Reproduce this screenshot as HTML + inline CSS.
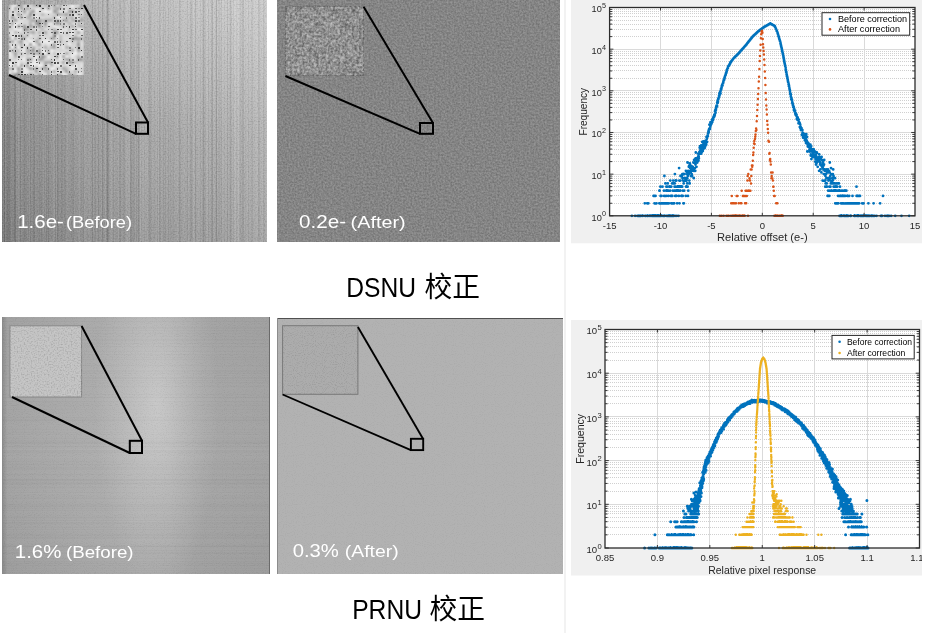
<!DOCTYPE html><html><head><meta charset="utf-8"><title>DSNU / PRNU</title><style>html,body{margin:0;padding:0;background:#fff;width:928px;height:635px;overflow:hidden}</style></head><body><svg width="928" height="635" viewBox="0 0 928 635" style="display:block">
<defs>
<filter id="fGrain" x="0" y="0" width="100%" height="100%" color-interpolation-filters="sRGB">
  <feTurbulence type="fractalNoise" baseFrequency="0.9" numOctaves="1" seed="5" result="t"/>
  <feColorMatrix in="t" type="matrix" values="0 0 0 0 0  0 0 0 0 0  0 0 0 0 0  2.2 0 0 0 -1.1" result="a"/>
  <feFlood flood-color="#000" result="blk"/>
  <feComposite in="blk" in2="a" operator="in"/>
</filter>
<filter id="fSoftD" x="0" y="0" width="100%" height="100%" color-interpolation-filters="sRGB">
  <feTurbulence type="fractalNoise" baseFrequency="0.7" numOctaves="1" seed="5" result="t"/>
  <feColorMatrix in="t" type="matrix" values="0 0 0 0 0  0 0 0 0 0  0 0 0 0 0  -1.2 0 0 0 0.6" result="a"/>
  <feFlood flood-color="#000" result="blk"/>
  <feComposite in="blk" in2="a" operator="in" result="c"/>
  <feGaussianBlur in="c" stdDeviation="0.35"/>
</filter>
<filter id="fSoftL" x="0" y="0" width="100%" height="100%" color-interpolation-filters="sRGB">
  <feTurbulence type="fractalNoise" baseFrequency="0.7" numOctaves="1" seed="5" result="t"/>
  <feColorMatrix in="t" type="matrix" values="0 0 0 0 0  0 0 0 0 0  0 0 0 0 0  1.2 0 0 0 -0.6" result="a"/>
  <feFlood flood-color="#fff" result="w"/>
  <feComposite in="w" in2="a" operator="in" result="c"/>
  <feGaussianBlur in="c" stdDeviation="0.35"/>
</filter>
<filter id="fCoarseD" x="0" y="0" width="100%" height="100%" color-interpolation-filters="sRGB">
  <feTurbulence type="fractalNoise" baseFrequency="0.42" numOctaves="2" seed="17" result="t"/>
  <feColorMatrix in="t" type="matrix" values="0 0 0 0 0  0 0 0 0 0  0 0 0 0 0  -2.4 0 0 0 1.15" result="a"/>
  <feFlood flood-color="#000" result="blk"/>
  <feComposite in="blk" in2="a" operator="in"/>
</filter>
<filter id="fCoarseL" x="0" y="0" width="100%" height="100%" color-interpolation-filters="sRGB">
  <feTurbulence type="fractalNoise" baseFrequency="0.42" numOctaves="2" seed="17" result="t"/>
  <feColorMatrix in="t" type="matrix" values="0 0 0 0 0  0 0 0 0 0  0 0 0 0 0  2.6 0 0 0 -1.25" result="a"/>
  <feFlood flood-color="#fff" result="w"/>
  <feComposite in="w" in2="a" operator="in"/>
</filter>
<filter id="fBlur2" x="-5%" y="-5%" width="110%" height="110%"><feGaussianBlur stdDeviation="0.8"/></filter>
<filter id="fMedD" x="0" y="0" width="100%" height="100%" color-interpolation-filters="sRGB">
  <feTurbulence type="fractalNoise" baseFrequency="0.55" numOctaves="2" seed="23" result="t"/>
  <feColorMatrix in="t" type="matrix" values="0 0 0 0 0  0 0 0 0 0  0 0 0 0 0  -2 0 0 0 1" result="a"/>
  <feFlood flood-color="#000" result="blk"/>
  <feComposite in="blk" in2="a" operator="in"/>
</filter>
<filter id="fMedL" x="0" y="0" width="100%" height="100%" color-interpolation-filters="sRGB">
  <feTurbulence type="fractalNoise" baseFrequency="0.55" numOctaves="2" seed="23" result="t"/>
  <feColorMatrix in="t" type="matrix" values="0 0 0 0 0  0 0 0 0 0  0 0 0 0 0  2 0 0 0 -1" result="a"/>
  <feFlood flood-color="#fff" result="w"/>
  <feComposite in="w" in2="a" operator="in"/>
</filter>
<filter id="fBlur" x="-5%" y="-5%" width="110%" height="110%"><feGaussianBlur stdDeviation="0.8"/></filter>
<clipPath id="clipInsA"><rect x="8.5" y="4.5" width="75.5" height="70.5"/></clipPath>

<linearGradient id="gA" x1="0" y1="0" x2="1" y2="0">
  <stop offset="0" stop-color="#808080"/>
  <stop offset="0.03" stop-color="#8c8c8c"/>
  <stop offset="0.15" stop-color="#969696"/>
  <stop offset="0.30" stop-color="#9e9e9e"/>
  <stop offset="0.44" stop-color="#a4a4a4"/>
  <stop offset="0.53" stop-color="#aeaeae"/>
  <stop offset="0.62" stop-color="#a9a9a9"/>
  <stop offset="0.72" stop-color="#aeaeae"/>
  <stop offset="0.86" stop-color="#b4b4b4"/>
  <stop offset="1" stop-color="#b8b8b8"/>
</linearGradient>
<linearGradient id="gAv" x1="0" y1="0" x2="0" y2="1">
  <stop offset="0" stop-color="#fff" stop-opacity="0.22"/>
  <stop offset="0.40" stop-color="#fff" stop-opacity="0.04"/>
  <stop offset="0.65" stop-color="#000" stop-opacity="0.02"/>
  <stop offset="1" stop-color="#000" stop-opacity="0.09"/>
</linearGradient>
<radialGradient id="gAr" cx="0.85" cy="0.05" r="0.6">
  <stop offset="0" stop-color="#fff" stop-opacity="0.14"/>
  <stop offset="1" stop-color="#fff" stop-opacity="0"/>
</radialGradient>
<linearGradient id="gC" x1="0" y1="0" x2="1" y2="0">
  <stop offset="0" stop-color="#8e8e8e"/>
  <stop offset="0.02" stop-color="#a5a5a5"/>
  <stop offset="0.30" stop-color="#adadad"/>
  <stop offset="0.50" stop-color="#b1b1b1"/>
  <stop offset="0.62" stop-color="#afafaf"/>
  <stop offset="0.74" stop-color="#a8a8a8"/>
  <stop offset="1" stop-color="#a4a4a4"/>
</linearGradient>
<radialGradient id="gCr" gradientUnits="userSpaceOnUse" cx="157" cy="405" r="100" gradientTransform="translate(157 405) scale(0.62 1.9) translate(-157 -405)">
  <stop offset="0" stop-color="#fff" stop-opacity="0.32"/>
  <stop offset="0.5" stop-color="#fff" stop-opacity="0.14"/>
  <stop offset="1" stop-color="#fff" stop-opacity="0"/>
</radialGradient>
<linearGradient id="gCv" x1="0" y1="0" x2="0" y2="1">
  <stop offset="0" stop-color="#000" stop-opacity="0.02"/>
  <stop offset="0.5" stop-color="#000" stop-opacity="0"/>
  <stop offset="1" stop-color="#000" stop-opacity="0.04"/>
</linearGradient>
</defs>
<rect x="0" y="0" width="928" height="635" fill="#fff"/>
<rect x="564" y="0" width="2" height="633" fill="#f2f2f2"/>
<rect x="2" y="0" width="265" height="242" fill="url(#gA)"/>
<rect x="2" y="0" width="265" height="242" fill="url(#gAv)"/>
<rect x="2" y="0" width="265" height="242" fill="url(#gAr)"/>
<g><rect x="2" y="0" width="1" height="242" fill="#fff" fill-opacity="0.020"/><rect x="3" y="0" width="1" height="242" fill="#fff" fill-opacity="0.083"/><rect x="4" y="0" width="1" height="242" fill="#000" fill-opacity="0.098"/><rect x="5" y="0" width="1" height="242" fill="#fff" fill-opacity="0.093"/><rect x="7" y="0" width="1" height="242" fill="#000" fill-opacity="0.044"/><rect x="8" y="0" width="1" height="242" fill="#000" fill-opacity="0.044"/><rect x="9" y="0" width="1" height="242" fill="#000" fill-opacity="0.060"/><rect x="11" y="0" width="1" height="242" fill="#fff" fill-opacity="0.046"/><rect x="12" y="0" width="1" height="242" fill="#fff" fill-opacity="0.032"/><rect x="13" y="0" width="1" height="242" fill="#fff" fill-opacity="0.035"/><rect x="14" y="0" width="1" height="242" fill="#000" fill-opacity="0.093"/><rect x="15" y="0" width="1" height="242" fill="#000" fill-opacity="0.086"/><rect x="16" y="0" width="1" height="242" fill="#fff" fill-opacity="0.085"/><rect x="17" y="0" width="1" height="242" fill="#fff" fill-opacity="0.053"/><rect x="18" y="0" width="1" height="242" fill="#fff" fill-opacity="0.120"/><rect x="19" y="0" width="1" height="242" fill="#fff" fill-opacity="0.067"/><rect x="20" y="0" width="1" height="242" fill="#000" fill-opacity="0.056"/><rect x="21" y="0" width="1" height="242" fill="#fff" fill-opacity="0.071"/><rect x="22" y="0" width="1" height="242" fill="#fff" fill-opacity="0.035"/><rect x="24" y="0" width="1" height="242" fill="#000" fill-opacity="0.045"/><rect x="27" y="0" width="1" height="242" fill="#fff" fill-opacity="0.049"/><rect x="29" y="0" width="1" height="242" fill="#fff" fill-opacity="0.087"/><rect x="30" y="0" width="1" height="242" fill="#000" fill-opacity="0.043"/><rect x="31" y="0" width="1" height="242" fill="#fff" fill-opacity="0.026"/><rect x="32" y="0" width="1" height="242" fill="#fff" fill-opacity="0.027"/><rect x="33" y="0" width="1" height="242" fill="#000" fill-opacity="0.048"/><rect x="34" y="0" width="1" height="242" fill="#000" fill-opacity="0.065"/><rect x="35" y="0" width="1" height="242" fill="#fff" fill-opacity="0.056"/><rect x="36" y="0" width="1" height="242" fill="#fff" fill-opacity="0.028"/><rect x="38" y="0" width="1" height="242" fill="#fff" fill-opacity="0.022"/><rect x="39" y="0" width="1" height="242" fill="#000" fill-opacity="0.037"/><rect x="41" y="0" width="1" height="242" fill="#000" fill-opacity="0.033"/><rect x="43" y="0" width="1" height="242" fill="#fff" fill-opacity="0.054"/><rect x="44" y="0" width="1" height="242" fill="#000" fill-opacity="0.019"/><rect x="45" y="0" width="1" height="242" fill="#fff" fill-opacity="0.047"/><rect x="46" y="0" width="1" height="242" fill="#000" fill-opacity="0.057"/><rect x="48" y="0" width="1" height="242" fill="#000" fill-opacity="0.075"/><rect x="53" y="0" width="1" height="242" fill="#fff" fill-opacity="0.074"/><rect x="54" y="0" width="1" height="242" fill="#fff" fill-opacity="0.078"/><rect x="55" y="0" width="1" height="242" fill="#000" fill-opacity="0.067"/><rect x="56" y="0" width="1" height="242" fill="#fff" fill-opacity="0.065"/><rect x="57" y="0" width="1" height="242" fill="#000" fill-opacity="0.095"/><rect x="58" y="0" width="1" height="242" fill="#000" fill-opacity="0.040"/><rect x="61" y="0" width="1" height="242" fill="#000" fill-opacity="0.058"/><rect x="62" y="0" width="1" height="242" fill="#000" fill-opacity="0.040"/><rect x="64" y="0" width="1" height="242" fill="#000" fill-opacity="0.038"/><rect x="65" y="0" width="1" height="242" fill="#000" fill-opacity="0.035"/><rect x="66" y="0" width="1" height="242" fill="#fff" fill-opacity="0.037"/><rect x="67" y="0" width="1" height="242" fill="#fff" fill-opacity="0.051"/><rect x="71" y="0" width="1" height="242" fill="#000" fill-opacity="0.025"/><rect x="72" y="0" width="1" height="242" fill="#000" fill-opacity="0.028"/><rect x="73" y="0" width="1" height="242" fill="#000" fill-opacity="0.057"/><rect x="74" y="0" width="1" height="242" fill="#fff" fill-opacity="0.036"/><rect x="78" y="0" width="1" height="242" fill="#fff" fill-opacity="0.029"/><rect x="79" y="0" width="1" height="242" fill="#fff" fill-opacity="0.078"/><rect x="81" y="0" width="1" height="242" fill="#000" fill-opacity="0.022"/><rect x="83" y="0" width="1" height="242" fill="#000" fill-opacity="0.047"/><rect x="84" y="0" width="1" height="242" fill="#fff" fill-opacity="0.070"/><rect x="85" y="0" width="1" height="242" fill="#fff" fill-opacity="0.051"/><rect x="86" y="0" width="1" height="242" fill="#fff" fill-opacity="0.038"/><rect x="88" y="0" width="1" height="242" fill="#fff" fill-opacity="0.041"/><rect x="89" y="0" width="1" height="242" fill="#fff" fill-opacity="0.058"/><rect x="90" y="0" width="1" height="242" fill="#fff" fill-opacity="0.027"/><rect x="92" y="0" width="1" height="242" fill="#000" fill-opacity="0.093"/><rect x="93" y="0" width="1" height="242" fill="#fff" fill-opacity="0.052"/><rect x="94" y="0" width="1" height="242" fill="#000" fill-opacity="0.019"/><rect x="95" y="0" width="1" height="242" fill="#000" fill-opacity="0.046"/><rect x="96" y="0" width="1" height="242" fill="#fff" fill-opacity="0.049"/><rect x="97" y="0" width="1" height="242" fill="#fff" fill-opacity="0.019"/><rect x="98" y="0" width="1" height="242" fill="#000" fill-opacity="0.078"/><rect x="101" y="0" width="1" height="242" fill="#fff" fill-opacity="0.055"/><rect x="102" y="0" width="1" height="242" fill="#000" fill-opacity="0.104"/><rect x="103" y="0" width="1" height="242" fill="#000" fill-opacity="0.021"/><rect x="105" y="0" width="1" height="242" fill="#fff" fill-opacity="0.078"/><rect x="106" y="0" width="1" height="242" fill="#000" fill-opacity="0.060"/><rect x="107" y="0" width="1" height="242" fill="#000" fill-opacity="0.160"/><rect x="108" y="0" width="1" height="242" fill="#000" fill-opacity="0.076"/><rect x="110" y="0" width="1" height="242" fill="#fff" fill-opacity="0.045"/><rect x="111" y="0" width="1" height="242" fill="#fff" fill-opacity="0.095"/><rect x="112" y="0" width="1" height="242" fill="#fff" fill-opacity="0.022"/><rect x="113" y="0" width="1" height="242" fill="#000" fill-opacity="0.044"/><rect x="114" y="0" width="1" height="242" fill="#fff" fill-opacity="0.049"/><rect x="118" y="0" width="1" height="242" fill="#fff" fill-opacity="0.070"/><rect x="119" y="0" width="1" height="242" fill="#000" fill-opacity="0.050"/><rect x="120" y="0" width="1" height="242" fill="#000" fill-opacity="0.056"/><rect x="123" y="0" width="1" height="242" fill="#000" fill-opacity="0.045"/><rect x="124" y="0" width="1" height="242" fill="#000" fill-opacity="0.048"/><rect x="125" y="0" width="1" height="242" fill="#fff" fill-opacity="0.021"/><rect x="126" y="0" width="1" height="242" fill="#fff" fill-opacity="0.074"/><rect x="127" y="0" width="1" height="242" fill="#fff" fill-opacity="0.039"/><rect x="128" y="0" width="1" height="242" fill="#fff" fill-opacity="0.038"/><rect x="129" y="0" width="1" height="242" fill="#fff" fill-opacity="0.069"/><rect x="130" y="0" width="1" height="242" fill="#000" fill-opacity="0.110"/><rect x="131" y="0" width="1" height="242" fill="#000" fill-opacity="0.083"/><rect x="132" y="0" width="1" height="242" fill="#000" fill-opacity="0.039"/><rect x="133" y="0" width="1" height="242" fill="#000" fill-opacity="0.066"/><rect x="134" y="0" width="1" height="242" fill="#000" fill-opacity="0.054"/><rect x="136" y="0" width="1" height="242" fill="#000" fill-opacity="0.071"/><rect x="137" y="0" width="1" height="242" fill="#000" fill-opacity="0.024"/><rect x="138" y="0" width="1" height="242" fill="#000" fill-opacity="0.112"/><rect x="139" y="0" width="1" height="242" fill="#000" fill-opacity="0.054"/><rect x="140" y="0" width="1" height="242" fill="#fff" fill-opacity="0.074"/><rect x="141" y="0" width="1" height="242" fill="#000" fill-opacity="0.030"/><rect x="142" y="0" width="1" height="242" fill="#fff" fill-opacity="0.018"/><rect x="143" y="0" width="1" height="242" fill="#fff" fill-opacity="0.039"/><rect x="144" y="0" width="1" height="242" fill="#000" fill-opacity="0.027"/><rect x="145" y="0" width="1" height="242" fill="#fff" fill-opacity="0.032"/><rect x="147" y="0" width="1" height="242" fill="#fff" fill-opacity="0.038"/><rect x="148" y="0" width="1" height="242" fill="#000" fill-opacity="0.035"/><rect x="149" y="0" width="1" height="242" fill="#000" fill-opacity="0.079"/><rect x="150" y="0" width="1" height="242" fill="#000" fill-opacity="0.056"/><rect x="151" y="0" width="1" height="242" fill="#000" fill-opacity="0.031"/><rect x="152" y="0" width="1" height="242" fill="#fff" fill-opacity="0.029"/><rect x="154" y="0" width="1" height="242" fill="#000" fill-opacity="0.022"/><rect x="156" y="0" width="1" height="242" fill="#fff" fill-opacity="0.060"/><rect x="157" y="0" width="1" height="242" fill="#000" fill-opacity="0.032"/><rect x="158" y="0" width="1" height="242" fill="#fff" fill-opacity="0.083"/><rect x="159" y="0" width="1" height="242" fill="#000" fill-opacity="0.068"/><rect x="160" y="0" width="1" height="242" fill="#000" fill-opacity="0.033"/><rect x="161" y="0" width="1" height="242" fill="#fff" fill-opacity="0.047"/><rect x="162" y="0" width="1" height="242" fill="#fff" fill-opacity="0.028"/><rect x="163" y="0" width="1" height="242" fill="#000" fill-opacity="0.047"/><rect x="165" y="0" width="1" height="242" fill="#000" fill-opacity="0.039"/><rect x="166" y="0" width="1" height="242" fill="#fff" fill-opacity="0.047"/><rect x="167" y="0" width="1" height="242" fill="#fff" fill-opacity="0.030"/><rect x="168" y="0" width="1" height="242" fill="#000" fill-opacity="0.039"/><rect x="169" y="0" width="1" height="242" fill="#fff" fill-opacity="0.022"/><rect x="170" y="0" width="1" height="242" fill="#000" fill-opacity="0.020"/><rect x="173" y="0" width="1" height="242" fill="#000" fill-opacity="0.031"/><rect x="174" y="0" width="1" height="242" fill="#fff" fill-opacity="0.023"/><rect x="175" y="0" width="1" height="242" fill="#fff" fill-opacity="0.025"/><rect x="176" y="0" width="1" height="242" fill="#fff" fill-opacity="0.023"/><rect x="177" y="0" width="1" height="242" fill="#fff" fill-opacity="0.061"/><rect x="179" y="0" width="1" height="242" fill="#000" fill-opacity="0.082"/><rect x="180" y="0" width="1" height="242" fill="#000" fill-opacity="0.027"/><rect x="183" y="0" width="1" height="242" fill="#fff" fill-opacity="0.032"/><rect x="184" y="0" width="1" height="242" fill="#fff" fill-opacity="0.044"/><rect x="187" y="0" width="1" height="242" fill="#000" fill-opacity="0.054"/><rect x="188" y="0" width="1" height="242" fill="#fff" fill-opacity="0.057"/><rect x="190" y="0" width="1" height="242" fill="#000" fill-opacity="0.060"/><rect x="191" y="0" width="1" height="242" fill="#000" fill-opacity="0.061"/><rect x="192" y="0" width="1" height="242" fill="#000" fill-opacity="0.023"/><rect x="193" y="0" width="1" height="242" fill="#fff" fill-opacity="0.086"/><rect x="194" y="0" width="1" height="242" fill="#fff" fill-opacity="0.042"/><rect x="195" y="0" width="1" height="242" fill="#000" fill-opacity="0.093"/><rect x="198" y="0" width="1" height="242" fill="#fff" fill-opacity="0.034"/><rect x="199" y="0" width="1" height="242" fill="#fff" fill-opacity="0.019"/><rect x="200" y="0" width="1" height="242" fill="#000" fill-opacity="0.035"/><rect x="201" y="0" width="1" height="242" fill="#fff" fill-opacity="0.023"/><rect x="202" y="0" width="1" height="242" fill="#000" fill-opacity="0.030"/><rect x="203" y="0" width="1" height="242" fill="#000" fill-opacity="0.123"/><rect x="204" y="0" width="1" height="242" fill="#000" fill-opacity="0.039"/><rect x="205" y="0" width="1" height="242" fill="#000" fill-opacity="0.038"/><rect x="206" y="0" width="1" height="242" fill="#fff" fill-opacity="0.052"/><rect x="207" y="0" width="1" height="242" fill="#fff" fill-opacity="0.058"/><rect x="208" y="0" width="1" height="242" fill="#000" fill-opacity="0.057"/><rect x="211" y="0" width="1" height="242" fill="#000" fill-opacity="0.079"/><rect x="212" y="0" width="1" height="242" fill="#000" fill-opacity="0.113"/><rect x="215" y="0" width="1" height="242" fill="#000" fill-opacity="0.033"/><rect x="216" y="0" width="1" height="242" fill="#000" fill-opacity="0.149"/><rect x="218" y="0" width="1" height="242" fill="#000" fill-opacity="0.032"/><rect x="219" y="0" width="1" height="242" fill="#000" fill-opacity="0.049"/><rect x="220" y="0" width="1" height="242" fill="#000" fill-opacity="0.018"/><rect x="221" y="0" width="1" height="242" fill="#000" fill-opacity="0.062"/><rect x="222" y="0" width="1" height="242" fill="#fff" fill-opacity="0.031"/><rect x="224" y="0" width="1" height="242" fill="#000" fill-opacity="0.031"/><rect x="227" y="0" width="1" height="242" fill="#000" fill-opacity="0.084"/><rect x="229" y="0" width="1" height="242" fill="#000" fill-opacity="0.025"/><rect x="230" y="0" width="1" height="242" fill="#000" fill-opacity="0.096"/><rect x="231" y="0" width="1" height="242" fill="#000" fill-opacity="0.036"/><rect x="232" y="0" width="1" height="242" fill="#fff" fill-opacity="0.023"/><rect x="233" y="0" width="1" height="242" fill="#000" fill-opacity="0.034"/><rect x="234" y="0" width="1" height="242" fill="#fff" fill-opacity="0.077"/><rect x="235" y="0" width="1" height="242" fill="#fff" fill-opacity="0.093"/><rect x="236" y="0" width="1" height="242" fill="#000" fill-opacity="0.017"/><rect x="237" y="0" width="1" height="242" fill="#fff" fill-opacity="0.030"/><rect x="238" y="0" width="1" height="242" fill="#fff" fill-opacity="0.110"/><rect x="239" y="0" width="1" height="242" fill="#000" fill-opacity="0.018"/><rect x="240" y="0" width="1" height="242" fill="#000" fill-opacity="0.049"/><rect x="241" y="0" width="1" height="242" fill="#000" fill-opacity="0.023"/><rect x="242" y="0" width="1" height="242" fill="#000" fill-opacity="0.076"/><rect x="243" y="0" width="1" height="242" fill="#000" fill-opacity="0.074"/><rect x="245" y="0" width="1" height="242" fill="#000" fill-opacity="0.023"/><rect x="247" y="0" width="1" height="242" fill="#fff" fill-opacity="0.027"/><rect x="248" y="0" width="1" height="242" fill="#000" fill-opacity="0.042"/><rect x="251" y="0" width="1" height="242" fill="#000" fill-opacity="0.037"/><rect x="252" y="0" width="1" height="242" fill="#000" fill-opacity="0.046"/><rect x="253" y="0" width="1" height="242" fill="#fff" fill-opacity="0.017"/><rect x="255" y="0" width="1" height="242" fill="#fff" fill-opacity="0.018"/><rect x="256" y="0" width="1" height="242" fill="#fff" fill-opacity="0.055"/><rect x="257" y="0" width="1" height="242" fill="#fff" fill-opacity="0.056"/><rect x="258" y="0" width="1" height="242" fill="#000" fill-opacity="0.061"/><rect x="259" y="0" width="1" height="242" fill="#000" fill-opacity="0.047"/><rect x="262" y="0" width="1" height="242" fill="#fff" fill-opacity="0.052"/><rect x="263" y="0" width="1" height="242" fill="#000" fill-opacity="0.053"/><rect x="264" y="0" width="1" height="242" fill="#000" fill-opacity="0.024"/><rect x="266" y="0" width="1" height="242" fill="#fff" fill-opacity="0.068"/></g>
<rect x="2" y="0" width="265" height="242" filter="url(#fSoftD)" opacity="0.3"/>
<rect x="2" y="0" width="265" height="242" filter="url(#fSoftL)" opacity="0.3"/>
<g clip-path="url(#clipInsA)"><g filter="url(#fBlur)"><rect x="8" y="4" width="76" height="71" fill="#d6d6d6"/><rect x="8" y="4" width="3" height="3" fill="#bdbdbd"/><rect x="11" y="4" width="3" height="3" fill="#e0e0e0"/><rect x="14" y="4" width="3" height="3" fill="#efefef"/><rect x="17" y="4" width="3" height="3" fill="#9c9c9c"/><rect x="20" y="4" width="3" height="3" fill="#aaaaaa"/><rect x="29" y="4" width="3" height="3" fill="#d8d8d8"/><rect x="32" y="4" width="3" height="3" fill="#bebebe"/><rect x="35" y="4" width="3" height="3" fill="#a7a7a7"/><rect x="38" y="4" width="3" height="3" fill="#979797"/><rect x="41" y="4" width="3" height="3" fill="#dfdfdf"/><rect x="44" y="4" width="3" height="3" fill="#bababa"/><rect x="53" y="4" width="3" height="3" fill="#9d9d9d"/><rect x="59" y="4" width="3" height="3" fill="#afafaf"/><rect x="62" y="4" width="3" height="3" fill="#e4e4e4"/><rect x="71" y="4" width="3" height="3" fill="#f0f0f0"/><rect x="77" y="4" width="3" height="3" fill="#dcdcdc"/><rect x="80" y="4" width="3" height="3" fill="#959595"/><rect x="8" y="7" width="3" height="3" fill="#ababab"/><rect x="11" y="7" width="3" height="3" fill="#f1f1f1"/><rect x="14" y="7" width="3" height="3" fill="#9d9d9d"/><rect x="17" y="7" width="3" height="3" fill="#e2e2e2"/><rect x="20" y="7" width="3" height="3" fill="#a3a3a3"/><rect x="26" y="7" width="3" height="3" fill="#a8a8a8"/><rect x="35" y="7" width="3" height="3" fill="#e3e3e3"/><rect x="38" y="7" width="3" height="3" fill="#e9e9e9"/><rect x="41" y="7" width="3" height="3" fill="#b3b3b3"/><rect x="44" y="7" width="3" height="3" fill="#e1e1e1"/><rect x="47" y="7" width="3" height="3" fill="#9e9e9e"/><rect x="53" y="7" width="3" height="3" fill="#bdbdbd"/><rect x="56" y="7" width="3" height="3" fill="#a3a3a3"/><rect x="59" y="7" width="3" height="3" fill="#bebebe"/><rect x="71" y="7" width="3" height="3" fill="#dddddd"/><rect x="77" y="7" width="3" height="3" fill="#b0b0b0"/><rect x="80" y="7" width="3" height="3" fill="#aeaeae"/><rect x="20" y="10" width="3" height="3" fill="#dedede"/><rect x="23" y="10" width="3" height="3" fill="#959595"/><rect x="26" y="10" width="3" height="3" fill="#e0e0e0"/><rect x="29" y="10" width="3" height="3" fill="#b8b8b8"/><rect x="32" y="10" width="3" height="3" fill="#969696"/><rect x="35" y="10" width="3" height="3" fill="#efefef"/><rect x="41" y="10" width="3" height="3" fill="#e9e9e9"/><rect x="44" y="10" width="3" height="3" fill="#f0f0f0"/><rect x="47" y="10" width="3" height="3" fill="#eeeeee"/><rect x="50" y="10" width="3" height="3" fill="#e8e8e8"/><rect x="53" y="10" width="3" height="3" fill="#919191"/><rect x="56" y="10" width="3" height="3" fill="#b9b9b9"/><rect x="59" y="10" width="3" height="3" fill="#ececec"/><rect x="65" y="10" width="3" height="3" fill="#e7e7e7"/><rect x="68" y="10" width="3" height="3" fill="#999999"/><rect x="71" y="10" width="3" height="3" fill="#919191"/><rect x="77" y="10" width="3" height="3" fill="#dedede"/><rect x="8" y="13" width="3" height="3" fill="#d9d9d9"/><rect x="11" y="13" width="3" height="3" fill="#dadada"/><rect x="14" y="13" width="3" height="3" fill="#e0e0e0"/><rect x="17" y="13" width="3" height="3" fill="#969696"/><rect x="29" y="13" width="3" height="3" fill="#8f8f8f"/><rect x="38" y="13" width="3" height="3" fill="#dcdcdc"/><rect x="41" y="13" width="3" height="3" fill="#b3b3b3"/><rect x="56" y="13" width="3" height="3" fill="#a3a3a3"/><rect x="59" y="13" width="3" height="3" fill="#aaaaaa"/><rect x="62" y="13" width="3" height="3" fill="#b9b9b9"/><rect x="65" y="13" width="3" height="3" fill="#939393"/><rect x="74" y="13" width="3" height="3" fill="#dcdcdc"/><rect x="77" y="13" width="3" height="3" fill="#b5b5b5"/><rect x="8" y="16" width="3" height="3" fill="#e0e0e0"/><rect x="11" y="16" width="3" height="3" fill="#8f8f8f"/><rect x="17" y="16" width="3" height="3" fill="#e2e2e2"/><rect x="20" y="16" width="3" height="3" fill="#929292"/><rect x="23" y="16" width="3" height="3" fill="#ebebeb"/><rect x="26" y="16" width="3" height="3" fill="#aeaeae"/><rect x="29" y="16" width="3" height="3" fill="#b7b7b7"/><rect x="32" y="16" width="3" height="3" fill="#dbdbdb"/><rect x="35" y="16" width="3" height="3" fill="#f4f4f4"/><rect x="41" y="16" width="3" height="3" fill="#dedede"/><rect x="53" y="16" width="3" height="3" fill="#b4b4b4"/><rect x="56" y="16" width="3" height="3" fill="#f2f2f2"/><rect x="59" y="16" width="3" height="3" fill="#f3f3f3"/><rect x="68" y="16" width="3" height="3" fill="#c0c0c0"/><rect x="71" y="16" width="3" height="3" fill="#b2b2b2"/><rect x="74" y="16" width="3" height="3" fill="#ebebeb"/><rect x="77" y="16" width="3" height="3" fill="#ececec"/><rect x="80" y="16" width="3" height="3" fill="#b3b3b3"/><rect x="14" y="19" width="3" height="3" fill="#909090"/><rect x="17" y="19" width="3" height="3" fill="#dcdcdc"/><rect x="20" y="19" width="3" height="3" fill="#e4e4e4"/><rect x="29" y="19" width="3" height="3" fill="#b9b9b9"/><rect x="32" y="19" width="3" height="3" fill="#a2a2a2"/><rect x="35" y="19" width="3" height="3" fill="#b4b4b4"/><rect x="38" y="19" width="3" height="3" fill="#9e9e9e"/><rect x="41" y="19" width="3" height="3" fill="#bababa"/><rect x="44" y="19" width="3" height="3" fill="#b3b3b3"/><rect x="47" y="19" width="3" height="3" fill="#aaaaaa"/><rect x="50" y="19" width="3" height="3" fill="#acacac"/><rect x="53" y="19" width="3" height="3" fill="#dfdfdf"/><rect x="56" y="19" width="3" height="3" fill="#a4a4a4"/><rect x="62" y="19" width="3" height="3" fill="#b1b1b1"/><rect x="65" y="19" width="3" height="3" fill="#969696"/><rect x="71" y="19" width="3" height="3" fill="#b6b6b6"/><rect x="74" y="19" width="3" height="3" fill="#aaaaaa"/><rect x="80" y="19" width="3" height="3" fill="#8f8f8f"/><rect x="8" y="22" width="3" height="3" fill="#eaeaea"/><rect x="11" y="22" width="3" height="3" fill="#a8a8a8"/><rect x="14" y="22" width="3" height="3" fill="#f3f3f3"/><rect x="17" y="22" width="3" height="3" fill="#e3e3e3"/><rect x="29" y="22" width="3" height="3" fill="#b6b6b6"/><rect x="32" y="22" width="3" height="3" fill="#dedede"/><rect x="35" y="22" width="3" height="3" fill="#939393"/><rect x="38" y="22" width="3" height="3" fill="#939393"/><rect x="44" y="22" width="3" height="3" fill="#8c8c8c"/><rect x="47" y="22" width="3" height="3" fill="#dfdfdf"/><rect x="50" y="22" width="3" height="3" fill="#e9e9e9"/><rect x="53" y="22" width="3" height="3" fill="#b8b8b8"/><rect x="56" y="22" width="3" height="3" fill="#8e8e8e"/><rect x="59" y="22" width="3" height="3" fill="#b6b6b6"/><rect x="62" y="22" width="3" height="3" fill="#e0e0e0"/><rect x="68" y="22" width="3" height="3" fill="#b1b1b1"/><rect x="74" y="22" width="3" height="3" fill="#e6e6e6"/><rect x="77" y="22" width="3" height="3" fill="#bababa"/><rect x="80" y="22" width="3" height="3" fill="#d9d9d9"/><rect x="8" y="25" width="3" height="3" fill="#bfbfbf"/><rect x="14" y="25" width="3" height="3" fill="#eeeeee"/><rect x="17" y="25" width="3" height="3" fill="#979797"/><rect x="23" y="25" width="3" height="3" fill="#8d8d8d"/><rect x="29" y="25" width="3" height="3" fill="#9d9d9d"/><rect x="32" y="25" width="3" height="3" fill="#bbbbbb"/><rect x="38" y="25" width="3" height="3" fill="#8d8d8d"/><rect x="44" y="25" width="3" height="3" fill="#bbbbbb"/><rect x="47" y="25" width="3" height="3" fill="#e0e0e0"/><rect x="50" y="25" width="3" height="3" fill="#d8d8d8"/><rect x="53" y="25" width="3" height="3" fill="#ededed"/><rect x="56" y="25" width="3" height="3" fill="#e8e8e8"/><rect x="59" y="25" width="3" height="3" fill="#dadada"/><rect x="62" y="25" width="3" height="3" fill="#b8b8b8"/><rect x="71" y="25" width="3" height="3" fill="#a4a4a4"/><rect x="74" y="25" width="3" height="3" fill="#d8d8d8"/><rect x="77" y="25" width="3" height="3" fill="#c0c0c0"/><rect x="80" y="25" width="3" height="3" fill="#9d9d9d"/><rect x="14" y="28" width="3" height="3" fill="#e8e8e8"/><rect x="17" y="28" width="3" height="3" fill="#e9e9e9"/><rect x="20" y="28" width="3" height="3" fill="#e7e7e7"/><rect x="23" y="28" width="3" height="3" fill="#9a9a9a"/><rect x="26" y="28" width="3" height="3" fill="#919191"/><rect x="35" y="28" width="3" height="3" fill="#e0e0e0"/><rect x="38" y="28" width="3" height="3" fill="#dcdcdc"/><rect x="41" y="28" width="3" height="3" fill="#b5b5b5"/><rect x="44" y="28" width="3" height="3" fill="#e1e1e1"/><rect x="53" y="28" width="3" height="3" fill="#b0b0b0"/><rect x="56" y="28" width="3" height="3" fill="#dbdbdb"/><rect x="59" y="28" width="3" height="3" fill="#e4e4e4"/><rect x="62" y="28" width="3" height="3" fill="#e0e0e0"/><rect x="65" y="28" width="3" height="3" fill="#e3e3e3"/><rect x="68" y="28" width="3" height="3" fill="#bcbcbc"/><rect x="71" y="28" width="3" height="3" fill="#ededed"/><rect x="74" y="28" width="3" height="3" fill="#bfbfbf"/><rect x="77" y="28" width="3" height="3" fill="#f4f4f4"/><rect x="80" y="28" width="3" height="3" fill="#f2f2f2"/><rect x="11" y="31" width="3" height="3" fill="#e8e8e8"/><rect x="14" y="31" width="3" height="3" fill="#b4b4b4"/><rect x="29" y="31" width="3" height="3" fill="#b5b5b5"/><rect x="32" y="31" width="3" height="3" fill="#a1a1a1"/><rect x="35" y="31" width="3" height="3" fill="#d8d8d8"/><rect x="38" y="31" width="3" height="3" fill="#b0b0b0"/><rect x="41" y="31" width="3" height="3" fill="#dedede"/><rect x="44" y="31" width="3" height="3" fill="#9d9d9d"/><rect x="47" y="31" width="3" height="3" fill="#dadada"/><rect x="53" y="31" width="3" height="3" fill="#ababab"/><rect x="56" y="31" width="3" height="3" fill="#949494"/><rect x="59" y="31" width="3" height="3" fill="#f4f4f4"/><rect x="71" y="31" width="3" height="3" fill="#e7e7e7"/><rect x="74" y="31" width="3" height="3" fill="#d7d7d7"/><rect x="77" y="31" width="3" height="3" fill="#979797"/><rect x="80" y="31" width="3" height="3" fill="#dedede"/><rect x="11" y="34" width="3" height="3" fill="#e0e0e0"/><rect x="14" y="34" width="3" height="3" fill="#e9e9e9"/><rect x="17" y="34" width="3" height="3" fill="#e0e0e0"/><rect x="20" y="34" width="3" height="3" fill="#adadad"/><rect x="26" y="34" width="3" height="3" fill="#a8a8a8"/><rect x="29" y="34" width="3" height="3" fill="#ebebeb"/><rect x="35" y="34" width="3" height="3" fill="#d8d8d8"/><rect x="41" y="34" width="3" height="3" fill="#e6e6e6"/><rect x="50" y="34" width="3" height="3" fill="#dfdfdf"/><rect x="53" y="34" width="3" height="3" fill="#919191"/><rect x="56" y="34" width="3" height="3" fill="#e6e6e6"/><rect x="59" y="34" width="3" height="3" fill="#c0c0c0"/><rect x="62" y="34" width="3" height="3" fill="#dbdbdb"/><rect x="71" y="34" width="3" height="3" fill="#efefef"/><rect x="74" y="34" width="3" height="3" fill="#c1c1c1"/><rect x="77" y="34" width="3" height="3" fill="#e3e3e3"/><rect x="80" y="34" width="3" height="3" fill="#dedede"/><rect x="8" y="37" width="3" height="3" fill="#9c9c9c"/><rect x="11" y="37" width="3" height="3" fill="#f2f2f2"/><rect x="14" y="37" width="3" height="3" fill="#a5a5a5"/><rect x="17" y="37" width="3" height="3" fill="#efefef"/><rect x="20" y="37" width="3" height="3" fill="#bebebe"/><rect x="23" y="37" width="3" height="3" fill="#9f9f9f"/><rect x="26" y="37" width="3" height="3" fill="#ebebeb"/><rect x="38" y="37" width="3" height="3" fill="#a8a8a8"/><rect x="41" y="37" width="3" height="3" fill="#dadada"/><rect x="47" y="37" width="3" height="3" fill="#dcdcdc"/><rect x="50" y="37" width="3" height="3" fill="#a3a3a3"/><rect x="53" y="37" width="3" height="3" fill="#a5a5a5"/><rect x="56" y="37" width="3" height="3" fill="#ececec"/><rect x="59" y="37" width="3" height="3" fill="#bcbcbc"/><rect x="62" y="37" width="3" height="3" fill="#dbdbdb"/><rect x="65" y="37" width="3" height="3" fill="#e0e0e0"/><rect x="68" y="37" width="3" height="3" fill="#dbdbdb"/><rect x="71" y="37" width="3" height="3" fill="#9d9d9d"/><rect x="74" y="37" width="3" height="3" fill="#939393"/><rect x="77" y="37" width="3" height="3" fill="#a3a3a3"/><rect x="80" y="37" width="3" height="3" fill="#a8a8a8"/><rect x="11" y="40" width="3" height="3" fill="#a2a2a2"/><rect x="14" y="40" width="3" height="3" fill="#eaeaea"/><rect x="17" y="40" width="3" height="3" fill="#bcbcbc"/><rect x="20" y="40" width="3" height="3" fill="#9b9b9b"/><rect x="23" y="40" width="3" height="3" fill="#ebebeb"/><rect x="29" y="40" width="3" height="3" fill="#f4f4f4"/><rect x="32" y="40" width="3" height="3" fill="#e5e5e5"/><rect x="35" y="40" width="3" height="3" fill="#9c9c9c"/><rect x="41" y="40" width="3" height="3" fill="#e8e8e8"/><rect x="44" y="40" width="3" height="3" fill="#f1f1f1"/><rect x="47" y="40" width="3" height="3" fill="#eeeeee"/><rect x="50" y="40" width="3" height="3" fill="#ededed"/><rect x="53" y="40" width="3" height="3" fill="#e6e6e6"/><rect x="59" y="40" width="3" height="3" fill="#b6b6b6"/><rect x="68" y="40" width="3" height="3" fill="#e0e0e0"/><rect x="71" y="40" width="3" height="3" fill="#bfbfbf"/><rect x="77" y="40" width="3" height="3" fill="#b5b5b5"/><rect x="80" y="40" width="3" height="3" fill="#d9d9d9"/><rect x="11" y="43" width="3" height="3" fill="#e4e4e4"/><rect x="20" y="43" width="3" height="3" fill="#b8b8b8"/><rect x="26" y="43" width="3" height="3" fill="#f0f0f0"/><rect x="29" y="43" width="3" height="3" fill="#909090"/><rect x="32" y="43" width="3" height="3" fill="#f3f3f3"/><rect x="35" y="43" width="3" height="3" fill="#dadada"/><rect x="38" y="43" width="3" height="3" fill="#929292"/><rect x="41" y="43" width="3" height="3" fill="#e3e3e3"/><rect x="47" y="43" width="3" height="3" fill="#e5e5e5"/><rect x="53" y="43" width="3" height="3" fill="#9a9a9a"/><rect x="56" y="43" width="3" height="3" fill="#f2f2f2"/><rect x="68" y="43" width="3" height="3" fill="#ececec"/><rect x="77" y="43" width="3" height="3" fill="#919191"/><rect x="80" y="43" width="3" height="3" fill="#e2e2e2"/><rect x="8" y="46" width="3" height="3" fill="#a8a8a8"/><rect x="11" y="46" width="3" height="3" fill="#f4f4f4"/><rect x="14" y="46" width="3" height="3" fill="#9d9d9d"/><rect x="17" y="46" width="3" height="3" fill="#f1f1f1"/><rect x="20" y="46" width="3" height="3" fill="#b4b4b4"/><rect x="23" y="46" width="3" height="3" fill="#e6e6e6"/><rect x="26" y="46" width="3" height="3" fill="#adadad"/><rect x="29" y="46" width="3" height="3" fill="#e6e6e6"/><rect x="32" y="46" width="3" height="3" fill="#aaaaaa"/><rect x="38" y="46" width="3" height="3" fill="#d9d9d9"/><rect x="44" y="46" width="3" height="3" fill="#a8a8a8"/><rect x="50" y="46" width="3" height="3" fill="#b3b3b3"/><rect x="53" y="46" width="3" height="3" fill="#a0a0a0"/><rect x="56" y="46" width="3" height="3" fill="#dedede"/><rect x="62" y="46" width="3" height="3" fill="#e9e9e9"/><rect x="65" y="46" width="3" height="3" fill="#aaaaaa"/><rect x="68" y="46" width="3" height="3" fill="#c0c0c0"/><rect x="77" y="46" width="3" height="3" fill="#b1b1b1"/><rect x="8" y="49" width="3" height="3" fill="#eaeaea"/><rect x="11" y="49" width="3" height="3" fill="#a4a4a4"/><rect x="17" y="49" width="3" height="3" fill="#bebebe"/><rect x="20" y="49" width="3" height="3" fill="#eeeeee"/><rect x="23" y="49" width="3" height="3" fill="#e5e5e5"/><rect x="26" y="49" width="3" height="3" fill="#afafaf"/><rect x="29" y="49" width="3" height="3" fill="#b1b1b1"/><rect x="32" y="49" width="3" height="3" fill="#8c8c8c"/><rect x="35" y="49" width="3" height="3" fill="#e2e2e2"/><rect x="38" y="49" width="3" height="3" fill="#919191"/><rect x="41" y="49" width="3" height="3" fill="#f1f1f1"/><rect x="44" y="49" width="3" height="3" fill="#e0e0e0"/><rect x="47" y="49" width="3" height="3" fill="#b7b7b7"/><rect x="50" y="49" width="3" height="3" fill="#efefef"/><rect x="53" y="49" width="3" height="3" fill="#dfdfdf"/><rect x="65" y="49" width="3" height="3" fill="#e2e2e2"/><rect x="71" y="49" width="3" height="3" fill="#a4a4a4"/><rect x="74" y="49" width="3" height="3" fill="#eaeaea"/><rect x="77" y="49" width="3" height="3" fill="#969696"/><rect x="8" y="52" width="3" height="3" fill="#efefef"/><rect x="14" y="52" width="3" height="3" fill="#969696"/><rect x="20" y="52" width="3" height="3" fill="#b9b9b9"/><rect x="23" y="52" width="3" height="3" fill="#e0e0e0"/><rect x="26" y="52" width="3" height="3" fill="#bababa"/><rect x="29" y="52" width="3" height="3" fill="#c2c2c2"/><rect x="32" y="52" width="3" height="3" fill="#c0c0c0"/><rect x="35" y="52" width="3" height="3" fill="#b7b7b7"/><rect x="38" y="52" width="3" height="3" fill="#a7a7a7"/><rect x="44" y="52" width="3" height="3" fill="#f3f3f3"/><rect x="47" y="52" width="3" height="3" fill="#a3a3a3"/><rect x="50" y="52" width="3" height="3" fill="#e3e3e3"/><rect x="53" y="52" width="3" height="3" fill="#c2c2c2"/><rect x="56" y="52" width="3" height="3" fill="#e7e7e7"/><rect x="59" y="52" width="3" height="3" fill="#dcdcdc"/><rect x="62" y="52" width="3" height="3" fill="#ececec"/><rect x="65" y="52" width="3" height="3" fill="#a5a5a5"/><rect x="71" y="52" width="3" height="3" fill="#e5e5e5"/><rect x="74" y="52" width="3" height="3" fill="#f3f3f3"/><rect x="80" y="52" width="3" height="3" fill="#e2e2e2"/><rect x="8" y="55" width="3" height="3" fill="#e3e3e3"/><rect x="11" y="55" width="3" height="3" fill="#dfdfdf"/><rect x="14" y="55" width="3" height="3" fill="#afafaf"/><rect x="17" y="55" width="3" height="3" fill="#dcdcdc"/><rect x="23" y="55" width="3" height="3" fill="#dfdfdf"/><rect x="29" y="55" width="3" height="3" fill="#e1e1e1"/><rect x="35" y="55" width="3" height="3" fill="#f0f0f0"/><rect x="41" y="55" width="3" height="3" fill="#8f8f8f"/><rect x="44" y="55" width="3" height="3" fill="#b1b1b1"/><rect x="47" y="55" width="3" height="3" fill="#f3f3f3"/><rect x="53" y="55" width="3" height="3" fill="#dedede"/><rect x="56" y="55" width="3" height="3" fill="#9d9d9d"/><rect x="59" y="55" width="3" height="3" fill="#efefef"/><rect x="62" y="55" width="3" height="3" fill="#9a9a9a"/><rect x="65" y="55" width="3" height="3" fill="#f0f0f0"/><rect x="68" y="55" width="3" height="3" fill="#d7d7d7"/><rect x="71" y="55" width="3" height="3" fill="#eaeaea"/><rect x="77" y="55" width="3" height="3" fill="#bababa"/><rect x="80" y="55" width="3" height="3" fill="#e5e5e5"/><rect x="8" y="58" width="3" height="3" fill="#dbdbdb"/><rect x="17" y="58" width="3" height="3" fill="#e2e2e2"/><rect x="20" y="58" width="3" height="3" fill="#e0e0e0"/><rect x="23" y="58" width="3" height="3" fill="#f1f1f1"/><rect x="26" y="58" width="3" height="3" fill="#aaaaaa"/><rect x="29" y="58" width="3" height="3" fill="#949494"/><rect x="32" y="58" width="3" height="3" fill="#e3e3e3"/><rect x="35" y="58" width="3" height="3" fill="#e2e2e2"/><rect x="38" y="58" width="3" height="3" fill="#969696"/><rect x="41" y="58" width="3" height="3" fill="#a5a5a5"/><rect x="53" y="58" width="3" height="3" fill="#dadada"/><rect x="59" y="58" width="3" height="3" fill="#eaeaea"/><rect x="62" y="58" width="3" height="3" fill="#dcdcdc"/><rect x="65" y="58" width="3" height="3" fill="#9e9e9e"/><rect x="68" y="58" width="3" height="3" fill="#b1b1b1"/><rect x="74" y="58" width="3" height="3" fill="#e4e4e4"/><rect x="77" y="58" width="3" height="3" fill="#999999"/><rect x="80" y="58" width="3" height="3" fill="#8e8e8e"/><rect x="8" y="61" width="3" height="3" fill="#d7d7d7"/><rect x="11" y="61" width="3" height="3" fill="#e7e7e7"/><rect x="17" y="61" width="3" height="3" fill="#eaeaea"/><rect x="23" y="61" width="3" height="3" fill="#dddddd"/><rect x="29" y="61" width="3" height="3" fill="#dfdfdf"/><rect x="32" y="61" width="3" height="3" fill="#e3e3e3"/><rect x="35" y="61" width="3" height="3" fill="#f0f0f0"/><rect x="41" y="61" width="3" height="3" fill="#d9d9d9"/><rect x="44" y="61" width="3" height="3" fill="#a6a6a6"/><rect x="47" y="61" width="3" height="3" fill="#a7a7a7"/><rect x="50" y="61" width="3" height="3" fill="#a2a2a2"/><rect x="53" y="61" width="3" height="3" fill="#eeeeee"/><rect x="56" y="61" width="3" height="3" fill="#dedede"/><rect x="62" y="61" width="3" height="3" fill="#a4a4a4"/><rect x="65" y="61" width="3" height="3" fill="#f3f3f3"/><rect x="68" y="61" width="3" height="3" fill="#9b9b9b"/><rect x="71" y="61" width="3" height="3" fill="#acacac"/><rect x="74" y="61" width="3" height="3" fill="#bcbcbc"/><rect x="80" y="61" width="3" height="3" fill="#d7d7d7"/><rect x="8" y="64" width="3" height="3" fill="#f3f3f3"/><rect x="11" y="64" width="3" height="3" fill="#e5e5e5"/><rect x="14" y="64" width="3" height="3" fill="#bababa"/><rect x="17" y="64" width="3" height="3" fill="#f0f0f0"/><rect x="20" y="64" width="3" height="3" fill="#9f9f9f"/><rect x="26" y="64" width="3" height="3" fill="#989898"/><rect x="29" y="64" width="3" height="3" fill="#f2f2f2"/><rect x="32" y="64" width="3" height="3" fill="#f4f4f4"/><rect x="35" y="64" width="3" height="3" fill="#dfdfdf"/><rect x="38" y="64" width="3" height="3" fill="#f2f2f2"/><rect x="41" y="64" width="3" height="3" fill="#e8e8e8"/><rect x="44" y="64" width="3" height="3" fill="#9c9c9c"/><rect x="47" y="64" width="3" height="3" fill="#f2f2f2"/><rect x="50" y="64" width="3" height="3" fill="#b2b2b2"/><rect x="53" y="64" width="3" height="3" fill="#e1e1e1"/><rect x="56" y="64" width="3" height="3" fill="#e8e8e8"/><rect x="59" y="64" width="3" height="3" fill="#efefef"/><rect x="68" y="64" width="3" height="3" fill="#e6e6e6"/><rect x="74" y="64" width="3" height="3" fill="#f3f3f3"/><rect x="80" y="64" width="3" height="3" fill="#e4e4e4"/><rect x="8" y="67" width="3" height="3" fill="#b8b8b8"/><rect x="11" y="67" width="3" height="3" fill="#bdbdbd"/><rect x="14" y="67" width="3" height="3" fill="#e6e6e6"/><rect x="17" y="67" width="3" height="3" fill="#929292"/><rect x="23" y="67" width="3" height="3" fill="#efefef"/><rect x="29" y="67" width="3" height="3" fill="#8e8e8e"/><rect x="32" y="67" width="3" height="3" fill="#bebebe"/><rect x="35" y="67" width="3" height="3" fill="#a2a2a2"/><rect x="38" y="67" width="3" height="3" fill="#dadada"/><rect x="41" y="67" width="3" height="3" fill="#ababab"/><rect x="44" y="67" width="3" height="3" fill="#acacac"/><rect x="47" y="67" width="3" height="3" fill="#bdbdbd"/><rect x="50" y="67" width="3" height="3" fill="#f3f3f3"/><rect x="53" y="67" width="3" height="3" fill="#ededed"/><rect x="56" y="67" width="3" height="3" fill="#bebebe"/><rect x="62" y="67" width="3" height="3" fill="#a1a1a1"/><rect x="65" y="67" width="3" height="3" fill="#bdbdbd"/><rect x="71" y="67" width="3" height="3" fill="#eeeeee"/><rect x="77" y="67" width="3" height="3" fill="#dfdfdf"/><rect x="8" y="70" width="3" height="3" fill="#e7e7e7"/><rect x="14" y="70" width="3" height="3" fill="#ededed"/><rect x="17" y="70" width="3" height="3" fill="#b6b6b6"/><rect x="20" y="70" width="3" height="3" fill="#bebebe"/><rect x="23" y="70" width="3" height="3" fill="#e8e8e8"/><rect x="26" y="70" width="3" height="3" fill="#ededed"/><rect x="29" y="70" width="3" height="3" fill="#dedede"/><rect x="35" y="70" width="3" height="3" fill="#a0a0a0"/><rect x="38" y="70" width="3" height="3" fill="#e5e5e5"/><rect x="41" y="70" width="3" height="3" fill="#e5e5e5"/><rect x="44" y="70" width="3" height="3" fill="#c1c1c1"/><rect x="47" y="70" width="3" height="3" fill="#bdbdbd"/><rect x="53" y="70" width="3" height="3" fill="#a7a7a7"/><rect x="56" y="70" width="3" height="3" fill="#efefef"/><rect x="59" y="70" width="3" height="3" fill="#f3f3f3"/><rect x="65" y="70" width="3" height="3" fill="#989898"/><rect x="68" y="70" width="3" height="3" fill="#d8d8d8"/><rect x="74" y="70" width="3" height="3" fill="#b2b2b2"/><rect x="77" y="70" width="3" height="3" fill="#d9d9d9"/><rect x="11" y="73" width="3" height="3" fill="#b8b8b8"/><rect x="14" y="73" width="3" height="3" fill="#949494"/><rect x="17" y="73" width="3" height="3" fill="#909090"/><rect x="23" y="73" width="3" height="3" fill="#e6e6e6"/><rect x="29" y="73" width="3" height="3" fill="#9f9f9f"/><rect x="35" y="73" width="3" height="3" fill="#d9d9d9"/><rect x="38" y="73" width="3" height="3" fill="#9d9d9d"/><rect x="41" y="73" width="3" height="3" fill="#e3e3e3"/><rect x="44" y="73" width="3" height="3" fill="#ededed"/><rect x="47" y="73" width="3" height="3" fill="#b4b4b4"/><rect x="50" y="73" width="3" height="3" fill="#ebebeb"/><rect x="53" y="73" width="3" height="3" fill="#dadada"/><rect x="59" y="73" width="3" height="3" fill="#ababab"/><rect x="62" y="73" width="3" height="3" fill="#f2f2f2"/><rect x="65" y="73" width="3" height="3" fill="#ececec"/><rect x="68" y="73" width="3" height="3" fill="#9b9b9b"/><rect x="77" y="73" width="3" height="3" fill="#ededed"/><rect x="80" y="73" width="3" height="3" fill="#e6e6e6"/></g><rect x="18" y="5" width="2" height="1" fill="#484848"/><rect x="27" y="5" width="2" height="2" fill="#404040"/><rect x="36" y="5" width="1" height="1" fill="#333333"/><rect x="39" y="5" width="2" height="2" fill="#323232"/><rect x="48" y="5" width="2" height="2" fill="#626262"/><rect x="51" y="5" width="1" height="1" fill="#676767"/><rect x="54" y="5" width="1" height="1" fill="#7b7b7b"/><rect x="63" y="5" width="2" height="1" fill="#565656"/><rect x="66" y="5" width="1" height="1" fill="#6e6e6e"/><rect x="9" y="8" width="1" height="1" fill="#565656"/><rect x="18" y="8" width="1" height="2" fill="#3d3d3d"/><rect x="24" y="8" width="1" height="2" fill="#676767"/><rect x="30" y="8" width="1" height="1" fill="#868686"/><rect x="42" y="8" width="2" height="1" fill="#434343"/><rect x="48" y="8" width="1" height="1" fill="#878787"/><rect x="60" y="8" width="1" height="2" fill="#585858"/><rect x="63" y="8" width="2" height="2" fill="#7a7a7a"/><rect x="69" y="8" width="2" height="1" fill="#555555"/><rect x="75" y="8" width="2" height="1" fill="#686868"/><rect x="78" y="8" width="2" height="1" fill="#888888"/><rect x="81" y="8" width="2" height="1" fill="#373737"/><rect x="12" y="11" width="2" height="2" fill="#848484"/><rect x="18" y="11" width="1" height="1" fill="#343434"/><rect x="21" y="11" width="1" height="1" fill="#656565"/><rect x="39" y="11" width="2" height="1" fill="#505050"/><rect x="63" y="11" width="1" height="2" fill="#343434"/><rect x="72" y="11" width="1" height="2" fill="#3e3e3e"/><rect x="75" y="11" width="2" height="2" fill="#535353"/><rect x="78" y="11" width="2" height="1" fill="#5b5b5b"/><rect x="12" y="14" width="2" height="2" fill="#393939"/><rect x="21" y="14" width="1" height="1" fill="#717171"/><rect x="33" y="14" width="2" height="2" fill="#494949"/><rect x="48" y="14" width="1" height="1" fill="#6b6b6b"/><rect x="57" y="14" width="1" height="2" fill="#7d7d7d"/><rect x="69" y="14" width="2" height="2" fill="#727272"/><rect x="72" y="14" width="2" height="2" fill="#3a3a3a"/><rect x="78" y="14" width="2" height="1" fill="#848484"/><rect x="81" y="14" width="1" height="1" fill="#5c5c5c"/><rect x="18" y="17" width="1" height="1" fill="#3d3d3d"/><rect x="21" y="17" width="2" height="1" fill="#7f7f7f"/><rect x="24" y="17" width="2" height="1" fill="#616161"/><rect x="33" y="17" width="2" height="2" fill="#8a8a8a"/><rect x="36" y="17" width="1" height="1" fill="#5f5f5f"/><rect x="39" y="17" width="1" height="2" fill="#4e4e4e"/><rect x="54" y="17" width="1" height="2" fill="#414141"/><rect x="60" y="17" width="1" height="1" fill="#606060"/><rect x="66" y="17" width="1" height="2" fill="#7a7a7a"/><rect x="75" y="17" width="2" height="2" fill="#636363"/><rect x="78" y="17" width="2" height="1" fill="#888888"/><rect x="9" y="20" width="1" height="2" fill="#646464"/><rect x="12" y="20" width="1" height="2" fill="#5a5a5a"/><rect x="36" y="20" width="1" height="2" fill="#5b5b5b"/><rect x="45" y="20" width="2" height="2" fill="#555555"/><rect x="54" y="20" width="2" height="2" fill="#585858"/><rect x="57" y="20" width="2" height="2" fill="#666666"/><rect x="60" y="20" width="1" height="2" fill="#4a4a4a"/><rect x="63" y="20" width="1" height="1" fill="#7f7f7f"/><rect x="75" y="20" width="2" height="2" fill="#4e4e4e"/><rect x="78" y="20" width="2" height="2" fill="#737373"/><rect x="9" y="23" width="2" height="1" fill="#6b6b6b"/><rect x="15" y="23" width="1" height="1" fill="#4d4d4d"/><rect x="21" y="23" width="1" height="1" fill="#3e3e3e"/><rect x="39" y="23" width="2" height="1" fill="#414141"/><rect x="42" y="23" width="1" height="1" fill="#424242"/><rect x="54" y="23" width="1" height="2" fill="#858585"/><rect x="60" y="23" width="1" height="2" fill="#878787"/><rect x="63" y="23" width="2" height="2" fill="#7c7c7c"/><rect x="75" y="23" width="1" height="2" fill="#737373"/><rect x="81" y="23" width="1" height="1" fill="#424242"/><rect x="9" y="26" width="2" height="2" fill="#828282"/><rect x="15" y="26" width="1" height="2" fill="#3e3e3e"/><rect x="18" y="26" width="2" height="1" fill="#868686"/><rect x="21" y="26" width="2" height="1" fill="#7b7b7b"/><rect x="27" y="26" width="2" height="2" fill="#4a4a4a"/><rect x="33" y="26" width="2" height="2" fill="#767676"/><rect x="36" y="26" width="1" height="2" fill="#737373"/><rect x="42" y="26" width="1" height="1" fill="#737373"/><rect x="48" y="26" width="2" height="1" fill="#454545"/><rect x="63" y="26" width="1" height="2" fill="#676767"/><rect x="66" y="26" width="1" height="1" fill="#606060"/><rect x="69" y="26" width="1" height="2" fill="#494949"/><rect x="75" y="26" width="1" height="1" fill="#3f3f3f"/><rect x="24" y="29" width="1" height="2" fill="#626262"/><rect x="30" y="29" width="2" height="1" fill="#484848"/><rect x="36" y="29" width="1" height="2" fill="#5c5c5c"/><rect x="48" y="29" width="1" height="1" fill="#7a7a7a"/><rect x="51" y="29" width="2" height="1" fill="#808080"/><rect x="57" y="29" width="2" height="1" fill="#363636"/><rect x="60" y="29" width="2" height="1" fill="#666666"/><rect x="72" y="29" width="2" height="1" fill="#3e3e3e"/><rect x="75" y="29" width="2" height="1" fill="#727272"/><rect x="81" y="29" width="2" height="1" fill="#3a3a3a"/><rect x="9" y="32" width="1" height="2" fill="#848484"/><rect x="18" y="32" width="1" height="1" fill="#7b7b7b"/><rect x="24" y="32" width="1" height="2" fill="#5a5a5a"/><rect x="27" y="32" width="2" height="1" fill="#868686"/><rect x="42" y="32" width="2" height="2" fill="#4d4d4d"/><rect x="51" y="32" width="2" height="1" fill="#6b6b6b"/><rect x="54" y="32" width="2" height="2" fill="#515151"/><rect x="60" y="32" width="2" height="1" fill="#484848"/><rect x="63" y="32" width="1" height="2" fill="#686868"/><rect x="66" y="32" width="2" height="2" fill="#606060"/><rect x="69" y="32" width="2" height="1" fill="#4f4f4f"/><rect x="72" y="32" width="2" height="1" fill="#444444"/><rect x="12" y="35" width="2" height="1" fill="#454545"/><rect x="15" y="35" width="2" height="2" fill="#404040"/><rect x="18" y="35" width="2" height="2" fill="#797979"/><rect x="21" y="35" width="1" height="2" fill="#494949"/><rect x="27" y="35" width="1" height="1" fill="#828282"/><rect x="39" y="35" width="2" height="1" fill="#7f7f7f"/><rect x="42" y="35" width="2" height="1" fill="#595959"/><rect x="54" y="35" width="2" height="2" fill="#8b8b8b"/><rect x="72" y="35" width="2" height="1" fill="#707070"/><rect x="81" y="35" width="2" height="1" fill="#626262"/><rect x="18" y="38" width="2" height="1" fill="#727272"/><rect x="21" y="38" width="2" height="2" fill="#7a7a7a"/><rect x="24" y="38" width="1" height="2" fill="#494949"/><rect x="33" y="38" width="1" height="1" fill="#898989"/><rect x="39" y="38" width="2" height="1" fill="#606060"/><rect x="45" y="38" width="1" height="1" fill="#333333"/><rect x="51" y="38" width="1" height="1" fill="#6d6d6d"/><rect x="57" y="38" width="1" height="1" fill="#828282"/><rect x="69" y="38" width="2" height="1" fill="#393939"/><rect x="72" y="38" width="2" height="2" fill="#7a7a7a"/><rect x="81" y="38" width="1" height="2" fill="#646464"/><rect x="9" y="41" width="2" height="2" fill="#8b8b8b"/><rect x="33" y="41" width="2" height="1" fill="#636363"/><rect x="42" y="41" width="1" height="2" fill="#535353"/><rect x="48" y="41" width="2" height="1" fill="#828282"/><rect x="54" y="41" width="2" height="2" fill="#636363"/><rect x="57" y="41" width="1" height="2" fill="#676767"/><rect x="60" y="41" width="1" height="2" fill="#808080"/><rect x="66" y="41" width="2" height="1" fill="#727272"/><rect x="72" y="41" width="1" height="1" fill="#434343"/><rect x="12" y="44" width="1" height="2" fill="#666666"/><rect x="15" y="44" width="1" height="2" fill="#565656"/><rect x="24" y="44" width="1" height="2" fill="#3d3d3d"/><rect x="51" y="44" width="1" height="2" fill="#5f5f5f"/><rect x="57" y="44" width="2" height="1" fill="#444444"/><rect x="60" y="44" width="1" height="2" fill="#838383"/><rect x="63" y="44" width="1" height="1" fill="#323232"/><rect x="15" y="47" width="1" height="1" fill="#848484"/><rect x="21" y="47" width="2" height="1" fill="#3a3a3a"/><rect x="27" y="47" width="1" height="2" fill="#474747"/><rect x="30" y="47" width="2" height="1" fill="#868686"/><rect x="42" y="47" width="1" height="1" fill="#777777"/><rect x="57" y="47" width="2" height="1" fill="#595959"/><rect x="69" y="47" width="2" height="2" fill="#888888"/><rect x="75" y="47" width="1" height="1" fill="#717171"/><rect x="78" y="47" width="2" height="2" fill="#373737"/><rect x="9" y="50" width="2" height="2" fill="#6d6d6d"/><rect x="12" y="50" width="1" height="1" fill="#737373"/><rect x="15" y="50" width="1" height="2" fill="#393939"/><rect x="21" y="50" width="1" height="1" fill="#707070"/><rect x="30" y="50" width="1" height="1" fill="#686868"/><rect x="36" y="50" width="2" height="2" fill="#6d6d6d"/><rect x="42" y="50" width="1" height="1" fill="#525252"/><rect x="45" y="50" width="1" height="2" fill="#727272"/><rect x="48" y="50" width="1" height="1" fill="#666666"/><rect x="69" y="50" width="2" height="1" fill="#555555"/><rect x="81" y="50" width="1" height="1" fill="#3a3a3a"/><rect x="21" y="53" width="1" height="2" fill="#6e6e6e"/><rect x="24" y="53" width="2" height="1" fill="#5e5e5e"/><rect x="30" y="53" width="2" height="1" fill="#5f5f5f"/><rect x="33" y="53" width="2" height="2" fill="#767676"/><rect x="39" y="53" width="1" height="1" fill="#4d4d4d"/><rect x="42" y="53" width="2" height="2" fill="#464646"/><rect x="48" y="53" width="2" height="1" fill="#3b3b3b"/><rect x="57" y="53" width="2" height="2" fill="#353535"/><rect x="60" y="53" width="1" height="1" fill="#6c6c6c"/><rect x="63" y="53" width="2" height="1" fill="#787878"/><rect x="72" y="53" width="1" height="1" fill="#3b3b3b"/><rect x="18" y="56" width="2" height="2" fill="#4b4b4b"/><rect x="33" y="56" width="2" height="1" fill="#434343"/><rect x="39" y="56" width="1" height="2" fill="#525252"/><rect x="54" y="56" width="2" height="1" fill="#434343"/><rect x="57" y="56" width="1" height="1" fill="#7b7b7b"/><rect x="81" y="56" width="2" height="2" fill="#777777"/><rect x="9" y="59" width="2" height="2" fill="#5b5b5b"/><rect x="18" y="59" width="1" height="1" fill="#7c7c7c"/><rect x="21" y="59" width="1" height="1" fill="#737373"/><rect x="27" y="59" width="2" height="2" fill="#808080"/><rect x="30" y="59" width="1" height="1" fill="#545454"/><rect x="36" y="59" width="1" height="2" fill="#535353"/><rect x="51" y="59" width="1" height="1" fill="#707070"/><rect x="54" y="59" width="1" height="2" fill="#333333"/><rect x="63" y="59" width="1" height="1" fill="#5b5b5b"/><rect x="69" y="59" width="1" height="2" fill="#717171"/><rect x="72" y="59" width="2" height="2" fill="#878787"/><rect x="78" y="59" width="1" height="2" fill="#525252"/><rect x="12" y="62" width="2" height="2" fill="#363636"/><rect x="15" y="62" width="2" height="1" fill="#575757"/><rect x="27" y="62" width="2" height="2" fill="#5a5a5a"/><rect x="30" y="62" width="2" height="1" fill="#8b8b8b"/><rect x="36" y="62" width="2" height="1" fill="#717171"/><rect x="39" y="62" width="1" height="2" fill="#737373"/><rect x="51" y="62" width="2" height="1" fill="#4c4c4c"/><rect x="54" y="62" width="2" height="2" fill="#444444"/><rect x="57" y="62" width="2" height="2" fill="#5f5f5f"/><rect x="66" y="62" width="2" height="2" fill="#444444"/><rect x="72" y="62" width="2" height="1" fill="#828282"/><rect x="9" y="65" width="1" height="1" fill="#4f4f4f"/><rect x="12" y="65" width="1" height="2" fill="#828282"/><rect x="24" y="65" width="1" height="2" fill="#393939"/><rect x="30" y="65" width="2" height="1" fill="#434343"/><rect x="33" y="65" width="1" height="2" fill="#5b5b5b"/><rect x="45" y="65" width="2" height="1" fill="#474747"/><rect x="60" y="65" width="2" height="2" fill="#737373"/><rect x="69" y="65" width="2" height="1" fill="#393939"/><rect x="75" y="65" width="1" height="2" fill="#4c4c4c"/><rect x="12" y="68" width="2" height="2" fill="#757575"/><rect x="21" y="68" width="2" height="2" fill="#868686"/><rect x="33" y="68" width="1" height="2" fill="#787878"/><rect x="36" y="68" width="2" height="1" fill="#323232"/><rect x="42" y="68" width="1" height="2" fill="#525252"/><rect x="48" y="68" width="1" height="2" fill="#606060"/><rect x="57" y="68" width="1" height="2" fill="#616161"/><rect x="75" y="68" width="2" height="2" fill="#5c5c5c"/><rect x="81" y="68" width="1" height="1" fill="#7c7c7c"/><rect x="21" y="71" width="2" height="2" fill="#404040"/><rect x="39" y="71" width="2" height="1" fill="#404040"/><rect x="51" y="71" width="1" height="2" fill="#616161"/><rect x="57" y="71" width="2" height="1" fill="#474747"/><rect x="60" y="71" width="2" height="2" fill="#4c4c4c"/><rect x="69" y="71" width="1" height="2" fill="#5e5e5e"/><rect x="78" y="71" width="1" height="2" fill="#787878"/><rect x="81" y="71" width="1" height="1" fill="#838383"/><rect x="18" y="74" width="2" height="1" fill="#5d5d5d"/><rect x="21" y="74" width="2" height="2" fill="#333333"/><rect x="24" y="74" width="2" height="1" fill="#444444"/><rect x="27" y="74" width="1" height="2" fill="#7d7d7d"/><rect x="30" y="74" width="2" height="1" fill="#424242"/><rect x="33" y="74" width="1" height="2" fill="#787878"/><rect x="42" y="74" width="1" height="1" fill="#6c6c6c"/><rect x="51" y="74" width="1" height="1" fill="#4a4a4a"/><rect x="57" y="74" width="1" height="1" fill="#555555"/><rect x="72" y="74" width="1" height="1" fill="#5d5d5d"/></g>
<g stroke="#000" stroke-width="2" fill="none"><line x1="84" y1="5" x2="148" y2="122.5"/><line x1="9" y1="75" x2="136" y2="133.8"/><rect x="136" y="122.5" width="12" height="11.3"/></g>
<text x="17.2" y="228.1" font-family="'Liberation Sans', Arial, sans-serif" font-size="18.6" fill="#fff" textLength="46.7" lengthAdjust="spacingAndGlyphs">1.6e-</text>
<text x="66" y="228.1" font-family="'Liberation Sans', Arial, sans-serif" font-size="16" fill="#fff" textLength="66" lengthAdjust="spacingAndGlyphs">(Before)</text>
<rect x="277" y="0" width="283" height="242" fill="#858585"/>
<rect x="277" y="0" width="283" height="242" filter="url(#fMedD)" opacity="0.22"/>
<rect x="277" y="0" width="283" height="242" filter="url(#fMedL)" opacity="0.22"/>
<rect x="285.4" y="6.3" width="78.2" height="69.3" fill="#8b8b8b" stroke="#6e6e6e" stroke-width="0.8"/>
<rect x="285.4" y="6.3" width="78.2" height="69.3" filter="url(#fCoarseD)" opacity="0.42"/>
<rect x="285.4" y="6.3" width="78.2" height="69.3" filter="url(#fCoarseL)" opacity="0.45"/>
<g filter="url(#fBlur2)"><rect x="312" y="41" width="1.5" height="1.5" fill="#f8f8f8"/><rect x="334" y="41" width="1.5" height="1.5" fill="#cbcbcb"/><rect x="296" y="63" width="1.5" height="1.5" fill="#ededed"/><rect x="349" y="46" width="1.5" height="1.5" fill="#e4e4e4"/><rect x="326" y="56" width="1.5" height="1.5" fill="#d8d8d8"/><rect x="324" y="39" width="1.5" height="1.5" fill="#e9e9e9"/><rect x="303" y="10" width="1.5" height="1.5" fill="#cccccc"/><rect x="300" y="64" width="1.5" height="1.5" fill="#ebebeb"/><rect x="342" y="37" width="1.5" height="1.5" fill="#cdcdcd"/><rect x="321" y="64" width="1.5" height="1.5" fill="#e1e1e1"/><rect x="334" y="32" width="1.5" height="1.5" fill="#cfcfcf"/><rect x="333" y="40" width="1.5" height="1.5" fill="#d9d9d9"/><rect x="306" y="53" width="1.5" height="1.5" fill="#d7d7d7"/><rect x="330" y="25" width="1.5" height="1.5" fill="#ededed"/><rect x="315" y="39" width="1.5" height="1.5" fill="#f6f6f6"/><rect x="340" y="56" width="1.5" height="1.5" fill="#d8d8d8"/><rect x="349" y="33" width="1.5" height="1.5" fill="#f9f9f9"/><rect x="353" y="51" width="1.5" height="1.5" fill="#f1f1f1"/><rect x="327" y="56" width="1.5" height="1.5" fill="#cecece"/><rect x="360" y="60" width="1.5" height="1.5" fill="#cfcfcf"/><rect x="305" y="45" width="1.5" height="1.5" fill="#eeeeee"/><rect x="298" y="70" width="1.5" height="1.5" fill="#d9d9d9"/><rect x="361" y="57" width="1.5" height="1.5" fill="#e0e0e0"/><rect x="314" y="14" width="1.5" height="1.5" fill="#cccccc"/><rect x="334" y="58" width="1.5" height="1.5" fill="#f5f5f5"/><rect x="314" y="69" width="1.5" height="1.5" fill="#d6d6d6"/><rect x="357" y="68" width="1.5" height="1.5" fill="#cfcfcf"/><rect x="351" y="54" width="1.5" height="1.5" fill="#ebebeb"/><rect x="349" y="43" width="1.5" height="1.5" fill="#e1e1e1"/><rect x="314" y="64" width="1.5" height="1.5" fill="#f5f5f5"/><rect x="299" y="58" width="1.5" height="1.5" fill="#d5d5d5"/><rect x="301" y="21" width="1.5" height="1.5" fill="#e4e4e4"/><rect x="308" y="24" width="1.5" height="1.5" fill="#cccccc"/><rect x="311" y="58" width="1.5" height="1.5" fill="#c9c9c9"/><rect x="323" y="47" width="1.5" height="1.5" fill="#cacaca"/><rect x="309" y="67" width="1.5" height="1.5" fill="#f9f9f9"/><rect x="350" y="19" width="1.5" height="1.5" fill="#eeeeee"/><rect x="320" y="19" width="1.5" height="1.5" fill="#e0e0e0"/><rect x="355" y="65" width="1.5" height="1.5" fill="#dbdbdb"/><rect x="292" y="67" width="1.5" height="1.5" fill="#f9f9f9"/><rect x="325" y="23" width="1.5" height="1.5" fill="#e3e3e3"/><rect x="339" y="39" width="1.5" height="1.5" fill="#d9d9d9"/><rect x="305" y="27" width="1.5" height="1.5" fill="#cacaca"/><rect x="306" y="70" width="1.5" height="1.5" fill="#c8c8c8"/><rect x="341" y="59" width="1.5" height="1.5" fill="#dcdcdc"/><rect x="331" y="22" width="1.5" height="1.5" fill="#e9e9e9"/><rect x="339" y="56" width="1.5" height="1.5" fill="#e0e0e0"/><rect x="359" y="64" width="1.5" height="1.5" fill="#e4e4e4"/><rect x="337" y="26" width="1.5" height="1.5" fill="#f7f7f7"/><rect x="335" y="66" width="1.5" height="1.5" fill="#d6d6d6"/><rect x="360" y="15" width="1.5" height="1.5" fill="#e2e2e2"/><rect x="295" y="20" width="1.5" height="1.5" fill="#eeeeee"/><rect x="292" y="33" width="1.5" height="1.5" fill="#d1d1d1"/><rect x="350" y="13" width="1.5" height="1.5" fill="#d8d8d8"/><rect x="350" y="53" width="1.5" height="1.5" fill="#ebebeb"/><rect x="360" y="10" width="1.5" height="1.5" fill="#e9e9e9"/><rect x="342" y="57" width="1.5" height="1.5" fill="#ebebeb"/><rect x="292" y="13" width="1.5" height="1.5" fill="#eeeeee"/><rect x="332" y="25" width="1.5" height="1.5" fill="#c8c8c8"/><rect x="326" y="14" width="1.5" height="1.5" fill="#ededed"/><rect x="312" y="60" width="1.5" height="1.5" fill="#cccccc"/><rect x="324" y="14" width="1.5" height="1.5" fill="#efefef"/><rect x="328" y="23" width="1.5" height="1.5" fill="#f8f8f8"/><rect x="337" y="30" width="1.5" height="1.5" fill="#f2f2f2"/><rect x="315" y="69" width="1.5" height="1.5" fill="#d6d6d6"/><rect x="360" y="12" width="1.5" height="1.5" fill="#ececec"/><rect x="309" y="36" width="1.5" height="1.5" fill="#e7e7e7"/><rect x="290" y="23" width="1.5" height="1.5" fill="#cdcdcd"/><rect x="342" y="22" width="1.5" height="1.5" fill="#e0e0e0"/><rect x="311" y="23" width="1.5" height="1.5" fill="#f6f6f6"/><rect x="325" y="50" width="1.5" height="1.5" fill="#373737"/><rect x="348" y="25" width="1.5" height="1.5" fill="#171717"/><rect x="322" y="19" width="1.5" height="1.5" fill="#151515"/><rect x="355" y="49" width="1.5" height="1.5" fill="#282828"/><rect x="297" y="57" width="1.5" height="1.5" fill="#2e2e2e"/><rect x="300" y="72" width="1.5" height="1.5" fill="#434343"/><rect x="356" y="62" width="1.5" height="1.5" fill="#2e2e2e"/><rect x="309" y="50" width="1.5" height="1.5" fill="#1b1b1b"/><rect x="333" y="12" width="1.5" height="1.5" fill="#141414"/><rect x="340" y="30" width="1.5" height="1.5" fill="#363636"/><rect x="345" y="62" width="1.5" height="1.5" fill="#323232"/><rect x="350" y="51" width="1.5" height="1.5" fill="#424242"/><rect x="353" y="11" width="1.5" height="1.5" fill="#212121"/><rect x="316" y="24" width="1.5" height="1.5" fill="#1c1c1c"/><rect x="352" y="10" width="1.5" height="1.5" fill="#1d1d1d"/><rect x="343" y="23" width="1.5" height="1.5" fill="#202020"/><rect x="359" y="58" width="1.5" height="1.5" fill="#2a2a2a"/><rect x="297" y="25" width="1.5" height="1.5" fill="#454545"/><rect x="346" y="13" width="1.5" height="1.5" fill="#373737"/><rect x="315" y="55" width="1.5" height="1.5" fill="#222222"/><rect x="297" y="9" width="1.5" height="1.5" fill="#222222"/><rect x="351" y="66" width="1.5" height="1.5" fill="#363636"/><rect x="342" y="21" width="1.5" height="1.5" fill="#252525"/><rect x="354" y="72" width="1.5" height="1.5" fill="#2a2a2a"/><rect x="344" y="69" width="1.5" height="1.5" fill="#454545"/></g>
<g stroke="#000" stroke-width="2" fill="none"><line x1="363.6" y1="6.8" x2="433" y2="123"/><line x1="285.4" y1="76" x2="420" y2="133.8"/><rect x="420" y="123" width="13" height="10.8"/></g>
<text x="299.1" y="228.1" font-family="'Liberation Sans', Arial, sans-serif" font-size="18.6" fill="#fff" textLength="47" lengthAdjust="spacingAndGlyphs">0.2e-</text>
<text x="350.6" y="228.1" font-family="'Liberation Sans', Arial, sans-serif" font-size="16" fill="#fff" textLength="55" lengthAdjust="spacingAndGlyphs">(After)</text>
<rect x="2" y="317" width="268" height="257" fill="url(#gC)"/>
<rect x="2" y="317" width="268" height="257" fill="url(#gCr)"/>
<rect x="2" y="317" width="268" height="257" fill="url(#gCv)"/>
<rect x="2" y="317" width="268" height="257" filter="url(#fGrain)" opacity="0.08"/>
<g><rect x="2" y="318" width="268" height="1" fill="#000" fill-opacity="0.006"/><rect x="2" y="319" width="268" height="1" fill="#fff" fill-opacity="0.006"/><rect x="2" y="321" width="268" height="1" fill="#000" fill-opacity="0.017"/><rect x="2" y="322" width="268" height="1" fill="#fff" fill-opacity="0.011"/><rect x="2" y="324" width="268" height="1" fill="#fff" fill-opacity="0.007"/><rect x="2" y="325" width="268" height="1" fill="#fff" fill-opacity="0.020"/><rect x="2" y="327" width="268" height="1" fill="#000" fill-opacity="0.012"/><rect x="2" y="328" width="268" height="1" fill="#000" fill-opacity="0.007"/><rect x="2" y="329" width="268" height="1" fill="#fff" fill-opacity="0.011"/><rect x="2" y="330" width="268" height="1" fill="#000" fill-opacity="0.016"/><rect x="2" y="333" width="268" height="1" fill="#000" fill-opacity="0.013"/><rect x="2" y="335" width="268" height="1" fill="#fff" fill-opacity="0.006"/><rect x="2" y="336" width="268" height="1" fill="#000" fill-opacity="0.009"/><rect x="2" y="338" width="268" height="1" fill="#fff" fill-opacity="0.006"/><rect x="2" y="339" width="268" height="1" fill="#000" fill-opacity="0.014"/><rect x="2" y="340" width="268" height="1" fill="#000" fill-opacity="0.010"/><rect x="2" y="341" width="268" height="1" fill="#fff" fill-opacity="0.010"/><rect x="2" y="343" width="268" height="1" fill="#000" fill-opacity="0.016"/><rect x="2" y="345" width="268" height="1" fill="#fff" fill-opacity="0.021"/><rect x="2" y="346" width="268" height="1" fill="#000" fill-opacity="0.017"/><rect x="2" y="347" width="268" height="1" fill="#fff" fill-opacity="0.009"/><rect x="2" y="348" width="268" height="1" fill="#fff" fill-opacity="0.008"/><rect x="2" y="350" width="268" height="1" fill="#fff" fill-opacity="0.007"/><rect x="2" y="351" width="268" height="1" fill="#000" fill-opacity="0.007"/><rect x="2" y="352" width="268" height="1" fill="#fff" fill-opacity="0.017"/><rect x="2" y="353" width="268" height="1" fill="#fff" fill-opacity="0.019"/><rect x="2" y="354" width="268" height="1" fill="#000" fill-opacity="0.010"/><rect x="2" y="357" width="268" height="1" fill="#000" fill-opacity="0.007"/><rect x="2" y="359" width="268" height="1" fill="#000" fill-opacity="0.011"/><rect x="2" y="360" width="268" height="1" fill="#fff" fill-opacity="0.006"/><rect x="2" y="364" width="268" height="1" fill="#fff" fill-opacity="0.010"/><rect x="2" y="365" width="268" height="1" fill="#000" fill-opacity="0.011"/><rect x="2" y="366" width="268" height="1" fill="#fff" fill-opacity="0.009"/><rect x="2" y="367" width="268" height="1" fill="#fff" fill-opacity="0.010"/><rect x="2" y="369" width="268" height="1" fill="#fff" fill-opacity="0.017"/><rect x="2" y="370" width="268" height="1" fill="#000" fill-opacity="0.008"/><rect x="2" y="371" width="268" height="1" fill="#000" fill-opacity="0.006"/><rect x="2" y="373" width="268" height="1" fill="#000" fill-opacity="0.007"/><rect x="2" y="374" width="268" height="1" fill="#fff" fill-opacity="0.015"/><rect x="2" y="376" width="268" height="1" fill="#fff" fill-opacity="0.019"/><rect x="2" y="377" width="268" height="1" fill="#000" fill-opacity="0.012"/><rect x="2" y="378" width="268" height="1" fill="#000" fill-opacity="0.010"/><rect x="2" y="379" width="268" height="1" fill="#fff" fill-opacity="0.015"/><rect x="2" y="380" width="268" height="1" fill="#000" fill-opacity="0.012"/><rect x="2" y="381" width="268" height="1" fill="#fff" fill-opacity="0.012"/><rect x="2" y="382" width="268" height="1" fill="#000" fill-opacity="0.009"/><rect x="2" y="384" width="268" height="1" fill="#fff" fill-opacity="0.013"/><rect x="2" y="386" width="268" height="1" fill="#000" fill-opacity="0.013"/><rect x="2" y="388" width="268" height="1" fill="#fff" fill-opacity="0.013"/><rect x="2" y="390" width="268" height="1" fill="#fff" fill-opacity="0.008"/><rect x="2" y="394" width="268" height="1" fill="#000" fill-opacity="0.011"/><rect x="2" y="395" width="268" height="1" fill="#fff" fill-opacity="0.006"/><rect x="2" y="397" width="268" height="1" fill="#000" fill-opacity="0.022"/><rect x="2" y="399" width="268" height="1" fill="#fff" fill-opacity="0.011"/><rect x="2" y="400" width="268" height="1" fill="#fff" fill-opacity="0.021"/><rect x="2" y="401" width="268" height="1" fill="#000" fill-opacity="0.015"/><rect x="2" y="403" width="268" height="1" fill="#fff" fill-opacity="0.006"/><rect x="2" y="404" width="268" height="1" fill="#fff" fill-opacity="0.008"/><rect x="2" y="405" width="268" height="1" fill="#000" fill-opacity="0.008"/><rect x="2" y="406" width="268" height="1" fill="#fff" fill-opacity="0.006"/><rect x="2" y="409" width="268" height="1" fill="#000" fill-opacity="0.006"/><rect x="2" y="414" width="268" height="1" fill="#fff" fill-opacity="0.010"/><rect x="2" y="415" width="268" height="1" fill="#fff" fill-opacity="0.019"/><rect x="2" y="417" width="268" height="1" fill="#000" fill-opacity="0.008"/><rect x="2" y="419" width="268" height="1" fill="#000" fill-opacity="0.006"/><rect x="2" y="420" width="268" height="1" fill="#000" fill-opacity="0.018"/><rect x="2" y="423" width="268" height="1" fill="#fff" fill-opacity="0.010"/><rect x="2" y="425" width="268" height="1" fill="#fff" fill-opacity="0.010"/><rect x="2" y="426" width="268" height="1" fill="#fff" fill-opacity="0.008"/><rect x="2" y="429" width="268" height="1" fill="#000" fill-opacity="0.006"/><rect x="2" y="431" width="268" height="1" fill="#fff" fill-opacity="0.009"/><rect x="2" y="432" width="268" height="1" fill="#000" fill-opacity="0.006"/><rect x="2" y="434" width="268" height="1" fill="#000" fill-opacity="0.009"/><rect x="2" y="435" width="268" height="1" fill="#fff" fill-opacity="0.015"/><rect x="2" y="438" width="268" height="1" fill="#000" fill-opacity="0.010"/><rect x="2" y="440" width="268" height="1" fill="#000" fill-opacity="0.009"/><rect x="2" y="441" width="268" height="1" fill="#000" fill-opacity="0.007"/><rect x="2" y="442" width="268" height="1" fill="#000" fill-opacity="0.023"/><rect x="2" y="443" width="268" height="1" fill="#000" fill-opacity="0.018"/><rect x="2" y="445" width="268" height="1" fill="#fff" fill-opacity="0.008"/><rect x="2" y="446" width="268" height="1" fill="#000" fill-opacity="0.019"/><rect x="2" y="449" width="268" height="1" fill="#fff" fill-opacity="0.030"/><rect x="2" y="450" width="268" height="1" fill="#000" fill-opacity="0.011"/><rect x="2" y="451" width="268" height="1" fill="#000" fill-opacity="0.008"/><rect x="2" y="452" width="268" height="1" fill="#000" fill-opacity="0.012"/><rect x="2" y="453" width="268" height="1" fill="#fff" fill-opacity="0.009"/><rect x="2" y="454" width="268" height="1" fill="#fff" fill-opacity="0.011"/><rect x="2" y="456" width="268" height="1" fill="#fff" fill-opacity="0.016"/><rect x="2" y="457" width="268" height="1" fill="#fff" fill-opacity="0.023"/><rect x="2" y="459" width="268" height="1" fill="#fff" fill-opacity="0.006"/><rect x="2" y="461" width="268" height="1" fill="#000" fill-opacity="0.007"/><rect x="2" y="464" width="268" height="1" fill="#000" fill-opacity="0.014"/><rect x="2" y="466" width="268" height="1" fill="#fff" fill-opacity="0.009"/><rect x="2" y="467" width="268" height="1" fill="#000" fill-opacity="0.011"/><rect x="2" y="468" width="268" height="1" fill="#000" fill-opacity="0.006"/><rect x="2" y="469" width="268" height="1" fill="#000" fill-opacity="0.010"/><rect x="2" y="472" width="268" height="1" fill="#fff" fill-opacity="0.010"/><rect x="2" y="474" width="268" height="1" fill="#000" fill-opacity="0.016"/><rect x="2" y="475" width="268" height="1" fill="#fff" fill-opacity="0.006"/><rect x="2" y="477" width="268" height="1" fill="#fff" fill-opacity="0.012"/><rect x="2" y="478" width="268" height="1" fill="#fff" fill-opacity="0.008"/><rect x="2" y="479" width="268" height="1" fill="#000" fill-opacity="0.029"/><rect x="2" y="480" width="268" height="1" fill="#000" fill-opacity="0.022"/><rect x="2" y="482" width="268" height="1" fill="#000" fill-opacity="0.008"/><rect x="2" y="483" width="268" height="1" fill="#000" fill-opacity="0.025"/><rect x="2" y="484" width="268" height="1" fill="#000" fill-opacity="0.006"/><rect x="2" y="485" width="268" height="1" fill="#fff" fill-opacity="0.014"/><rect x="2" y="486" width="268" height="1" fill="#fff" fill-opacity="0.007"/><rect x="2" y="487" width="268" height="1" fill="#000" fill-opacity="0.010"/><rect x="2" y="489" width="268" height="1" fill="#fff" fill-opacity="0.011"/><rect x="2" y="491" width="268" height="1" fill="#fff" fill-opacity="0.019"/><rect x="2" y="492" width="268" height="1" fill="#000" fill-opacity="0.008"/><rect x="2" y="493" width="268" height="1" fill="#fff" fill-opacity="0.023"/><rect x="2" y="494" width="268" height="1" fill="#fff" fill-opacity="0.017"/><rect x="2" y="495" width="268" height="1" fill="#fff" fill-opacity="0.006"/><rect x="2" y="498" width="268" height="1" fill="#000" fill-opacity="0.010"/><rect x="2" y="499" width="268" height="1" fill="#fff" fill-opacity="0.011"/><rect x="2" y="500" width="268" height="1" fill="#fff" fill-opacity="0.014"/><rect x="2" y="501" width="268" height="1" fill="#fff" fill-opacity="0.009"/><rect x="2" y="504" width="268" height="1" fill="#000" fill-opacity="0.010"/><rect x="2" y="505" width="268" height="1" fill="#000" fill-opacity="0.007"/><rect x="2" y="506" width="268" height="1" fill="#000" fill-opacity="0.016"/><rect x="2" y="508" width="268" height="1" fill="#000" fill-opacity="0.010"/><rect x="2" y="509" width="268" height="1" fill="#fff" fill-opacity="0.009"/><rect x="2" y="510" width="268" height="1" fill="#000" fill-opacity="0.007"/><rect x="2" y="511" width="268" height="1" fill="#fff" fill-opacity="0.016"/><rect x="2" y="512" width="268" height="1" fill="#fff" fill-opacity="0.017"/><rect x="2" y="513" width="268" height="1" fill="#fff" fill-opacity="0.017"/><rect x="2" y="514" width="268" height="1" fill="#fff" fill-opacity="0.013"/><rect x="2" y="517" width="268" height="1" fill="#000" fill-opacity="0.008"/><rect x="2" y="519" width="268" height="1" fill="#fff" fill-opacity="0.018"/><rect x="2" y="520" width="268" height="1" fill="#000" fill-opacity="0.012"/><rect x="2" y="521" width="268" height="1" fill="#fff" fill-opacity="0.027"/><rect x="2" y="522" width="268" height="1" fill="#000" fill-opacity="0.006"/><rect x="2" y="523" width="268" height="1" fill="#000" fill-opacity="0.013"/><rect x="2" y="525" width="268" height="1" fill="#fff" fill-opacity="0.012"/><rect x="2" y="527" width="268" height="1" fill="#000" fill-opacity="0.011"/><rect x="2" y="528" width="268" height="1" fill="#fff" fill-opacity="0.019"/><rect x="2" y="529" width="268" height="1" fill="#000" fill-opacity="0.012"/><rect x="2" y="530" width="268" height="1" fill="#fff" fill-opacity="0.011"/><rect x="2" y="534" width="268" height="1" fill="#000" fill-opacity="0.012"/><rect x="2" y="535" width="268" height="1" fill="#000" fill-opacity="0.012"/><rect x="2" y="537" width="268" height="1" fill="#000" fill-opacity="0.011"/><rect x="2" y="538" width="268" height="1" fill="#000" fill-opacity="0.009"/><rect x="2" y="539" width="268" height="1" fill="#fff" fill-opacity="0.016"/><rect x="2" y="540" width="268" height="1" fill="#fff" fill-opacity="0.020"/><rect x="2" y="541" width="268" height="1" fill="#fff" fill-opacity="0.012"/><rect x="2" y="542" width="268" height="1" fill="#fff" fill-opacity="0.010"/><rect x="2" y="545" width="268" height="1" fill="#000" fill-opacity="0.008"/><rect x="2" y="546" width="268" height="1" fill="#000" fill-opacity="0.030"/><rect x="2" y="549" width="268" height="1" fill="#fff" fill-opacity="0.011"/><rect x="2" y="550" width="268" height="1" fill="#000" fill-opacity="0.013"/><rect x="2" y="551" width="268" height="1" fill="#fff" fill-opacity="0.013"/><rect x="2" y="552" width="268" height="1" fill="#000" fill-opacity="0.006"/><rect x="2" y="553" width="268" height="1" fill="#000" fill-opacity="0.014"/><rect x="2" y="555" width="268" height="1" fill="#fff" fill-opacity="0.010"/><rect x="2" y="558" width="268" height="1" fill="#000" fill-opacity="0.010"/><rect x="2" y="560" width="268" height="1" fill="#fff" fill-opacity="0.011"/><rect x="2" y="561" width="268" height="1" fill="#000" fill-opacity="0.010"/><rect x="2" y="563" width="268" height="1" fill="#000" fill-opacity="0.015"/><rect x="2" y="565" width="268" height="1" fill="#000" fill-opacity="0.017"/><rect x="2" y="568" width="268" height="1" fill="#000" fill-opacity="0.012"/><rect x="2" y="570" width="268" height="1" fill="#000" fill-opacity="0.011"/><rect x="2" y="572" width="268" height="1" fill="#000" fill-opacity="0.010"/><rect x="2" y="573" width="268" height="1" fill="#fff" fill-opacity="0.006"/></g>
<rect x="269" y="317" width="1" height="257" fill="#6a6a6a"/>
<rect x="2" y="317" width="1" height="257" fill="#8a8a8a"/>
<rect x="9.9" y="325.8" width="71.7" height="71.2" fill="#c2c2c2" stroke="#8a8a8a" stroke-width="1"/>
<rect x="10.4" y="326.3" width="70.7" height="70.2" filter="url(#fSoftD)" opacity="0.35"/>
<rect x="10.4" y="326.3" width="70.7" height="70.2" filter="url(#fSoftL)" opacity="0.35"/>
<g stroke="#000" stroke-width="2" fill="none"><line x1="81.6" y1="326" x2="142" y2="440.8"/><line x1="12" y1="397" x2="129.8" y2="453"/><rect x="129.8" y="440.8" width="12.2" height="12.2"/></g>
<text x="14.8" y="558.1" font-family="'Liberation Sans', Arial, sans-serif" font-size="18.6" fill="#fff" textLength="46.6" lengthAdjust="spacingAndGlyphs">1.6%</text>
<text x="66" y="558.1" font-family="'Liberation Sans', Arial, sans-serif" font-size="16" fill="#fff" textLength="67.6" lengthAdjust="spacingAndGlyphs">(Before)</text>
<rect x="277" y="318" width="286" height="256" fill="#b2b2b2"/>
<rect x="277" y="318" width="286" height="256" filter="url(#fGrain)" opacity="0.06"/>
<rect x="277" y="318" width="286" height="1" fill="#505050"/>
<rect x="277" y="318" width="1" height="256" fill="#8c8c8c"/>
<rect x="282.6" y="325.7" width="75.3" height="68.6" fill="#acacac" stroke="#787878" stroke-width="1"/>
<rect x="283.1" y="326.2" width="74.3" height="67.6" filter="url(#fGrain)" opacity="0.15"/>
<g stroke="#000" stroke-width="1.9" fill="none"><line x1="357.9" y1="327" x2="423" y2="438.8"/><line x1="282.6" y1="394.5" x2="410.9" y2="450.2"/><rect x="410.9" y="438.8" width="12.3" height="11.3"/></g>
<text x="292.7" y="557.4" font-family="'Liberation Sans', Arial, sans-serif" font-size="18.6" fill="#fff" textLength="46.2" lengthAdjust="spacingAndGlyphs">0.3%</text>
<text x="344.8" y="557.4" font-family="'Liberation Sans', Arial, sans-serif" font-size="16" fill="#fff" textLength="53.9" lengthAdjust="spacingAndGlyphs">(After)</text>
<text x="346.2" y="296.7" font-family="'Liberation Sans', 'Noto Sans CJK SC', sans-serif" font-size="27.6" fill="#000" textLength="69.8" lengthAdjust="spacingAndGlyphs">DSNU</text>
<text x="424.6" y="297.3" font-family="'Liberation Sans', 'Noto Sans CJK SC', sans-serif" font-size="28" fill="#000" textLength="55.5" lengthAdjust="spacingAndGlyphs">校正</text>
<text x="352.2" y="619.1" font-family="'Liberation Sans', 'Noto Sans CJK SC', sans-serif" font-size="27.6" fill="#000" textLength="69.8" lengthAdjust="spacingAndGlyphs">PRNU</text>
<text x="429.4" y="619.3" font-family="'Liberation Sans', 'Noto Sans CJK SC', sans-serif" font-size="28" fill="#000" textLength="55.5" lengthAdjust="spacingAndGlyphs">校正</text>
<defs><clipPath id="clipR921"><rect x="0" y="0" width="922" height="635"/></clipPath><clipPath id="clipP1"><rect x="571" y="0" width="351" height="243.6"/></clipPath><clipPath id="clipP2"><rect x="571" y="320" width="351" height="255.7"/></clipPath></defs>
<g clip-path="url(#clipP1)">
<rect x="571" y="0" width="351" height="243.6" fill="#f0f0f0"/>
<rect x="609.6" y="7.5" width="305.4" height="208.3" fill="#fff"/>
<path d="M610 203.5H915.0M610 195.5H915.0M610 190.5H915.0M610 186.5H915.0M610 183.5H915.0M610 180.5H915.0M610 178.5H915.0M610 176.5H915.0M610 161.5H915.0M610 154.5H915.0M610 149.5H915.0M610 145.5H915.0M610 141.5H915.0M610 138.5H915.0M610 136.5H915.0M610 134.5H915.0M610 119.5H915.0M610 112.5H915.0M610 107.5H915.0M610 103.5H915.0M610 100.5H915.0M610 97.5H915.0M610 94.5H915.0M610 92.5H915.0M610 78.5H915.0M610 70.5H915.0M610 65.5H915.0M610 61.5H915.0M610 58.5H915.0M610 55.5H915.0M610 53.5H915.0M610 51.5H915.0M610 36.5H915.0M610 29.5H915.0M610 24.5H915.0M610 20.5H915.0M610 16.5H915.0M610 13.5H915.0M610 11.5H915.0M610 9.5H915.0" stroke="#d0d0d0" stroke-width="1" stroke-dasharray="1 1" fill="none"/>
<path d="M609.6 174.5H915.0M609.6 132.5H915.0M609.6 90.5H915.0M609.6 49.5H915.0M660.5 7.5V215.8M711.5 7.5V215.8M762.5 7.5V215.8M813.5 7.5V215.8M864.5 7.5V215.8" stroke="#dadada" stroke-width="1" fill="none"/>
<path d="M631.9 215.8h0M635.1 215.8h0M637.5 215.8h0M638.5 215.8h0M639.0 215.8h0M639.9 215.8h0M640.9 215.8h0M641.1 215.8h0M642.6 215.8h0M642.8 215.8h0M642.9 215.8h0M644.8 203.3h0M645.0 215.8h0M645.8 215.8h0M647.0 215.8h0M647.2 203.3h0M647.5 215.8h0M647.7 215.8h0M648.2 215.8h0M648.4 203.3h0M649.7 215.8h0M649.9 215.8h0M650.1 215.8h0M650.4 215.8h0M651.6 215.8h0M651.9 215.8h0M652.1 215.8h0M652.5 215.8h0M652.6 215.8h0M653.0 215.8h0M653.1 215.8h0M653.5 215.8h0M653.6 195.9h0M653.8 215.8h0M654.0 215.8h0M654.2 215.8h0M654.3 195.9h0M654.5 203.3h0M654.7 215.8h0M655.0 215.8h0M655.2 215.8h0M655.3 215.8h0M655.5 195.9h0M655.9 215.8h0M656.0 215.8h0M656.5 203.3h0M656.7 215.8h0M657.2 215.8h0M657.4 215.8h0M657.6 215.8h0M657.7 215.8h0M658.1 215.8h0M658.2 215.8h0M658.4 215.8h0M658.6 215.8h0M658.7 215.8h0M658.9 215.8h0M659.1 215.8h0M659.3 203.3h0M659.4 190.7h0M659.6 190.7h0M659.8 203.3h0M660.1 215.8h0M660.3 215.8h0M660.4 186.7h0M660.6 195.9h0M660.8 215.8h0M661.0 215.8h0M661.1 215.8h0M661.3 215.8h0M661.5 195.9h0M661.6 203.3h0M661.8 203.3h0M662.0 203.3h0M662.1 203.3h0M662.3 203.3h0M662.5 186.7h0M662.7 215.8h0M662.8 203.3h0M663.0 203.3h0M663.7 215.8h0M663.8 203.3h0M664.0 190.7h0M664.2 195.9h0M664.4 176.0h0M664.5 203.3h0M664.7 215.8h0M664.9 215.8h0M665.0 203.3h0M665.4 183.4h0M665.7 203.3h0M665.9 203.3h0M666.1 195.9h0M666.2 190.7h0M666.4 186.7h0M666.6 215.8h0M666.7 190.7h0M666.9 190.7h0M667.1 186.7h0M667.2 203.3h0M667.4 215.8h0M667.6 203.3h0M667.8 183.4h0M667.9 190.7h0M668.1 190.7h0M668.3 195.9h0M668.4 215.8h0M668.8 215.8h0M668.9 203.3h0M669.1 215.8h0M669.3 186.7h0M669.5 215.8h0M669.6 186.7h0M670.0 215.8h0M670.1 190.7h0M670.3 180.6h0M670.5 186.7h0M670.6 215.8h0M670.8 195.9h0M671.0 215.8h0M671.2 186.7h0M671.3 203.3h0M671.5 203.3h0M671.7 195.9h0M671.8 215.8h0M672.0 203.3h0M672.2 183.4h0M672.3 195.9h0M672.5 215.8h0M672.7 215.8h0M672.9 190.7h0M673.0 215.8h0M673.2 180.6h0M673.4 215.8h0M673.5 183.4h0M673.7 203.3h0M673.9 203.3h0M674.0 215.8h0M674.2 203.3h0M674.4 190.7h0M674.6 186.7h0M674.7 183.4h0M674.9 174.1h0M675.1 215.8h0M675.2 195.9h0M675.4 190.7h0M675.6 180.6h0M675.7 186.7h0M675.9 180.6h0M676.1 195.9h0M676.3 195.9h0M676.4 180.6h0M676.6 190.7h0M676.8 215.8h0M676.9 190.7h0M677.1 203.3h0M677.3 186.7h0M677.4 190.7h0M677.6 190.7h0M677.8 186.7h0M678.0 186.7h0M678.1 190.7h0M678.3 190.7h0M678.5 215.8h0M678.6 186.7h0M678.8 195.9h0M679.0 186.7h0M679.1 168.1h0M679.3 180.6h0M679.5 203.3h0M679.7 186.7h0M679.8 186.7h0M680.0 190.7h0M680.2 190.7h0M680.3 180.6h0M680.5 176.0h0M680.7 186.7h0M680.8 186.7h0M681.0 176.0h0M681.2 186.7h0M681.4 195.9h0M681.5 186.7h0M681.7 186.7h0M681.9 195.9h0M682.0 176.0h0M682.2 186.7h0M682.4 174.1h0M682.5 178.2h0M682.7 195.9h0M682.9 190.7h0M683.1 180.6h0M683.2 174.1h0M683.4 203.3h0M683.6 174.1h0M683.7 183.4h0M683.9 203.3h0M684.1 180.6h0M684.2 190.7h0M684.4 174.1h0M684.6 180.6h0M684.8 178.2h0M684.9 180.6h0M685.1 180.6h0M685.3 180.6h0M685.4 180.6h0M685.6 178.2h0M685.8 195.9h0M685.9 170.8h0M686.1 186.7h0M686.3 186.7h0M686.5 186.7h0M686.6 180.6h0M686.8 172.4h0M687.0 174.1h0M687.1 183.4h0M687.3 178.2h0M687.5 162.5h0M687.6 186.7h0M687.8 176.0h0M688.0 195.9h0M688.2 170.8h0M688.3 190.7h0M688.5 172.4h0M688.7 174.1h0M688.8 166.8h0M689.0 172.4h0M689.2 165.6h0M689.3 180.6h0M689.5 183.4h0M689.7 183.4h0M689.9 163.5h0M690.0 172.4h0M690.2 168.1h0M690.4 172.4h0M690.5 170.8h0M690.7 172.4h0M690.9 176.0h0M691.0 165.6h0M691.2 168.1h0M691.4 170.8h0M691.6 166.8h0M691.7 174.1h0M691.9 166.8h0M692.1 176.0h0M692.2 168.1h0M692.4 166.8h0M692.6 168.1h0M692.7 166.8h0M692.9 170.8h0M693.1 169.4h0M693.3 170.8h0M693.4 162.5h0M693.6 168.1h0M693.8 178.2h0M693.9 162.5h0M694.1 159.9h0M694.3 161.6h0M694.4 161.6h0M694.6 170.8h0M694.8 168.1h0M695.0 161.6h0M695.1 163.5h0M695.3 170.8h0M695.5 164.5h0M695.6 158.3h0M695.8 152.5h0M696.0 158.3h0M696.1 161.6h0M696.3 160.7h0M696.5 166.8h0M696.7 159.9h0M696.8 159.1h0M697.0 159.1h0M697.2 161.6h0M697.3 162.5h0M697.5 161.6h0M697.7 157.6h0M697.8 159.1h0M698.0 160.7h0M698.2 153.7h0M698.4 156.2h0M698.5 160.7h0M698.7 156.2h0M698.9 158.3h0M699.0 154.3h0M699.2 153.7h0M699.4 152.0h0M699.5 153.1h0M699.7 147.7h0M699.9 153.1h0M700.1 146.1h0M700.2 148.6h0M700.4 150.5h0M700.6 152.5h0M700.7 150.0h0M700.9 146.5h0M701.1 153.7h0M701.2 145.4h0M701.4 148.2h0M701.6 152.5h0M701.8 150.0h0M701.9 149.1h0M702.1 148.2h0M702.3 142.0h0M702.4 146.1h0M702.6 150.0h0M702.8 151.0h0M702.9 149.5h0M703.1 146.9h0M703.3 145.0h0M703.5 143.3h0M703.6 141.4h0M703.8 145.8h0M704.0 144.0h0M704.1 145.0h0M704.3 144.7h0M704.5 144.3h0M704.6 148.2h0M704.8 143.6h0M705.0 141.7h0M705.2 146.5h0M705.3 143.0h0M705.5 140.8h0M705.7 143.6h0M705.8 140.6h0M706.0 140.6h0M706.2 144.7h0M706.3 141.4h0M706.5 137.0h0M706.7 138.9h0M706.9 137.7h0M707.0 142.0h0M707.2 136.7h0M707.4 136.1h0M707.5 135.9h0M707.7 135.9h0M707.9 136.3h0M708.0 133.4h0M708.2 133.6h0M708.4 131.3h0M708.6 132.7h0M708.7 131.8h0M708.9 129.8h0M709.1 129.2h0M709.2 128.9h0M709.4 124.7h0M709.6 128.6h0M709.7 128.4h0M709.9 129.0h0M710.1 125.1h0M710.3 126.7h0M710.4 122.3h0M710.6 123.5h0M710.8 124.8h0M710.9 124.8h0M711.1 123.4h0M711.3 123.3h0M711.4 123.3h0M711.6 123.6h0M711.8 122.5h0M712.0 120.0h0M712.1 120.6h0M712.3 121.9h0M712.5 119.2h0M712.6 119.4h0M712.8 119.9h0M713.0 120.0h0M713.1 119.8h0M713.3 117.6h0M713.5 117.1h0M713.7 116.7h0M713.8 117.1h0M714.0 117.3h0M714.2 115.5h0M714.3 114.6h0M714.5 116.0h0M714.7 115.0h0M714.8 115.0h0M715.0 111.6h0M715.2 110.4h0M715.4 113.0h0M715.5 112.3h0M715.7 109.3h0M715.9 110.0h0M716.0 108.9h0M716.2 107.0h0M716.4 107.3h0M716.5 105.7h0M716.7 106.4h0M716.9 106.5h0M717.1 106.1h0M717.2 102.4h0M717.4 103.3h0M717.6 102.9h0M717.7 100.5h0M717.9 101.9h0M718.1 100.4h0M718.2 99.1h0M718.4 99.1h0M718.6 98.0h0M718.8 97.8h0M718.9 97.7h0M719.1 95.7h0M719.3 96.4h0M719.4 93.6h0M719.6 94.9h0M719.8 92.6h0M719.9 93.4h0M720.1 93.0h0M720.3 91.8h0M720.5 93.4h0M720.6 91.0h0M720.8 90.6h0M721.0 89.0h0M721.1 89.7h0M721.3 89.0h0M721.5 88.0h0M721.6 87.5h0M721.8 86.0h0M722.0 85.7h0M722.2 85.7h0M722.3 84.7h0M722.5 85.5h0M722.7 84.1h0M722.8 83.7h0M723.0 83.4h0M723.2 82.7h0M723.3 82.1h0M723.5 81.1h0M723.7 80.3h0M723.9 79.6h0M724.0 80.1h0M724.2 79.8h0M724.4 78.7h0M724.5 77.8h0M724.7 77.8h0M724.9 76.6h0M725.0 76.5h0M725.2 75.8h0M725.4 75.5h0M725.6 74.9h0M725.7 74.4h0M725.9 73.5h0M726.1 73.0h0M726.2 73.0h0M726.4 72.8h0M726.6 71.5h0M726.7 70.3h0M726.9 70.4h0M727.1 69.6h0M727.3 69.4h0M727.4 69.0h0M727.6 68.6h0M727.8 68.2h0M727.9 67.9h0M728.1 66.7h0M728.3 66.4h0M728.4 66.4h0M728.6 66.2h0M728.8 65.9h0M729.0 65.5h0M729.1 65.7h0M729.3 65.3h0M729.5 64.4h0M729.6 64.7h0M729.8 64.1h0M730.0 63.9h0M730.1 63.5h0M730.3 63.2h0M730.5 62.2h0M730.7 62.7h0M730.8 62.6h0M731.0 62.2h0M731.2 61.6h0M731.3 61.3h0M731.5 61.2h0M731.7 61.0h0M731.8 60.8h0M732.0 60.7h0M732.2 60.4h0M732.4 60.1h0M732.5 59.8h0M732.7 59.8h0M732.9 59.6h0M733.0 59.2h0M733.2 59.1h0M733.4 58.8h0M733.5 58.6h0M733.7 58.4h0M733.9 58.2h0M734.1 57.9h0M734.2 57.8h0M734.4 57.7h0M734.6 57.5h0M734.7 57.3h0M734.9 57.1h0M735.1 57.1h0M735.2 56.8h0M735.4 56.6h0M735.6 56.4h0M735.8 56.3h0M735.9 56.2h0M736.1 56.1h0M736.3 55.9h0M736.4 55.6h0M736.6 55.6h0M736.8 55.3h0M736.9 55.1h0M737.1 55.1h0M737.3 54.9h0M737.5 54.7h0M737.6 54.4h0M737.8 54.3h0M738.0 54.2h0M738.1 54.0h0M738.3 53.9h0M738.5 53.6h0M738.6 53.4h0M738.8 53.3h0M739.0 53.1h0M739.2 52.9h0M739.3 52.8h0M739.5 52.5h0M739.7 52.4h0M739.8 52.2h0M740.0 51.8h0M740.2 51.7h0M740.3 51.6h0M740.5 51.4h0M740.7 51.2h0M740.9 51.0h0M741.0 50.7h0M741.2 50.6h0M741.4 50.4h0M741.5 50.2h0M741.7 50.0h0M741.9 49.9h0M742.0 49.6h0M742.2 49.4h0M742.4 49.2h0M742.6 49.1h0M742.7 48.9h0M742.9 48.7h0M743.1 48.6h0M743.2 48.3h0M743.4 48.1h0M743.6 47.9h0M743.7 47.8h0M743.9 47.6h0M744.1 47.3h0M744.3 47.2h0M744.4 46.9h0M744.6 46.8h0M744.8 46.7h0M744.9 46.4h0M745.1 46.2h0M745.3 46.1h0M745.4 45.9h0M745.6 45.6h0M745.8 45.4h0M746.0 45.2h0M746.1 45.1h0M746.3 44.8h0M746.5 44.7h0M746.6 44.4h0M746.8 44.1h0M747.0 44.0h0M747.1 43.8h0M747.3 43.5h0M747.5 43.2h0M747.7 43.0h0M747.8 42.9h0M748.0 42.6h0M748.2 42.4h0M748.3 42.2h0M748.5 42.0h0M748.7 41.8h0M748.8 41.5h0M749.0 41.3h0M749.2 41.0h0M749.4 40.9h0M749.5 40.8h0M749.7 40.6h0M749.9 40.3h0M750.0 40.1h0M750.2 39.9h0M750.4 39.7h0M750.5 39.5h0M750.7 39.2h0M750.9 39.0h0M751.1 38.8h0M751.2 38.5h0M751.4 38.4h0M751.6 38.2h0M751.7 38.0h0M751.9 37.8h0M752.1 37.5h0M752.2 37.3h0M752.4 37.1h0M752.6 36.9h0M752.8 36.6h0M752.9 36.4h0M753.1 36.3h0M753.3 36.2h0M753.4 36.0h0M753.6 35.9h0M753.8 35.7h0M753.9 35.5h0M754.1 35.3h0M754.3 35.2h0M754.5 35.1h0M754.6 34.9h0M754.8 34.7h0M755.0 34.6h0M755.1 34.4h0M755.3 34.3h0M755.5 34.1h0M755.6 34.0h0M755.8 33.8h0M756.0 33.6h0M756.2 33.4h0M756.3 33.3h0M756.5 33.1h0M756.7 33.0h0M756.8 32.8h0M757.0 32.7h0M757.2 32.5h0M757.3 32.5h0M757.5 32.2h0M757.7 32.1h0M757.9 31.9h0M758.0 31.7h0M758.2 31.6h0M758.4 31.5h0M758.5 31.2h0M758.7 31.1h0M758.9 31.0h0M759.0 30.8h0M759.2 30.8h0M759.4 30.6h0M759.6 30.4h0M759.7 30.3h0M759.9 30.2h0M760.1 30.1h0M760.2 30.0h0M760.4 29.9h0M760.6 29.7h0M760.7 29.6h0M760.9 29.5h0M761.1 29.3h0M761.3 29.2h0M761.4 29.1h0M761.6 29.0h0M761.8 28.8h0M761.9 28.8h0M762.1 28.6h0M762.3 28.5h0M762.4 28.4h0M762.6 28.2h0M762.8 28.1h0M763.0 28.0h0M763.1 27.8h0M763.3 27.7h0M763.5 27.6h0M763.6 27.5h0M763.8 27.4h0M764.0 27.3h0M764.1 27.1h0M764.3 27.0h0M764.5 26.9h0M764.7 26.8h0M764.8 26.7h0M765.0 26.5h0M765.2 26.5h0M765.3 26.4h0M765.5 26.4h0M765.7 26.2h0M765.8 26.1h0M766.0 26.0h0M766.2 25.9h0M766.4 25.8h0M766.5 25.8h0M766.7 25.6h0M766.9 25.6h0M767.0 25.4h0M767.2 25.3h0M767.4 25.2h0M767.5 25.2h0M767.7 25.1h0M767.9 24.9h0M768.1 24.9h0M768.2 24.8h0M768.4 24.7h0M768.6 24.6h0M768.7 24.5h0M768.9 24.4h0M769.1 24.3h0M769.2 24.2h0M769.4 24.1h0M769.6 24.0h0M769.8 23.9h0M769.9 23.8h0M770.1 23.7h0M770.3 23.6h0M770.4 23.6h0M770.6 23.8h0M770.8 23.9h0M770.9 24.0h0M771.1 24.1h0M771.3 24.2h0M771.5 24.2h0M771.6 24.4h0M771.8 24.4h0M772.0 24.5h0M772.1 24.7h0M772.3 24.8h0M772.5 24.9h0M772.6 24.9h0M772.8 25.1h0M773.0 25.1h0M773.2 25.2h0M773.3 25.3h0M773.5 25.4h0M773.7 25.5h0M773.8 25.6h0M774.0 25.7h0M774.2 25.8h0M774.3 25.9h0M774.5 26.0h0M774.7 26.1h0M774.9 26.5h0M775.0 26.9h0M775.2 27.3h0M775.4 27.7h0M775.5 28.1h0M775.7 28.4h0M775.9 28.9h0M776.0 29.3h0M776.2 29.7h0M776.4 30.1h0M776.6 30.5h0M776.7 30.9h0M776.9 31.3h0M777.1 31.7h0M777.2 32.1h0M777.4 32.5h0M777.6 32.9h0M777.7 33.6h0M777.9 34.1h0M778.1 34.7h0M778.3 35.3h0M778.4 35.9h0M778.6 36.4h0M778.8 37.0h0M778.9 37.5h0M779.1 38.1h0M779.3 38.7h0M779.4 39.3h0M779.6 39.8h0M779.8 40.4h0M780.0 41.0h0M780.1 41.5h0M780.3 42.1h0M780.5 42.9h0M780.6 43.7h0M780.8 44.4h0M781.0 45.3h0M781.1 46.1h0M781.3 46.8h0M781.5 47.6h0M781.7 48.3h0M781.8 49.1h0M782.0 49.9h0M782.2 50.7h0M782.3 51.4h0M782.5 52.2h0M782.7 53.1h0M782.8 53.8h0M783.0 54.6h0M783.2 55.4h0M783.4 56.3h0M783.5 57.2h0M783.7 58.0h0M783.9 59.0h0M784.0 59.9h0M784.2 60.8h0M784.4 61.9h0M784.5 62.7h0M784.7 63.5h0M784.9 64.6h0M785.1 65.5h0M785.2 66.1h0M785.4 67.6h0M785.6 67.7h0M785.7 69.8h0M785.9 70.0h0M786.1 71.7h0M786.2 72.2h0M786.4 72.2h0M786.6 74.2h0M786.8 74.9h0M786.9 76.2h0M787.1 76.3h0M787.3 78.0h0M787.4 77.4h0M787.6 79.2h0M787.8 80.1h0M787.9 81.1h0M788.1 82.1h0M788.3 82.5h0M788.5 83.9h0M788.6 84.0h0M788.8 86.1h0M789.0 85.4h0M789.1 86.8h0M789.3 87.5h0M789.5 88.8h0M789.6 89.8h0M789.8 90.0h0M790.0 91.1h0M790.2 93.3h0M790.3 94.0h0M790.5 93.5h0M790.7 96.1h0M790.8 94.5h0M791.0 97.2h0M791.2 99.0h0M791.3 97.6h0M791.5 98.6h0M791.7 99.5h0M791.9 99.9h0M792.0 100.1h0M792.2 102.0h0M792.4 103.2h0M792.5 102.9h0M792.7 104.8h0M792.9 104.3h0M793.0 105.4h0M793.2 107.1h0M793.4 106.9h0M793.6 106.6h0M793.7 107.0h0M793.9 110.0h0M794.1 108.6h0M794.2 109.2h0M794.4 109.9h0M794.6 111.4h0M794.7 111.7h0M794.9 111.8h0M795.1 110.7h0M795.3 113.5h0M795.4 114.0h0M795.6 114.8h0M795.8 113.7h0M795.9 113.3h0M796.1 114.8h0M796.3 115.7h0M796.4 115.3h0M796.6 115.0h0M796.8 119.1h0M797.0 119.3h0M797.1 117.2h0M797.3 118.1h0M797.5 119.8h0M797.6 117.3h0M797.8 118.2h0M798.0 119.5h0M798.1 120.2h0M798.3 119.7h0M798.5 123.3h0M798.7 119.6h0M798.8 122.8h0M799.0 121.9h0M799.2 122.5h0M799.3 123.5h0M799.5 123.0h0M799.7 123.2h0M799.8 127.1h0M800.0 124.2h0M800.2 124.6h0M800.4 128.2h0M800.5 126.7h0M800.7 127.2h0M800.9 130.1h0M801.0 128.4h0M801.2 129.0h0M801.4 129.8h0M801.5 128.2h0M801.7 129.8h0M801.9 135.0h0M802.1 129.8h0M802.2 134.4h0M802.4 130.1h0M802.6 132.7h0M802.7 133.6h0M802.9 135.6h0M803.1 137.7h0M803.2 135.9h0M803.4 137.2h0M803.6 135.4h0M803.8 133.8h0M803.9 135.4h0M804.1 133.8h0M804.3 137.9h0M804.4 136.3h0M804.6 135.6h0M804.8 140.3h0M804.9 134.4h0M805.1 136.1h0M805.3 137.0h0M805.5 134.8h0M805.6 136.3h0M805.8 140.3h0M806.0 143.0h0M806.1 139.7h0M806.3 134.2h0M806.5 140.8h0M806.6 142.7h0M806.8 140.6h0M807.0 137.0h0M807.2 142.3h0M807.3 151.5h0M807.5 144.0h0M807.7 142.7h0M807.8 146.5h0M808.0 145.8h0M808.2 143.0h0M808.3 144.7h0M808.5 143.6h0M808.7 145.0h0M808.9 145.8h0M809.0 144.7h0M809.2 146.5h0M809.4 151.5h0M809.5 149.5h0M809.7 147.7h0M809.9 149.5h0M810.0 150.5h0M810.2 151.0h0M810.4 144.7h0M810.6 147.7h0M810.7 155.5h0M810.9 154.3h0M811.1 146.5h0M811.2 151.5h0M811.4 159.1h0M811.6 150.0h0M811.7 150.0h0M811.9 155.5h0M812.1 155.5h0M812.3 149.5h0M812.4 156.9h0M812.6 154.3h0M812.8 155.5h0M812.9 149.5h0M813.1 155.5h0M813.3 153.1h0M813.4 154.3h0M813.6 151.0h0M813.8 149.5h0M814.0 155.5h0M814.1 156.9h0M814.3 156.2h0M814.5 154.9h0M814.6 154.3h0M814.8 156.2h0M815.0 151.5h0M815.1 161.6h0M815.3 155.5h0M815.5 159.1h0M815.7 156.2h0M815.8 154.3h0M816.0 164.5h0M816.2 156.2h0M816.3 158.3h0M816.5 163.5h0M816.7 153.1h0M816.8 152.5h0M817.0 153.1h0M817.2 159.1h0M817.4 161.6h0M817.5 160.7h0M817.7 166.8h0M817.9 161.6h0M818.0 157.6h0M818.2 160.7h0M818.4 158.3h0M818.5 158.3h0M818.7 159.1h0M818.9 158.3h0M819.1 170.8h0M819.2 154.3h0M819.4 156.9h0M819.6 157.6h0M819.7 159.1h0M819.9 161.6h0M820.1 164.5h0M820.2 162.5h0M820.4 169.4h0M820.6 164.5h0M820.8 158.3h0M820.9 159.1h0M821.1 164.5h0M821.3 165.6h0M821.4 172.4h0M821.6 156.9h0M821.8 164.5h0M821.9 159.9h0M822.1 166.8h0M822.3 166.8h0M822.5 165.6h0M822.6 180.6h0M822.8 168.1h0M823.0 162.5h0M823.1 169.4h0M823.3 169.4h0M823.5 169.4h0M823.6 165.6h0M823.8 174.1h0M824.0 164.5h0M824.2 159.9h0M824.3 169.4h0M824.5 180.6h0M824.7 170.8h0M824.8 170.8h0M825.0 170.8h0M825.2 186.7h0M825.3 180.6h0M825.5 176.0h0M825.7 183.4h0M825.9 170.8h0M826.0 174.1h0M826.2 169.4h0M826.4 178.2h0M826.5 186.7h0M826.7 183.4h0M826.9 186.7h0M827.0 172.4h0M827.2 170.8h0M827.4 178.2h0M827.6 195.9h0M827.7 172.4h0M827.9 169.4h0M828.1 195.9h0M828.2 190.7h0M828.4 180.6h0M828.6 170.8h0M828.7 178.2h0M828.9 170.8h0M829.1 170.8h0M829.3 195.9h0M829.4 186.7h0M829.6 172.4h0M829.8 162.5h0M829.9 190.7h0M830.1 178.2h0M830.3 176.0h0M830.4 186.7h0M830.6 180.6h0M830.8 183.4h0M831.0 168.1h0M831.1 174.1h0M831.3 190.7h0M831.5 183.4h0M831.6 180.6h0M831.8 190.7h0M832.0 180.6h0M832.1 183.4h0M832.3 183.4h0M832.5 178.2h0M832.7 180.6h0M832.8 174.1h0M833.0 178.2h0M833.2 169.4h0M833.3 183.4h0M833.5 176.0h0M833.7 186.7h0M833.8 190.7h0M834.0 190.7h0M834.2 183.4h0M834.4 186.7h0M834.5 190.7h0M834.7 183.4h0M834.9 190.7h0M835.0 178.2h0M835.2 203.3h0M835.4 186.7h0M835.5 190.7h0M835.7 190.7h0M835.9 186.7h0M836.1 190.7h0M836.2 183.4h0M836.4 186.7h0M836.7 203.3h0M836.9 203.3h0M837.1 186.7h0M837.2 190.7h0M837.4 203.3h0M837.6 203.3h0M837.8 203.3h0M837.9 183.4h0M838.1 195.9h0M838.3 203.3h0M838.6 190.7h0M838.9 183.4h0M839.1 190.7h0M839.3 190.7h0M839.5 215.8h0M839.8 190.7h0M840.0 186.7h0M840.1 195.9h0M840.3 195.9h0M840.5 215.8h0M840.8 215.8h0M841.0 203.3h0M841.2 215.8h0M841.3 215.8h0M841.5 190.7h0M841.7 195.9h0M841.8 215.8h0M842.2 203.3h0M842.3 215.8h0M842.5 195.9h0M842.7 195.9h0M842.9 190.7h0M843.4 203.3h0M843.5 195.9h0M843.7 215.8h0M843.9 215.8h0M844.0 215.8h0M844.4 195.9h0M844.6 190.7h0M844.7 215.8h0M844.9 190.7h0M845.1 203.3h0M845.2 195.9h0M845.6 215.8h0M845.7 190.7h0M846.3 215.8h0M846.4 190.7h0M846.6 203.3h0M846.8 215.8h0M846.9 215.8h0M847.1 215.8h0M847.3 195.9h0M847.4 195.9h0M847.8 215.8h0M848.0 203.3h0M848.3 203.3h0M848.5 203.3h0M848.6 215.8h0M849.0 203.3h0M849.1 195.9h0M849.5 203.3h0M849.8 203.3h0M850.2 215.8h0M850.3 203.3h0M850.7 203.3h0M850.8 215.8h0M851.0 215.8h0M851.5 203.3h0M852.5 195.9h0M852.9 203.3h0M853.4 203.3h0M853.6 203.3h0M853.7 203.3h0M854.1 215.8h0M854.2 203.3h0M854.4 203.3h0M854.6 215.8h0M854.8 215.8h0M854.9 215.8h0M855.4 215.8h0M855.9 203.3h0M856.1 203.3h0M856.5 186.7h0M856.6 195.9h0M856.8 215.8h0M857.0 215.8h0M857.1 195.9h0M857.3 215.8h0M857.5 215.8h0M857.8 203.3h0M858.0 195.9h0M858.2 215.8h0M858.3 203.3h0M858.5 215.8h0M858.7 215.8h0M859.0 215.8h0M859.2 203.3h0M859.3 195.9h0M860.0 195.9h0M860.2 215.8h0M860.5 215.8h0M861.4 215.8h0M861.6 215.8h0M862.2 203.3h0M862.6 215.8h0M862.9 215.8h0M863.4 215.8h0M863.6 203.3h0M863.9 215.8h0M864.4 215.8h0M865.6 215.8h0M865.8 215.8h0M866.0 215.8h0M866.3 215.8h0M867.3 215.8h0M867.5 215.8h0M868.2 215.8h0M868.4 203.3h0M868.9 215.8h0M869.2 215.8h0M870.1 215.8h0M871.2 215.8h0M871.6 215.8h0M872.1 215.8h0M872.4 215.8h0M873.5 215.8h0M873.6 203.3h0M874.5 215.8h0M876.5 215.8h0M880.1 203.3h0M880.9 215.8h0M881.6 215.8h0M882.1 215.8h0M883.0 195.9h0M885.0 215.8h0M886.9 215.8h0M887.7 215.8h0M888.1 215.8h0M889.1 215.8h0M891.1 215.8h0M895.2 215.8h0M901.5 215.8h0M909.2 215.8h0" stroke="#0072bd" stroke-width="2.8" stroke-linecap="round" fill="none"/>
<path d="M719.8 215.8h0M721.6 215.8h0M723.7 215.8h0M726.4 215.8h0M727.9 215.8h0M728.8 215.8h0M730.9 215.8h0M731.2 203.3h0M731.8 195.9h0M732.1 215.8h0M732.4 215.8h0M732.7 203.3h0M733.3 203.3h0M733.6 215.8h0M733.9 215.8h0M734.5 215.8h0M734.8 203.3h0M735.1 215.8h0M735.4 215.8h0M735.7 215.8h0M736.0 203.3h0M736.3 215.8h0M736.6 195.9h0M736.9 215.8h0M737.2 215.8h0M737.5 195.9h0M738.4 215.8h0M738.7 203.3h0M739.0 215.8h0M739.6 215.8h0M739.9 215.8h0M740.5 215.8h0M740.8 203.3h0M741.1 203.3h0M741.4 203.3h0M741.7 190.7h0M742.0 215.8h0M742.3 215.8h0M742.6 215.8h0M742.9 195.9h0M743.2 195.9h0M743.5 215.8h0M743.8 215.8h0M744.1 195.9h0M744.4 215.8h0M744.7 215.8h0M745.0 203.3h0M745.3 195.9h0M745.6 190.7h0M745.9 203.3h0M746.2 203.3h0M746.5 190.7h0M746.8 195.9h0M747.1 190.7h0M747.4 180.6h0M747.7 176.0h0M748.0 215.8h0M748.3 174.1h0M748.6 190.7h0M748.9 190.7h0M749.2 190.7h0M749.5 178.2h0M749.8 180.6h0M750.1 180.6h0M750.4 190.7h0M750.7 169.4h0M751.0 183.4h0M751.3 176.0h0M751.6 169.4h0M751.9 165.6h0M752.2 166.8h0M752.5 165.6h0M752.8 160.7h0M753.1 154.9h0M753.4 152.5h0M753.7 147.7h0M754.0 143.6h0M754.3 141.1h0M754.6 144.0h0M754.9 138.9h0M755.2 136.7h0M755.5 134.6h0M755.8 130.9h0M756.1 128.4h0M756.4 130.0h0M756.7 121.2h0M757.0 116.1h0M757.3 109.9h0M757.6 104.8h0M757.9 98.9h0M758.2 94.0h0M758.5 88.3h0M758.8 81.5h0M759.1 76.8h0M759.4 69.1h0M759.7 61.0h0M760.0 56.1h0M760.3 50.6h0M760.6 44.8h0M760.9 38.3h0M761.2 34.3h0M761.5 31.5h0M761.8 31.0h0M762.1 31.1h0M762.4 32.7h0M762.7 39.0h0M763.0 44.3h0M763.3 47.6h0M763.6 50.9h0M763.9 54.4h0M764.2 59.6h0M764.5 64.9h0M764.8 71.5h0M765.1 78.1h0M765.4 85.0h0M765.7 93.0h0M766.0 99.4h0M766.3 105.6h0M766.6 109.6h0M766.9 114.4h0M767.2 121.0h0M767.5 124.8h0M767.8 129.0h0M768.1 132.7h0M768.4 140.8h0M768.7 141.4h0M769.0 141.7h0M769.3 153.7h0M769.6 153.1h0M769.9 159.9h0M770.2 159.1h0M770.5 161.6h0M770.8 164.5h0M771.1 172.4h0M771.4 178.2h0M771.7 176.0h0M772.0 178.2h0M772.3 178.2h0M772.6 172.4h0M772.9 180.6h0M773.2 186.7h0M773.5 186.7h0M773.8 190.7h0M774.1 195.9h0M774.4 215.8h0M774.7 195.9h0M775.3 215.8h0M775.6 215.8h0M775.9 215.8h0M776.2 203.3h0M776.5 203.3h0M776.8 215.8h0M777.1 215.8h0M777.4 203.3h0M777.7 215.8h0M778.9 215.8h0M779.8 215.8h0M780.4 215.8h0M781.3 215.8h0M781.6 215.8h0M781.9 215.8h0M782.2 215.8h0M782.8 215.8h0" stroke="#d95319" stroke-width="2.5" stroke-linecap="round" fill="none"/>
<path d="M660.50 215.8v-3M660.50 7.5v3M711.40 215.8v-3M711.40 7.5v3M762.30 215.8v-3M762.30 7.5v3M813.20 215.8v-3M813.20 7.5v3M864.10 215.8v-3M864.10 7.5v3M609.6 215.80h3.8M915.0 215.80h-3.8M609.6 174.14h3.8M915.0 174.14h-3.8M609.6 132.48h3.8M915.0 132.48h-3.8M609.6 90.82h3.8M915.0 90.82h-3.8M609.6 49.16h3.8M915.0 49.16h-3.8M609.6 7.50h3.8M915.0 7.50h-3.8M609.6 203.26h2.6M915.0 203.26h-2.6M609.6 195.92h2.6M915.0 195.92h-2.6M609.6 190.72h2.6M915.0 190.72h-2.6M609.6 186.68h2.6M915.0 186.68h-2.6M609.6 183.38h2.6M915.0 183.38h-2.6M609.6 180.59h2.6M915.0 180.59h-2.6M609.6 178.18h2.6M915.0 178.18h-2.6M609.6 176.05h2.6M915.0 176.05h-2.6M609.6 161.60h2.6M915.0 161.60h-2.6M609.6 154.26h2.6M915.0 154.26h-2.6M609.6 149.06h2.6M915.0 149.06h-2.6M609.6 145.02h2.6M915.0 145.02h-2.6M609.6 141.72h2.6M915.0 141.72h-2.6M609.6 138.93h2.6M915.0 138.93h-2.6M609.6 136.52h2.6M915.0 136.52h-2.6M609.6 134.39h2.6M915.0 134.39h-2.6M609.6 119.94h2.6M915.0 119.94h-2.6M609.6 112.60h2.6M915.0 112.60h-2.6M609.6 107.40h2.6M915.0 107.40h-2.6M609.6 103.36h2.6M915.0 103.36h-2.6M609.6 100.06h2.6M915.0 100.06h-2.6M609.6 97.27h2.6M915.0 97.27h-2.6M609.6 94.86h2.6M915.0 94.86h-2.6M609.6 92.73h2.6M915.0 92.73h-2.6M609.6 78.28h2.6M915.0 78.28h-2.6M609.6 70.94h2.6M915.0 70.94h-2.6M609.6 65.74h2.6M915.0 65.74h-2.6M609.6 61.70h2.6M915.0 61.70h-2.6M609.6 58.40h2.6M915.0 58.40h-2.6M609.6 55.61h2.6M915.0 55.61h-2.6M609.6 53.20h2.6M915.0 53.20h-2.6M609.6 51.07h2.6M915.0 51.07h-2.6M609.6 36.62h2.6M915.0 36.62h-2.6M609.6 29.28h2.6M915.0 29.28h-2.6M609.6 24.08h2.6M915.0 24.08h-2.6M609.6 20.04h2.6M915.0 20.04h-2.6M609.6 16.74h2.6M915.0 16.74h-2.6M609.6 13.95h2.6M915.0 13.95h-2.6M609.6 11.54h2.6M915.0 11.54h-2.6M609.6 9.41h2.6M915.0 9.41h-2.6" stroke="#262626" stroke-width="0.9" fill="none"/>
<rect x="609.6" y="7.5" width="305.4" height="208.3" fill="none" stroke="#2b2b2b" stroke-width="1.3"/>
<g font-family="'Liberation Sans', Arial, Helvetica, sans-serif" font-size="9" fill="#262626" clip-path="url(#clipR921)"><text x="609.6" y="228.6" text-anchor="middle" font-size="9.5">-15</text><text x="660.5" y="228.6" text-anchor="middle" font-size="9.5">-10</text><text x="711.4" y="228.6" text-anchor="middle" font-size="9.5">-5</text><text x="762.3" y="228.6" text-anchor="middle" font-size="9.5">0</text><text x="813.2" y="228.6" text-anchor="middle" font-size="9.5">5</text><text x="864.1" y="228.6" text-anchor="middle" font-size="9.5">10</text><text x="915.0" y="228.6" text-anchor="middle" font-size="9.5">15</text><text x="601.8" y="220.7" text-anchor="end" font-size="9.2">10</text><text x="602.1" y="216.3" font-size="7.2">0</text><text x="601.8" y="179.0" text-anchor="end" font-size="9.2">10</text><text x="602.1" y="174.6" font-size="7.2">1</text><text x="601.8" y="137.4" text-anchor="end" font-size="9.2">10</text><text x="602.1" y="133.0" font-size="7.2">2</text><text x="601.8" y="95.7" text-anchor="end" font-size="9.2">10</text><text x="602.1" y="91.3" font-size="7.2">3</text><text x="601.8" y="54.1" text-anchor="end" font-size="9.2">10</text><text x="602.1" y="49.7" font-size="7.2">4</text><text x="601.8" y="12.4" text-anchor="end" font-size="9.2">10</text><text x="602.1" y="8.0" font-size="7.2">5</text></g>
<text x="0" y="0" transform="translate(586.8 111.7) rotate(-90)" text-anchor="middle" font-family="'Liberation Sans', Arial, Helvetica, sans-serif" font-size="10" fill="#262626" textLength="47.6" lengthAdjust="spacingAndGlyphs">Frequency</text>
<text x="762.3" y="241.4" text-anchor="middle" font-family="'Liberation Sans', Arial, Helvetica, sans-serif" font-size="10" fill="#262626" textLength="90.7" lengthAdjust="spacingAndGlyphs">Relative offset (e-)</text>
<rect x="822" y="12.7" width="87.7" height="22.5" fill="#fff" stroke="#262626" stroke-width="1"/>
<path d="M830.0 19.0h0" stroke="#0072bd" stroke-width="2.6" stroke-linecap="round" fill="none"/>
<path d="M830.0 29.4h0" stroke="#d95319" stroke-width="2.6" stroke-linecap="round" fill="none"/>
<text x="838" y="22" font-family="'Liberation Sans', Arial, Helvetica, sans-serif" font-size="9" fill="#000" textLength="69" lengthAdjust="spacingAndGlyphs">Before correction</text>
<text x="838" y="32.4" font-family="'Liberation Sans', Arial, Helvetica, sans-serif" font-size="9" fill="#000" textLength="62" lengthAdjust="spacingAndGlyphs">After correction</text>
</g>
<g clip-path="url(#clipP2)">
<rect x="571" y="320" width="351" height="255.7" fill="#f0f0f0"/>
<rect x="605.0" y="329.5" width="314.5" height="218.5" fill="#fff"/>
<path d="M606 534.5H919.5M606 527.5H919.5M606 521.5H919.5M606 517.5H919.5M606 513.5H919.5M606 511.5H919.5M606 508.5H919.5M606 506.5H919.5M606 491.5H919.5M606 483.5H919.5M606 477.5H919.5M606 473.5H919.5M606 470.5H919.5M606 467.5H919.5M606 464.5H919.5M606 462.5H919.5M606 447.5H919.5M606 439.5H919.5M606 434.5H919.5M606 430.5H919.5M606 426.5H919.5M606 423.5H919.5M606 421.5H919.5M606 418.5H919.5M606 403.5H919.5M606 396.5H919.5M606 390.5H919.5M606 386.5H919.5M606 382.5H919.5M606 379.5H919.5M606 377.5H919.5M606 375.5H919.5M606 360.5H919.5M606 352.5H919.5M606 346.5H919.5M606 342.5H919.5M606 339.5H919.5M606 336.5H919.5M606 333.5H919.5M606 331.5H919.5" stroke="#d0d0d0" stroke-width="1" stroke-dasharray="1 1" fill="none"/>
<path d="M605.0 504.5H919.5M605.0 460.5H919.5M605.0 416.5H919.5M605.0 373.5H919.5M657.5 329.5V548.0M709.5 329.5V548.0M762.5 329.5V548.0M814.5 329.5V548.0M867.5 329.5V548.0" stroke="#dadada" stroke-width="1" fill="none"/>
<path d="M644.6 548.0h0M648.9 548.0h0M650.6 548.0h0M651.5 548.0h0M652.1 548.0h0M654.3 548.0h0M654.6 548.0h0M654.9 534.8h0M656.1 548.0h0M659.1 548.0h0M659.9 548.0h0M659.9 548.0h0M660.0 548.0h0M660.1 548.0h0M660.9 548.0h0M661.9 548.0h0M662.2 548.0h0M662.3 548.0h0M662.6 548.0h0M662.7 548.0h0M663.3 548.0h0M663.9 548.0h0M664.3 548.0h0M664.5 548.0h0M665.0 548.0h0M665.1 548.0h0M665.5 548.0h0M665.9 548.0h0M665.9 548.0h0M666.0 548.0h0M666.1 548.0h0M666.2 548.0h0M666.7 548.0h0M667.3 534.8h0M667.9 548.0h0M668.0 534.8h0M668.6 548.0h0M668.7 548.0h0M669.1 548.0h0M669.3 534.8h0M669.7 548.0h0M669.8 548.0h0M670.2 548.0h0M670.4 548.0h0M670.5 548.0h0M670.6 548.0h0M670.7 521.7h0M670.8 548.0h0M671.3 534.8h0M671.4 534.8h0M671.5 534.8h0M671.6 534.8h0M671.7 548.0h0M671.8 548.0h0M672.2 534.8h0M672.6 548.0h0M672.8 548.0h0M673.2 534.8h0M673.3 548.0h0M673.4 548.0h0M673.5 548.0h0M673.6 548.0h0M673.7 548.0h0M673.7 548.0h0M673.8 548.0h0M673.8 548.0h0M673.9 534.8h0M674.0 548.0h0M674.1 548.0h0M674.2 548.0h0M674.3 548.0h0M674.4 534.8h0M674.4 534.8h0M674.5 548.0h0M674.6 521.7h0M674.7 534.8h0M674.8 534.8h0M674.9 548.0h0M674.9 548.0h0M675.0 548.0h0M675.0 534.8h0M675.2 548.0h0M675.3 534.8h0M675.3 548.0h0M675.5 521.7h0M675.5 534.8h0M675.6 548.0h0M675.6 548.0h0M675.8 534.8h0M675.8 534.8h0M675.9 527.1h0M676.0 548.0h0M676.1 548.0h0M676.2 548.0h0M676.3 548.0h0M676.4 527.1h0M676.4 548.0h0M676.5 548.0h0M676.7 548.0h0M677.0 548.0h0M677.1 521.7h0M677.1 548.0h0M677.3 548.0h0M677.3 527.1h0M677.6 548.0h0M677.6 548.0h0M677.7 548.0h0M677.9 534.8h0M677.9 527.1h0M678.0 548.0h0M678.2 548.0h0M678.3 548.0h0M678.3 548.0h0M678.4 527.1h0M678.5 527.1h0M678.8 534.8h0M678.8 534.8h0M678.9 534.8h0M678.9 548.0h0M679.0 548.0h0M679.1 548.0h0M679.1 548.0h0M679.2 534.8h0M679.3 527.1h0M679.5 534.8h0M679.5 527.1h0M679.7 548.0h0M679.7 527.1h0M679.8 527.1h0M680.0 548.0h0M680.0 534.8h0M680.1 548.0h0M680.1 527.1h0M680.3 527.1h0M680.3 534.8h0M680.4 534.8h0M680.5 548.0h0M680.6 527.1h0M680.6 534.8h0M680.7 534.8h0M680.7 534.8h0M680.8 548.0h0M680.9 534.8h0M681.0 534.8h0M681.0 534.8h0M681.1 548.0h0M681.2 527.1h0M681.2 548.0h0M681.3 521.7h0M681.4 548.0h0M681.5 548.0h0M681.6 548.0h0M681.7 521.7h0M682.1 548.0h0M682.2 527.1h0M682.2 534.8h0M682.3 534.8h0M682.4 548.0h0M682.6 534.8h0M682.7 534.8h0M682.8 527.1h0M682.9 534.8h0M683.0 534.8h0M683.1 527.1h0M683.1 534.8h0M683.2 534.8h0M683.3 534.8h0M683.3 521.7h0M683.4 534.8h0M683.4 511.1h0M683.5 527.1h0M683.6 548.0h0M683.6 534.8h0M683.7 534.8h0M683.8 527.1h0M683.9 534.8h0M683.9 527.1h0M684.0 517.5h0M684.2 548.0h0M684.3 527.1h0M684.3 521.7h0M684.4 521.7h0M684.5 548.0h0M684.6 548.0h0M684.7 548.0h0M684.8 534.8h0M684.8 514.0h0M684.9 527.1h0M685.0 548.0h0M685.1 521.7h0M685.2 534.8h0M685.2 514.0h0M685.3 527.1h0M685.4 548.0h0M685.4 527.1h0M685.5 527.1h0M685.5 548.0h0M685.6 521.7h0M685.7 548.0h0M685.7 534.8h0M685.8 548.0h0M685.8 527.1h0M685.9 534.8h0M686.0 527.1h0M686.0 514.0h0M686.1 521.7h0M686.1 534.8h0M686.3 548.0h0M686.3 527.1h0M686.4 548.0h0M686.4 548.0h0M686.5 517.5h0M686.6 527.1h0M686.6 527.1h0M686.7 548.0h0M686.7 548.0h0M686.8 527.1h0M686.9 521.7h0M686.9 517.5h0M687.0 521.7h0M687.0 534.8h0M687.1 521.7h0M687.2 506.3h0M687.2 527.1h0M687.3 517.5h0M687.3 506.3h0M687.5 517.5h0M687.5 521.7h0M687.6 548.0h0M687.6 534.8h0M687.7 517.5h0M687.8 534.8h0M687.8 548.0h0M687.9 508.5h0M687.9 534.8h0M688.0 521.7h0M688.1 521.7h0M688.1 534.8h0M688.2 548.0h0M688.2 548.0h0M688.3 521.7h0M688.4 521.7h0M688.4 527.1h0M688.5 508.5h0M688.5 534.8h0M688.6 511.1h0M688.7 508.5h0M688.7 517.5h0M688.8 534.8h0M688.8 534.8h0M688.9 521.7h0M689.0 517.5h0M689.0 517.5h0M689.1 527.1h0M689.1 527.1h0M689.2 534.8h0M689.3 521.7h0M689.3 511.1h0M689.4 511.1h0M689.4 506.3h0M689.5 548.0h0M689.6 517.5h0M689.7 517.5h0M689.8 508.5h0M689.9 527.1h0M689.9 521.7h0M690.0 527.1h0M690.0 508.5h0M690.1 517.5h0M690.2 521.7h0M690.2 534.8h0M690.3 506.3h0M690.3 534.8h0M690.4 548.0h0M690.5 521.7h0M690.5 521.7h0M690.6 511.1h0M690.6 527.1h0M690.7 514.0h0M690.8 548.0h0M690.8 548.0h0M690.9 514.0h0M690.9 514.0h0M691.0 534.8h0M691.1 517.5h0M691.1 534.8h0M691.2 517.5h0M691.2 527.1h0M691.3 511.1h0M691.4 499.3h0M691.4 514.0h0M691.5 517.5h0M691.5 504.3h0M691.6 521.7h0M691.7 517.5h0M691.7 506.3h0M691.8 521.7h0M691.8 548.0h0M691.9 506.3h0M692.0 511.1h0M692.0 506.3h0M692.1 527.1h0M692.1 514.0h0M692.2 500.8h0M692.3 504.3h0M692.3 527.1h0M692.4 517.5h0M692.4 521.7h0M692.5 506.3h0M692.6 500.8h0M692.6 521.7h0M692.7 527.1h0M692.7 517.5h0M692.8 504.3h0M692.9 514.0h0M692.9 521.7h0M693.0 521.7h0M693.0 517.5h0M693.1 511.1h0M693.2 506.3h0M693.2 504.3h0M693.3 500.8h0M693.3 517.5h0M693.4 517.5h0M693.5 517.5h0M693.5 521.7h0M693.6 514.0h0M693.6 527.1h0M693.7 534.8h0M693.8 527.1h0M693.8 511.1h0M693.9 493.1h0M693.9 527.1h0M694.0 521.7h0M694.1 517.5h0M694.1 499.3h0M694.2 506.3h0M694.2 508.5h0M694.3 517.5h0M694.4 500.8h0M694.4 511.1h0M694.5 506.3h0M694.5 514.0h0M694.6 500.8h0M694.7 514.0h0M694.7 508.5h0M694.8 511.1h0M694.8 502.5h0M694.9 506.3h0M695.0 514.0h0M695.0 508.5h0M695.1 497.9h0M695.1 511.1h0M695.2 511.1h0M695.3 504.3h0M695.3 495.4h0M695.4 500.8h0M695.4 508.5h0M695.5 499.3h0M695.6 502.5h0M695.6 511.1h0M695.7 517.5h0M695.7 499.3h0M695.8 511.1h0M695.9 511.1h0M695.9 517.5h0M696.0 492.1h0M696.0 508.5h0M696.1 506.3h0M696.2 504.3h0M696.2 508.5h0M696.3 514.0h0M696.3 514.0h0M696.4 499.3h0M696.5 521.7h0M696.5 504.3h0M696.6 504.3h0M696.6 517.5h0M696.7 502.5h0M696.8 517.5h0M696.8 508.5h0M696.9 508.5h0M696.9 500.8h0M697.0 504.3h0M697.1 504.3h0M697.1 502.5h0M697.2 508.5h0M697.2 517.5h0M697.3 511.1h0M697.4 500.8h0M697.4 497.9h0M697.5 504.3h0M697.5 495.4h0M697.6 500.8h0M697.7 508.5h0M697.7 497.9h0M697.8 496.6h0M697.8 502.5h0M697.9 496.6h0M698.0 511.1h0M698.0 502.5h0M698.1 499.3h0M698.1 493.1h0M698.2 514.0h0M698.3 511.1h0M698.3 497.9h0M698.4 497.9h0M698.4 499.3h0M698.5 506.3h0M698.6 514.0h0M698.6 495.4h0M698.7 502.5h0M698.7 502.5h0M698.8 491.1h0M698.9 490.2h0M698.9 493.1h0M699.0 495.4h0M699.0 502.5h0M699.1 500.8h0M699.2 488.5h0M699.2 490.2h0M699.3 494.2h0M699.3 489.3h0M699.4 491.1h0M699.5 492.1h0M699.5 500.8h0M699.6 496.6h0M699.6 492.1h0M699.7 491.1h0M699.8 499.3h0M699.8 482.8h0M699.9 491.1h0M699.9 489.3h0M700.0 494.2h0M700.1 482.8h0M700.1 500.8h0M700.2 493.1h0M700.2 491.1h0M700.3 491.1h0M700.4 485.4h0M700.4 487.7h0M700.5 482.8h0M700.5 486.2h0M700.6 487.7h0M700.7 490.2h0M700.7 491.1h0M700.8 487.7h0M700.8 484.8h0M700.9 484.1h0M701.0 496.6h0M701.0 481.1h0M701.1 485.4h0M701.1 486.2h0M701.2 480.5h0M701.3 484.1h0M701.3 481.1h0M701.4 480.5h0M701.4 493.1h0M701.5 484.8h0M701.6 481.6h0M701.6 481.6h0M701.7 482.8h0M701.7 484.1h0M701.8 480.5h0M701.9 487.7h0M701.9 478.0h0M702.0 481.6h0M702.0 486.2h0M702.1 482.2h0M702.2 481.6h0M702.2 478.5h0M702.3 480.0h0M702.3 480.5h0M702.4 483.4h0M702.5 477.5h0M702.5 482.2h0M702.6 483.4h0M702.6 472.3h0M702.7 477.5h0M702.8 476.6h0M702.8 479.5h0M702.9 476.6h0M702.9 481.6h0M703.0 473.4h0M703.1 478.5h0M703.1 479.0h0M703.2 478.0h0M703.2 477.1h0M703.3 474.1h0M703.4 470.9h0M703.4 474.5h0M703.5 480.5h0M703.5 470.6h0M703.6 470.6h0M703.7 479.0h0M703.7 471.9h0M703.8 473.8h0M703.8 470.0h0M703.9 468.8h0M704.0 469.7h0M704.0 469.7h0M704.1 470.9h0M704.1 466.8h0M704.2 471.3h0M704.3 466.3h0M704.3 471.6h0M704.4 470.9h0M704.4 467.6h0M704.5 471.9h0M704.6 472.3h0M704.6 467.9h0M704.7 469.4h0M704.7 467.1h0M704.8 467.1h0M704.9 467.6h0M704.9 464.8h0M705.0 465.6h0M705.0 465.6h0M705.1 463.7h0M705.2 472.3h0M705.2 468.8h0M705.3 467.1h0M705.3 463.0h0M705.4 465.6h0M705.5 464.8h0M705.5 461.8h0M705.6 463.0h0M705.6 465.6h0M705.7 464.1h0M705.8 460.0h0M705.8 460.6h0M705.9 460.4h0M705.9 467.1h0M706.0 460.6h0M706.1 470.3h0M706.1 461.6h0M706.2 464.8h0M706.2 464.1h0M706.3 464.6h0M706.4 461.4h0M706.4 463.7h0M706.5 461.8h0M706.5 464.6h0M706.6 461.0h0M706.7 460.8h0M706.7 460.6h0M706.8 463.2h0M706.8 462.4h0M706.9 462.6h0M707.0 459.0h0M707.0 459.1h0M707.1 458.4h0M707.1 457.6h0M707.2 461.0h0M707.3 459.1h0M707.3 458.1h0M707.4 457.8h0M707.4 458.1h0M707.5 461.8h0M707.6 460.8h0M707.6 461.0h0M707.7 460.0h0M707.7 457.5h0M707.8 463.0h0M707.9 458.8h0M707.9 460.4h0M708.0 460.2h0M708.0 461.6h0M708.1 459.0h0M708.2 460.0h0M708.2 455.9h0M708.3 462.6h0M708.3 457.3h0M708.4 456.5h0M708.5 460.0h0M708.5 456.7h0M708.6 459.1h0M708.6 458.8h0M708.7 456.2h0M708.8 458.8h0M708.8 456.1h0M708.9 455.3h0M708.9 461.2h0M709.0 458.4h0M709.1 455.3h0M709.1 454.2h0M709.2 456.4h0M709.2 455.8h0M709.3 455.6h0M709.4 454.2h0M709.4 456.7h0M709.5 454.6h0M709.5 454.5h0M709.6 456.5h0M709.7 454.5h0M709.7 454.9h0M709.8 453.2h0M709.8 454.1h0M709.9 451.9h0M710.0 454.2h0M710.0 454.1h0M710.1 451.7h0M710.1 452.0h0M710.2 452.4h0M710.3 454.9h0M710.3 454.9h0M710.4 453.7h0M710.4 453.3h0M710.5 454.1h0M710.6 455.9h0M710.6 453.4h0M710.7 453.7h0M710.7 453.3h0M710.8 452.7h0M710.9 453.2h0M710.9 451.1h0M711.0 450.6h0M711.0 452.8h0M711.1 451.0h0M711.2 451.7h0M711.2 452.2h0M711.3 451.8h0M711.3 452.4h0M711.4 449.4h0M711.5 449.2h0M711.5 450.5h0M711.6 451.1h0M711.6 448.7h0M711.7 449.0h0M711.8 452.4h0M711.8 449.7h0M711.9 451.1h0M711.9 448.9h0M712.0 451.9h0M712.1 451.2h0M712.1 449.2h0M712.2 450.9h0M712.2 447.9h0M712.3 447.2h0M712.4 448.9h0M712.4 447.8h0M712.5 449.2h0M712.5 448.5h0M712.6 450.2h0M712.7 449.1h0M712.7 447.6h0M712.8 448.0h0M712.8 448.3h0M712.9 449.7h0M713.0 447.3h0M713.0 447.8h0M713.1 446.2h0M713.1 446.9h0M713.2 445.2h0M713.3 445.7h0M713.3 448.0h0M713.4 445.6h0M713.4 445.5h0M713.5 446.1h0M713.6 444.5h0M713.6 444.4h0M713.7 445.9h0M713.7 446.2h0M713.8 443.9h0M713.9 445.6h0M713.9 445.0h0M714.0 447.5h0M714.0 446.3h0M714.1 445.5h0M714.2 445.6h0M714.2 445.4h0M714.3 444.5h0M714.3 443.9h0M714.4 446.1h0M714.5 443.4h0M714.5 442.0h0M714.6 443.4h0M714.6 441.8h0M714.7 442.7h0M714.8 445.1h0M714.8 445.7h0M714.9 442.7h0M714.9 442.5h0M715.0 442.9h0M715.1 442.2h0M715.1 442.5h0M715.2 440.7h0M715.2 442.0h0M715.3 439.9h0M715.4 441.5h0M715.4 442.4h0M715.5 440.1h0M715.5 440.8h0M715.6 441.7h0M715.7 442.5h0M715.7 442.0h0M715.8 440.7h0M715.8 440.1h0M715.9 440.1h0M716.0 442.1h0M716.0 442.1h0M716.1 440.7h0M716.1 440.3h0M716.2 442.2h0M716.3 438.1h0M716.3 439.1h0M716.4 438.3h0M716.4 438.9h0M716.5 439.7h0M716.6 439.4h0M716.6 440.6h0M716.7 440.2h0M716.7 439.4h0M716.8 438.1h0M716.9 438.7h0M716.9 440.5h0M717.0 438.7h0M717.0 439.2h0M717.1 437.3h0M717.2 439.1h0M717.2 437.7h0M717.3 437.5h0M717.3 438.1h0M717.4 436.9h0M717.5 436.4h0M717.5 437.5h0M717.6 437.9h0M717.6 436.4h0M717.7 438.0h0M717.8 438.6h0M717.8 436.5h0M717.9 436.2h0M717.9 435.7h0M718.0 434.6h0M718.1 435.9h0M718.1 436.6h0M718.2 436.5h0M718.2 433.7h0M718.3 434.6h0M718.4 434.7h0M718.4 436.8h0M718.5 435.6h0M718.5 436.4h0M718.6 434.4h0M718.7 435.5h0M718.7 435.6h0M718.8 433.9h0M718.8 434.7h0M718.9 434.7h0M719.0 434.5h0M719.0 432.7h0M719.1 433.9h0M719.1 433.8h0M719.2 432.5h0M719.3 433.7h0M719.3 432.5h0M719.4 432.7h0M719.4 433.4h0M719.5 433.0h0M719.6 432.4h0M719.6 433.1h0M719.7 432.7h0M719.7 431.4h0M719.8 432.8h0M719.9 432.9h0M719.9 432.9h0M720.0 433.0h0M720.0 432.5h0M720.1 430.7h0M720.2 431.8h0M720.2 431.6h0M720.3 432.0h0M720.3 429.9h0M720.4 432.2h0M720.5 431.0h0M720.5 432.1h0M720.6 431.1h0M720.6 431.9h0M720.7 431.0h0M720.8 431.6h0M720.8 430.7h0M720.9 430.8h0M720.9 429.8h0M721.0 431.6h0M721.1 432.6h0M721.1 430.9h0M721.2 430.1h0M721.2 429.5h0M721.3 431.2h0M721.4 429.0h0M721.4 430.6h0M721.5 429.7h0M721.5 429.5h0M721.6 430.2h0M721.7 427.8h0M721.7 429.2h0M721.8 430.4h0M721.8 428.9h0M721.9 430.7h0M722.0 428.0h0M722.0 429.5h0M722.1 427.9h0M722.1 428.0h0M722.2 429.1h0M722.3 429.5h0M722.3 428.1h0M722.4 428.2h0M722.4 428.8h0M722.5 427.3h0M722.6 428.9h0M722.6 428.5h0M722.7 427.9h0M722.7 428.6h0M722.8 428.0h0M722.9 427.4h0M722.9 427.8h0M723.0 426.8h0M723.0 427.4h0M723.1 428.2h0M723.2 426.5h0M723.2 427.6h0M723.3 427.1h0M723.3 427.8h0M723.4 427.6h0M723.5 425.3h0M723.5 425.3h0M723.6 428.9h0M723.6 426.0h0M723.7 425.7h0M723.8 426.7h0M723.8 426.5h0M723.9 425.5h0M723.9 427.1h0M724.0 426.8h0M724.1 426.5h0M724.1 425.0h0M724.2 425.2h0M724.2 425.0h0M724.3 426.4h0M724.4 425.6h0M724.4 425.6h0M724.5 425.7h0M724.5 423.3h0M724.6 423.9h0M724.7 425.7h0M724.7 424.1h0M724.8 424.2h0M724.8 424.1h0M724.9 423.8h0M725.0 425.1h0M725.0 425.0h0M725.1 424.2h0M725.1 425.0h0M725.2 423.5h0M725.3 425.2h0M725.3 425.3h0M725.4 424.2h0M725.4 423.6h0M725.5 422.6h0M725.6 423.7h0M725.6 424.5h0M725.7 423.9h0M725.7 423.6h0M725.8 424.4h0M725.9 424.0h0M725.9 424.3h0M726.0 422.7h0M726.0 424.7h0M726.1 422.2h0M726.2 423.2h0M726.2 423.8h0M726.3 423.4h0M726.3 422.4h0M726.4 422.7h0M726.5 422.5h0M726.5 422.6h0M726.6 422.5h0M726.6 422.4h0M726.7 423.0h0M726.8 421.8h0M726.8 422.0h0M726.9 423.3h0M726.9 421.8h0M727.0 422.1h0M727.1 422.6h0M727.1 421.6h0M727.2 421.8h0M727.2 421.3h0M727.3 422.1h0M727.4 420.1h0M727.4 421.0h0M727.5 421.0h0M727.5 421.4h0M727.6 420.0h0M727.7 419.5h0M727.7 420.7h0M727.8 420.4h0M727.8 420.2h0M727.9 420.8h0M728.0 421.7h0M728.0 420.2h0M728.1 419.5h0M728.1 419.9h0M728.2 419.8h0M728.3 419.3h0M728.3 419.8h0M728.4 418.3h0M728.4 420.5h0M728.5 419.9h0M728.6 420.0h0M728.6 419.2h0M728.7 418.6h0M728.7 419.7h0M728.8 418.7h0M728.9 418.2h0M728.9 419.2h0M729.0 418.9h0M729.0 419.3h0M729.1 419.1h0M729.2 417.5h0M729.2 418.8h0M729.3 418.8h0M729.3 419.6h0M729.4 420.1h0M729.5 419.3h0M729.5 417.6h0M729.6 418.6h0M729.6 419.9h0M729.7 418.8h0M729.8 418.2h0M729.8 417.2h0M729.9 418.5h0M729.9 418.7h0M730.0 416.8h0M730.1 417.5h0M730.1 417.7h0M730.2 416.9h0M730.2 418.3h0M730.3 417.6h0M730.4 417.0h0M730.4 417.3h0M730.5 417.3h0M730.5 417.2h0M730.6 417.1h0M730.7 418.0h0M730.7 417.5h0M730.8 417.5h0M730.8 417.7h0M730.9 417.2h0M731.0 416.9h0M731.0 416.2h0M731.1 416.2h0M731.1 416.0h0M731.2 415.5h0M731.3 415.8h0M731.3 415.8h0M731.4 416.0h0M731.4 415.8h0M731.5 416.1h0M731.6 416.3h0M731.6 415.2h0M731.7 416.5h0M731.7 416.6h0M731.8 416.4h0M731.9 416.0h0M731.9 416.0h0M732.0 414.5h0M732.0 415.8h0M732.1 414.7h0M732.2 415.6h0M732.2 415.1h0M732.3 415.9h0M732.3 416.3h0M732.4 414.4h0M732.5 414.3h0M732.5 415.0h0M732.6 414.3h0M732.6 414.5h0M732.7 414.0h0M732.8 414.5h0M732.8 415.0h0M732.9 414.1h0M732.9 414.1h0M733.0 414.4h0M733.1 414.7h0M733.1 414.8h0M733.2 414.7h0M733.2 414.1h0M733.3 414.4h0M733.4 414.2h0M733.4 413.7h0M733.5 414.1h0M733.5 414.3h0M733.6 413.5h0M733.7 413.0h0M733.7 414.2h0M733.8 413.8h0M733.8 413.8h0M733.9 411.9h0M734.0 414.0h0M734.0 412.6h0M734.1 413.3h0M734.1 411.7h0M734.2 412.6h0M734.3 412.4h0M734.3 412.6h0M734.4 411.7h0M734.4 412.2h0M734.5 412.9h0M734.6 412.6h0M734.6 413.3h0M734.7 412.0h0M734.7 411.7h0M734.8 411.4h0M734.9 411.7h0M734.9 412.0h0M735.0 411.5h0M735.0 411.9h0M735.1 411.2h0M735.2 411.2h0M735.2 411.9h0M735.3 411.2h0M735.3 411.4h0M735.4 411.4h0M735.5 411.7h0M735.5 410.9h0M735.6 411.1h0M735.6 411.1h0M735.7 411.1h0M735.8 411.5h0M735.8 410.4h0M735.9 410.4h0M735.9 411.1h0M736.0 410.7h0M736.1 411.4h0M736.1 410.5h0M736.2 410.3h0M736.2 410.8h0M736.3 411.3h0M736.4 410.8h0M736.4 410.8h0M736.5 410.5h0M736.5 409.9h0M736.6 410.2h0M736.7 409.7h0M736.7 410.6h0M736.8 410.6h0M736.8 410.5h0M736.9 409.5h0M737.0 410.3h0M737.0 410.4h0M737.1 409.0h0M737.1 411.2h0M737.2 410.4h0M737.3 409.9h0M737.3 409.4h0M737.4 409.4h0M737.4 409.4h0M737.5 409.5h0M737.6 408.2h0M737.6 410.0h0M737.7 409.7h0M737.7 409.3h0M737.8 409.1h0M737.9 409.8h0M737.9 409.6h0M738.0 408.9h0M738.0 409.6h0M738.1 409.8h0M738.2 408.2h0M738.2 410.0h0M738.3 409.1h0M738.3 408.6h0M738.4 408.2h0M738.5 408.2h0M738.5 408.7h0M738.6 407.8h0M738.6 408.7h0M738.7 408.7h0M738.8 407.8h0M738.8 408.2h0M738.9 408.3h0M738.9 408.2h0M739.0 408.0h0M739.1 408.4h0M739.1 408.5h0M739.2 409.1h0M739.2 408.0h0M739.3 407.8h0M739.4 408.0h0M739.4 408.5h0M739.5 407.5h0M739.5 408.1h0M739.6 407.8h0M739.7 407.2h0M739.7 407.7h0M739.8 407.3h0M739.8 407.3h0M739.9 407.4h0M740.0 408.1h0M740.0 407.0h0M740.1 407.5h0M740.1 407.4h0M740.2 407.1h0M740.3 406.8h0M740.3 407.4h0M740.4 406.9h0M740.4 406.5h0M740.5 406.5h0M740.6 406.9h0M740.6 406.4h0M740.7 406.5h0M740.7 406.7h0M740.8 405.7h0M740.9 407.0h0M740.9 406.2h0M741.0 407.1h0M741.0 406.8h0M741.1 406.5h0M741.2 406.4h0M741.2 406.5h0M741.3 406.9h0M741.3 406.3h0M741.4 405.9h0M741.5 406.0h0M741.5 406.3h0M741.6 406.0h0M741.6 406.9h0M741.7 406.4h0M741.8 405.8h0M741.8 405.5h0M741.9 405.0h0M741.9 406.8h0M742.0 405.3h0M742.1 405.7h0M742.1 405.4h0M742.2 405.0h0M742.2 405.1h0M742.3 405.7h0M742.4 405.7h0M742.4 406.5h0M742.5 404.7h0M742.5 405.0h0M742.6 405.3h0M742.7 405.7h0M742.7 405.6h0M742.8 405.2h0M742.8 405.1h0M742.9 406.3h0M743.0 405.4h0M743.0 405.5h0M743.1 404.8h0M743.1 405.0h0M743.2 405.0h0M743.3 404.6h0M743.3 405.1h0M743.4 406.4h0M743.4 404.7h0M743.5 404.7h0M743.6 404.8h0M743.6 404.7h0M743.7 405.2h0M743.7 405.3h0M743.8 405.2h0M743.9 405.2h0M743.9 405.0h0M744.0 405.0h0M744.0 404.1h0M744.1 404.5h0M744.2 404.8h0M744.2 404.4h0M744.3 404.1h0M744.3 404.7h0M744.4 404.8h0M744.5 404.6h0M744.5 404.2h0M744.6 404.3h0M744.6 404.8h0M744.7 404.1h0M744.8 404.3h0M744.8 404.9h0M744.9 405.4h0M744.9 404.5h0M745.0 404.1h0M745.1 404.2h0M745.1 404.1h0M745.2 404.4h0M745.2 404.2h0M745.3 404.4h0M745.4 403.9h0M745.4 403.9h0M745.5 404.3h0M745.5 404.2h0M745.6 404.0h0M745.7 404.5h0M745.7 404.8h0M745.8 404.0h0M745.8 404.2h0M745.9 403.5h0M746.0 403.7h0M746.0 404.1h0M746.1 404.0h0M746.1 404.0h0M746.2 404.0h0M746.3 403.7h0M746.3 403.4h0M746.4 403.3h0M746.4 403.6h0M746.5 404.4h0M746.6 403.9h0M746.6 404.0h0M746.7 404.3h0M746.7 403.9h0M746.8 403.1h0M746.9 403.2h0M746.9 402.8h0M747.0 403.2h0M747.0 403.4h0M747.1 403.7h0M747.2 404.0h0M747.2 403.2h0M747.3 403.4h0M747.3 403.3h0M747.4 403.2h0M747.5 403.6h0M747.5 403.3h0M747.6 403.5h0M747.6 403.0h0M747.7 403.0h0M747.8 403.6h0M747.8 403.1h0M747.9 403.1h0M747.9 403.2h0M748.0 402.0h0M748.1 403.4h0M748.1 402.8h0M748.2 402.7h0M748.2 402.7h0M748.3 402.6h0M748.4 403.3h0M748.4 402.6h0M748.5 403.1h0M748.5 403.0h0M748.6 403.0h0M748.7 402.9h0M748.7 402.6h0M748.8 402.3h0M748.8 403.5h0M748.9 402.5h0M749.0 402.9h0M749.0 401.9h0M749.1 402.1h0M749.1 401.8h0M749.2 402.3h0M749.3 402.7h0M749.3 402.4h0M749.4 403.4h0M749.4 402.1h0M749.5 402.5h0M749.6 402.9h0M749.6 402.3h0M749.7 403.0h0M749.7 402.6h0M749.8 401.7h0M749.9 402.1h0M749.9 401.8h0M750.0 403.4h0M750.0 402.0h0M750.1 402.5h0M750.2 402.0h0M750.2 401.5h0M750.3 401.8h0M750.3 402.0h0M750.4 402.5h0M750.5 401.6h0M750.5 401.1h0M750.6 402.3h0M750.6 402.0h0M750.7 401.8h0M750.8 401.9h0M750.8 401.8h0M750.9 401.6h0M750.9 401.7h0M751.0 401.1h0M751.1 402.2h0M751.1 401.9h0M751.2 402.1h0M751.2 402.2h0M751.3 401.5h0M751.4 401.3h0M751.4 401.2h0M751.5 400.9h0M751.5 401.3h0M751.6 401.9h0M751.7 401.3h0M751.7 400.9h0M751.8 400.1h0M751.8 401.2h0M751.9 401.3h0M752.0 400.3h0M752.0 401.7h0M752.1 401.7h0M752.1 400.9h0M752.2 400.7h0M752.3 400.8h0M752.3 401.3h0M752.4 401.4h0M752.4 401.0h0M752.5 400.7h0M752.6 400.8h0M752.6 402.2h0M752.7 402.1h0M752.7 401.1h0M752.8 401.8h0M752.9 401.1h0M752.9 401.7h0M753.0 401.5h0M753.0 401.1h0M753.1 401.6h0M753.2 401.7h0M753.2 401.3h0M753.3 401.2h0M753.3 401.6h0M753.4 401.0h0M753.5 401.8h0M753.5 400.6h0M753.6 401.1h0M753.6 401.4h0M753.7 401.2h0M753.8 400.4h0M753.8 400.9h0M753.9 400.8h0M753.9 401.4h0M754.0 400.6h0M754.1 400.8h0M754.1 401.4h0M754.2 400.7h0M754.2 401.8h0M754.3 400.5h0M754.4 401.3h0M754.4 401.7h0M754.5 400.5h0M754.5 401.3h0M754.6 400.2h0M754.7 400.8h0M754.7 401.1h0M754.8 400.4h0M754.8 400.9h0M754.9 401.0h0M755.0 400.9h0M755.0 401.7h0M755.1 401.2h0M755.1 401.0h0M755.2 401.1h0M755.3 400.6h0M755.3 401.1h0M755.4 401.3h0M755.4 400.8h0M755.5 401.2h0M755.6 400.6h0M755.6 401.1h0M755.7 401.3h0M755.7 400.5h0M755.8 401.1h0M755.9 401.9h0M755.9 401.8h0M756.0 401.7h0M756.0 400.9h0M756.1 400.9h0M756.2 400.6h0M756.2 401.6h0M756.3 400.7h0M756.3 400.6h0M756.4 400.7h0M756.5 401.5h0M756.5 401.2h0M756.6 400.7h0M756.6 401.2h0M756.7 401.4h0M756.8 400.7h0M756.8 400.7h0M756.9 400.8h0M756.9 400.5h0M757.0 400.2h0M757.1 401.2h0M757.1 401.2h0M757.2 400.6h0M757.2 401.0h0M757.3 400.2h0M757.4 401.1h0M757.4 400.5h0M757.5 401.6h0M757.5 400.9h0M757.6 400.8h0M757.7 401.3h0M757.7 400.5h0M757.8 401.4h0M757.8 400.8h0M757.9 400.9h0M758.0 401.9h0M758.0 400.7h0M758.1 401.4h0M758.1 401.5h0M758.2 401.2h0M758.3 401.3h0M758.3 401.1h0M758.4 400.7h0M758.4 401.0h0M758.5 401.2h0M758.6 400.5h0M758.6 400.1h0M758.7 400.9h0M758.7 401.2h0M758.8 401.2h0M758.9 400.3h0M758.9 400.4h0M759.0 400.5h0M759.0 400.9h0M759.1 400.9h0M759.2 400.5h0M759.2 401.1h0M759.3 400.7h0M759.3 400.7h0M759.4 401.2h0M759.5 400.7h0M759.5 400.5h0M759.6 400.5h0M759.6 400.8h0M759.7 400.8h0M759.8 401.1h0M759.8 400.8h0M759.9 401.1h0M759.9 400.9h0M760.0 399.8h0M760.1 400.9h0M760.1 401.1h0M760.2 400.6h0M760.2 400.7h0M760.3 400.3h0M760.4 400.3h0M760.4 400.4h0M760.5 401.1h0M760.5 400.3h0M760.6 400.3h0M760.7 400.8h0M760.7 400.9h0M760.8 401.0h0M760.8 400.4h0M760.9 400.6h0M761.0 400.8h0M761.0 400.7h0M761.1 400.4h0M761.1 400.8h0M761.2 400.6h0M761.3 401.3h0M761.3 400.9h0M761.4 401.1h0M761.4 400.4h0M761.5 400.7h0M761.6 400.7h0M761.6 400.7h0M761.7 401.0h0M761.7 401.2h0M761.8 401.2h0M761.9 401.0h0M761.9 400.0h0M762.0 400.4h0M762.0 400.6h0M762.1 401.3h0M762.2 400.9h0M762.2 400.9h0M762.3 401.6h0M762.3 400.7h0M762.4 401.2h0M762.5 400.4h0M762.5 400.5h0M762.6 400.7h0M762.6 401.4h0M762.7 401.5h0M762.8 401.5h0M762.8 401.3h0M762.9 401.4h0M762.9 400.2h0M763.0 400.4h0M763.1 400.9h0M763.1 401.3h0M763.2 401.2h0M763.2 400.7h0M763.3 401.1h0M763.4 401.1h0M763.4 400.7h0M763.5 400.6h0M763.5 401.2h0M763.6 401.0h0M763.7 400.8h0M763.7 401.1h0M763.8 401.4h0M763.8 400.9h0M763.9 401.1h0M764.0 401.6h0M764.0 400.9h0M764.1 401.6h0M764.1 401.2h0M764.2 401.7h0M764.3 401.3h0M764.3 401.1h0M764.4 401.5h0M764.4 400.7h0M764.5 400.7h0M764.6 401.4h0M764.6 402.0h0M764.7 400.8h0M764.7 401.5h0M764.8 401.2h0M764.9 401.9h0M764.9 401.6h0M765.0 401.8h0M765.0 402.1h0M765.1 401.7h0M765.2 401.7h0M765.2 401.4h0M765.3 401.9h0M765.3 402.0h0M765.4 401.8h0M765.5 401.4h0M765.5 401.0h0M765.6 401.6h0M765.6 401.6h0M765.7 401.9h0M765.8 401.1h0M765.8 401.1h0M765.9 401.5h0M765.9 401.6h0M766.0 401.6h0M766.1 402.1h0M766.1 401.7h0M766.2 401.9h0M766.2 402.1h0M766.3 401.7h0M766.4 401.8h0M766.4 402.1h0M766.5 401.9h0M766.5 402.2h0M766.6 402.2h0M766.7 401.3h0M766.7 402.7h0M766.8 403.0h0M766.8 402.8h0M766.9 401.4h0M767.0 402.7h0M767.0 401.9h0M767.1 402.1h0M767.1 402.0h0M767.2 402.3h0M767.3 402.2h0M767.3 402.0h0M767.4 402.4h0M767.4 401.9h0M767.5 402.7h0M767.6 401.9h0M767.6 402.0h0M767.7 401.6h0M767.7 401.8h0M767.8 401.9h0M767.9 402.6h0M767.9 402.0h0M768.0 402.2h0M768.0 402.9h0M768.1 403.0h0M768.2 402.5h0M768.2 402.2h0M768.3 401.7h0M768.3 402.3h0M768.4 402.8h0M768.5 402.3h0M768.5 403.1h0M768.6 402.6h0M768.6 402.3h0M768.7 402.6h0M768.8 402.5h0M768.8 402.1h0M768.9 401.8h0M768.9 403.0h0M769.0 402.6h0M769.1 403.1h0M769.1 402.6h0M769.2 402.6h0M769.2 402.1h0M769.3 402.7h0M769.4 402.5h0M769.4 402.3h0M769.5 402.7h0M769.5 402.5h0M769.6 402.2h0M769.7 402.9h0M769.7 402.6h0M769.8 402.8h0M769.8 401.9h0M769.9 402.6h0M770.0 402.7h0M770.0 402.4h0M770.1 401.6h0M770.1 402.9h0M770.2 402.8h0M770.3 403.1h0M770.3 402.1h0M770.4 402.4h0M770.4 402.2h0M770.5 402.4h0M770.6 402.8h0M770.6 403.2h0M770.7 402.5h0M770.7 402.8h0M770.8 402.4h0M770.9 402.5h0M770.9 403.0h0M771.0 402.8h0M771.0 403.0h0M771.1 402.8h0M771.2 402.5h0M771.2 403.0h0M771.3 403.0h0M771.3 402.8h0M771.4 403.6h0M771.5 403.1h0M771.5 403.1h0M771.6 402.2h0M771.6 403.1h0M771.7 403.3h0M771.8 402.9h0M771.8 403.0h0M771.9 403.4h0M771.9 403.1h0M772.0 403.1h0M772.1 403.2h0M772.1 403.2h0M772.2 403.6h0M772.2 403.5h0M772.3 402.6h0M772.4 402.8h0M772.4 403.4h0M772.5 403.4h0M772.5 403.7h0M772.6 402.4h0M772.7 403.3h0M772.7 402.5h0M772.8 402.8h0M772.8 403.0h0M772.9 403.2h0M773.0 402.4h0M773.0 403.3h0M773.1 403.6h0M773.1 402.5h0M773.2 404.0h0M773.3 403.4h0M773.3 403.8h0M773.4 404.0h0M773.4 403.4h0M773.5 403.5h0M773.6 403.5h0M773.6 403.9h0M773.7 403.7h0M773.7 403.4h0M773.8 403.0h0M773.9 403.5h0M773.9 403.2h0M774.0 403.2h0M774.0 403.5h0M774.1 403.1h0M774.2 404.3h0M774.2 404.1h0M774.3 403.4h0M774.3 403.0h0M774.4 403.9h0M774.5 403.8h0M774.5 403.7h0M774.6 404.9h0M774.6 403.5h0M774.7 403.6h0M774.8 404.4h0M774.8 404.3h0M774.9 403.5h0M774.9 404.1h0M775.0 403.8h0M775.1 404.4h0M775.1 404.0h0M775.2 403.8h0M775.2 404.3h0M775.3 404.5h0M775.4 404.3h0M775.4 404.5h0M775.5 403.6h0M775.5 404.2h0M775.6 404.7h0M775.7 404.5h0M775.7 405.5h0M775.8 404.8h0M775.8 405.2h0M775.9 404.1h0M776.0 404.7h0M776.0 404.3h0M776.1 405.3h0M776.1 404.8h0M776.2 404.8h0M776.3 404.3h0M776.3 405.1h0M776.4 404.9h0M776.4 405.5h0M776.5 405.4h0M776.6 404.9h0M776.6 405.0h0M776.7 405.6h0M776.7 404.5h0M776.8 404.9h0M776.9 405.9h0M776.9 406.3h0M777.0 405.4h0M777.0 406.5h0M777.1 404.9h0M777.2 405.8h0M777.2 405.4h0M777.3 405.6h0M777.3 404.9h0M777.4 406.3h0M777.5 405.4h0M777.5 405.1h0M777.6 406.3h0M777.6 405.6h0M777.7 405.7h0M777.8 406.3h0M777.8 406.2h0M777.9 406.4h0M777.9 405.7h0M778.0 405.7h0M778.1 406.2h0M778.1 406.0h0M778.2 405.9h0M778.2 406.3h0M778.3 406.4h0M778.4 406.4h0M778.4 405.3h0M778.5 406.0h0M778.5 405.7h0M778.6 406.1h0M778.7 407.3h0M778.7 405.8h0M778.8 407.0h0M778.8 406.6h0M778.9 406.3h0M779.0 406.5h0M779.0 407.3h0M779.1 406.1h0M779.1 406.3h0M779.2 406.7h0M779.3 406.7h0M779.3 406.6h0M779.4 406.9h0M779.4 406.8h0M779.5 406.9h0M779.6 406.8h0M779.6 406.4h0M779.7 406.5h0M779.7 407.5h0M779.8 406.8h0M779.9 406.7h0M779.9 406.5h0M780.0 407.2h0M780.0 406.5h0M780.1 407.9h0M780.2 408.1h0M780.2 407.3h0M780.3 407.0h0M780.3 406.5h0M780.4 408.1h0M780.5 408.3h0M780.5 407.3h0M780.6 407.5h0M780.6 407.7h0M780.7 407.0h0M780.8 407.4h0M780.8 408.0h0M780.9 408.2h0M780.9 407.7h0M781.0 408.4h0M781.1 407.3h0M781.1 407.7h0M781.2 408.5h0M781.2 407.5h0M781.3 407.5h0M781.4 407.9h0M781.4 408.5h0M781.5 408.0h0M781.5 408.1h0M781.6 408.6h0M781.7 407.3h0M781.7 407.7h0M781.8 409.4h0M781.8 407.7h0M781.9 408.0h0M782.0 408.3h0M782.0 408.0h0M782.1 408.5h0M782.1 408.1h0M782.2 408.2h0M782.3 408.9h0M782.3 408.5h0M782.4 408.7h0M782.4 408.7h0M782.5 408.7h0M782.6 408.7h0M782.6 409.9h0M782.7 408.9h0M782.7 409.4h0M782.8 409.4h0M782.9 409.0h0M782.9 409.7h0M783.0 409.3h0M783.0 409.1h0M783.1 409.7h0M783.2 409.1h0M783.2 408.5h0M783.3 408.8h0M783.3 409.2h0M783.4 409.3h0M783.5 409.3h0M783.5 409.2h0M783.6 409.3h0M783.6 409.1h0M783.7 409.5h0M783.8 409.2h0M783.8 410.0h0M783.9 409.0h0M783.9 409.5h0M784.0 410.3h0M784.1 409.6h0M784.1 409.8h0M784.2 410.0h0M784.2 409.6h0M784.3 409.4h0M784.4 409.8h0M784.4 408.8h0M784.5 410.0h0M784.5 409.8h0M784.6 410.4h0M784.7 408.9h0M784.7 408.9h0M784.8 410.0h0M784.8 409.8h0M784.9 409.9h0M785.0 410.0h0M785.0 409.7h0M785.1 410.1h0M785.1 410.3h0M785.2 411.7h0M785.3 409.7h0M785.3 410.6h0M785.4 411.1h0M785.4 410.3h0M785.5 410.3h0M785.6 410.4h0M785.6 410.7h0M785.7 410.4h0M785.7 410.8h0M785.8 410.7h0M785.9 410.6h0M785.9 410.3h0M786.0 411.0h0M786.0 409.7h0M786.1 410.8h0M786.2 411.2h0M786.2 410.6h0M786.3 410.8h0M786.3 410.5h0M786.4 411.1h0M786.5 410.4h0M786.5 410.6h0M786.6 411.6h0M786.6 411.0h0M786.7 410.9h0M786.8 410.7h0M786.8 410.3h0M786.9 411.0h0M786.9 411.8h0M787.0 411.2h0M787.1 411.6h0M787.1 410.8h0M787.2 411.0h0M787.2 412.6h0M787.3 411.5h0M787.4 412.0h0M787.4 411.2h0M787.5 411.6h0M787.5 411.4h0M787.6 411.7h0M787.7 410.7h0M787.7 412.2h0M787.8 411.7h0M787.8 412.7h0M787.9 413.7h0M788.0 413.0h0M788.0 413.2h0M788.1 412.5h0M788.1 412.5h0M788.2 412.8h0M788.3 411.9h0M788.3 412.6h0M788.4 413.3h0M788.4 412.4h0M788.5 413.4h0M788.6 411.7h0M788.6 412.5h0M788.7 413.0h0M788.7 412.6h0M788.8 412.9h0M788.9 412.8h0M788.9 413.2h0M789.0 412.5h0M789.0 411.8h0M789.1 412.3h0M789.2 413.4h0M789.2 412.5h0M789.3 413.0h0M789.3 412.9h0M789.4 413.1h0M789.5 414.0h0M789.5 414.2h0M789.6 413.6h0M789.6 413.0h0M789.7 413.8h0M789.8 414.2h0M789.8 413.6h0M789.9 413.5h0M789.9 414.8h0M790.0 413.6h0M790.1 414.8h0M790.1 414.5h0M790.2 414.0h0M790.2 414.1h0M790.3 413.9h0M790.4 414.1h0M790.4 414.0h0M790.5 413.6h0M790.5 414.6h0M790.6 414.0h0M790.7 414.1h0M790.7 415.2h0M790.8 414.5h0M790.8 414.4h0M790.9 414.2h0M791.0 414.4h0M791.0 415.3h0M791.1 414.5h0M791.1 415.9h0M791.2 414.6h0M791.3 414.5h0M791.3 415.4h0M791.4 415.1h0M791.4 415.8h0M791.5 414.6h0M791.6 416.6h0M791.6 416.0h0M791.7 414.9h0M791.7 414.8h0M791.8 416.2h0M791.9 414.5h0M791.9 415.4h0M792.0 415.9h0M792.0 416.1h0M792.1 415.8h0M792.2 416.5h0M792.2 416.2h0M792.3 415.7h0M792.3 415.5h0M792.4 416.3h0M792.5 416.0h0M792.5 416.0h0M792.6 416.2h0M792.6 416.8h0M792.7 416.1h0M792.8 416.8h0M792.8 416.5h0M792.9 415.8h0M792.9 416.5h0M793.0 417.3h0M793.1 417.7h0M793.1 416.0h0M793.2 417.2h0M793.2 415.4h0M793.3 417.1h0M793.4 416.1h0M793.4 416.3h0M793.5 417.9h0M793.5 417.3h0M793.6 417.5h0M793.7 416.8h0M793.7 416.9h0M793.8 416.3h0M793.8 417.6h0M793.9 417.3h0M794.0 416.8h0M794.0 418.1h0M794.1 417.9h0M794.1 416.9h0M794.2 417.8h0M794.3 417.8h0M794.3 418.2h0M794.4 417.8h0M794.4 417.2h0M794.5 417.8h0M794.6 419.7h0M794.6 417.4h0M794.7 417.9h0M794.7 418.4h0M794.8 418.4h0M794.9 418.1h0M794.9 418.7h0M795.0 419.5h0M795.0 417.4h0M795.1 420.0h0M795.2 418.0h0M795.2 419.1h0M795.3 419.1h0M795.3 418.2h0M795.4 418.8h0M795.5 419.3h0M795.5 419.2h0M795.6 419.0h0M795.6 417.0h0M795.7 418.6h0M795.8 418.7h0M795.8 418.6h0M795.9 419.8h0M795.9 419.6h0M796.0 419.0h0M796.1 418.7h0M796.1 418.8h0M796.2 420.9h0M796.2 419.0h0M796.3 419.4h0M796.4 419.2h0M796.4 418.8h0M796.5 419.3h0M796.5 419.1h0M796.6 421.3h0M796.7 421.6h0M796.7 420.1h0M796.8 420.1h0M796.8 419.4h0M796.9 420.1h0M797.0 420.8h0M797.0 420.1h0M797.1 421.3h0M797.1 420.1h0M797.2 421.5h0M797.3 419.5h0M797.3 420.6h0M797.4 420.8h0M797.4 420.9h0M797.5 421.6h0M797.6 420.2h0M797.6 421.4h0M797.7 420.8h0M797.7 419.4h0M797.8 419.9h0M797.9 419.9h0M797.9 420.9h0M798.0 420.5h0M798.0 421.6h0M798.1 421.0h0M798.2 421.4h0M798.2 421.3h0M798.3 421.6h0M798.3 420.8h0M798.4 422.3h0M798.5 423.0h0M798.5 420.1h0M798.6 421.2h0M798.6 422.0h0M798.7 421.7h0M798.8 422.2h0M798.8 422.8h0M798.9 421.7h0M798.9 421.6h0M799.0 422.1h0M799.1 422.2h0M799.1 422.0h0M799.2 423.0h0M799.2 423.0h0M799.3 421.9h0M799.4 421.5h0M799.4 422.7h0M799.5 422.4h0M799.5 422.6h0M799.6 422.3h0M799.7 421.9h0M799.7 422.9h0M799.8 423.5h0M799.8 422.3h0M799.9 423.6h0M800.0 423.3h0M800.0 423.4h0M800.1 423.6h0M800.1 423.6h0M800.2 422.8h0M800.3 423.9h0M800.3 422.5h0M800.4 424.1h0M800.4 423.3h0M800.5 422.6h0M800.6 423.8h0M800.6 422.9h0M800.7 422.4h0M800.7 422.8h0M800.8 423.3h0M800.9 424.7h0M800.9 423.1h0M801.0 424.5h0M801.0 423.5h0M801.1 423.6h0M801.2 422.9h0M801.2 424.2h0M801.3 425.2h0M801.3 423.7h0M801.4 423.0h0M801.5 424.3h0M801.5 423.4h0M801.6 424.5h0M801.6 424.4h0M801.7 425.4h0M801.8 425.9h0M801.8 424.1h0M801.9 424.8h0M801.9 424.7h0M802.0 425.8h0M802.1 425.9h0M802.1 425.8h0M802.2 425.0h0M802.2 425.0h0M802.3 425.3h0M802.4 424.9h0M802.4 425.8h0M802.5 424.9h0M802.5 426.4h0M802.6 428.2h0M802.7 425.5h0M802.7 425.8h0M802.8 425.5h0M802.8 427.3h0M802.9 426.1h0M803.0 426.1h0M803.0 427.5h0M803.1 428.5h0M803.1 426.1h0M803.2 426.4h0M803.3 426.5h0M803.3 425.7h0M803.4 427.5h0M803.4 426.5h0M803.5 426.9h0M803.6 426.4h0M803.6 426.2h0M803.7 427.2h0M803.7 425.5h0M803.8 427.0h0M803.9 427.2h0M803.9 428.8h0M804.0 427.8h0M804.0 427.5h0M804.1 427.7h0M804.2 427.8h0M804.2 427.8h0M804.3 427.7h0M804.3 428.9h0M804.4 427.1h0M804.5 427.8h0M804.5 429.9h0M804.6 427.1h0M804.6 429.7h0M804.7 428.6h0M804.8 427.9h0M804.8 428.1h0M804.9 429.0h0M804.9 430.1h0M805.0 428.0h0M805.1 428.8h0M805.1 429.0h0M805.2 430.1h0M805.2 429.7h0M805.3 429.8h0M805.4 427.9h0M805.4 428.5h0M805.5 430.3h0M805.5 429.8h0M805.6 429.3h0M805.7 430.1h0M805.7 429.8h0M805.8 429.6h0M805.8 429.0h0M805.9 430.0h0M806.0 431.1h0M806.0 430.2h0M806.1 431.0h0M806.1 431.8h0M806.2 431.2h0M806.3 430.3h0M806.3 429.9h0M806.4 430.5h0M806.4 431.1h0M806.5 430.7h0M806.6 430.8h0M806.6 429.4h0M806.7 430.6h0M806.7 432.7h0M806.8 431.2h0M806.9 432.7h0M806.9 430.2h0M807.0 432.1h0M807.0 429.9h0M807.1 431.1h0M807.2 430.1h0M807.2 431.1h0M807.3 430.5h0M807.3 431.8h0M807.4 431.0h0M807.5 432.7h0M807.5 432.9h0M807.6 434.1h0M807.6 434.7h0M807.7 433.1h0M807.8 432.7h0M807.8 433.6h0M807.9 432.0h0M807.9 431.9h0M808.0 433.9h0M808.1 435.5h0M808.1 434.4h0M808.2 433.8h0M808.2 432.4h0M808.3 433.2h0M808.4 432.0h0M808.4 433.1h0M808.5 432.7h0M808.5 434.9h0M808.6 432.1h0M808.7 434.4h0M808.7 433.0h0M808.8 435.4h0M808.8 434.3h0M808.9 433.1h0M809.0 434.4h0M809.0 436.3h0M809.1 435.3h0M809.1 435.0h0M809.2 434.9h0M809.3 436.1h0M809.3 436.2h0M809.4 433.3h0M809.4 435.4h0M809.5 435.1h0M809.6 433.8h0M809.6 434.4h0M809.7 434.2h0M809.7 436.4h0M809.8 435.4h0M809.9 433.9h0M809.9 436.2h0M810.0 435.5h0M810.0 433.2h0M810.1 436.6h0M810.2 435.6h0M810.2 435.8h0M810.3 436.0h0M810.3 436.0h0M810.4 435.4h0M810.5 435.6h0M810.5 436.3h0M810.6 434.7h0M810.6 436.2h0M810.7 437.3h0M810.8 437.9h0M810.8 438.1h0M810.9 437.4h0M810.9 436.5h0M811.0 438.3h0M811.1 435.8h0M811.1 437.4h0M811.2 437.5h0M811.2 437.8h0M811.3 437.3h0M811.4 437.3h0M811.4 436.8h0M811.5 438.1h0M811.5 436.8h0M811.6 438.6h0M811.7 437.9h0M811.7 436.7h0M811.8 438.6h0M811.8 436.9h0M811.9 437.5h0M812.0 436.6h0M812.0 438.1h0M812.1 439.0h0M812.1 438.3h0M812.2 437.4h0M812.3 439.4h0M812.3 438.1h0M812.4 438.1h0M812.4 437.8h0M812.5 440.1h0M812.6 438.1h0M812.6 439.1h0M812.7 437.8h0M812.7 438.2h0M812.8 438.5h0M812.9 438.9h0M812.9 439.2h0M813.0 438.9h0M813.0 437.9h0M813.1 438.6h0M813.2 437.5h0M813.2 441.5h0M813.3 440.1h0M813.3 439.9h0M813.4 439.8h0M813.5 438.1h0M813.5 439.6h0M813.6 441.2h0M813.6 442.3h0M813.7 441.4h0M813.8 441.7h0M813.8 441.5h0M813.9 439.6h0M813.9 442.2h0M814.0 441.1h0M814.1 440.0h0M814.1 439.2h0M814.2 440.4h0M814.2 441.4h0M814.3 440.3h0M814.4 439.6h0M814.4 441.9h0M814.5 440.2h0M814.5 441.5h0M814.6 442.2h0M814.7 441.9h0M814.7 442.0h0M814.8 441.8h0M814.8 443.5h0M814.9 440.2h0M815.0 441.0h0M815.0 441.4h0M815.1 441.3h0M815.1 441.5h0M815.2 441.7h0M815.3 445.2h0M815.3 441.7h0M815.4 443.7h0M815.4 442.8h0M815.5 445.1h0M815.6 443.4h0M815.6 442.2h0M815.7 443.4h0M815.7 442.8h0M815.8 442.9h0M815.9 445.2h0M815.9 444.0h0M816.0 444.6h0M816.0 445.4h0M816.1 444.2h0M816.2 444.7h0M816.2 443.6h0M816.3 445.8h0M816.3 444.5h0M816.4 444.8h0M816.5 444.1h0M816.5 445.7h0M816.6 446.7h0M816.6 446.0h0M816.7 444.1h0M816.8 444.9h0M816.8 444.3h0M816.9 444.1h0M816.9 444.4h0M817.0 444.6h0M817.1 446.1h0M817.1 445.3h0M817.2 447.0h0M817.2 445.6h0M817.3 445.4h0M817.4 447.9h0M817.4 446.5h0M817.5 445.1h0M817.5 449.4h0M817.6 446.3h0M817.7 447.9h0M817.7 445.1h0M817.8 447.5h0M817.8 445.4h0M817.9 445.0h0M818.0 446.4h0M818.0 450.9h0M818.1 447.2h0M818.1 447.8h0M818.2 451.3h0M818.3 450.0h0M818.3 448.7h0M818.4 446.4h0M818.4 447.4h0M818.5 450.6h0M818.6 447.7h0M818.6 448.3h0M818.7 447.6h0M818.7 449.2h0M818.8 446.7h0M818.9 452.2h0M818.9 449.4h0M819.0 449.3h0M819.0 450.5h0M819.1 448.7h0M819.2 450.1h0M819.2 447.9h0M819.3 449.9h0M819.3 450.2h0M819.4 450.6h0M819.5 450.3h0M819.5 448.9h0M819.6 450.3h0M819.6 450.4h0M819.7 451.9h0M819.8 450.3h0M819.8 451.6h0M819.9 455.2h0M819.9 451.8h0M820.0 448.5h0M820.1 451.4h0M820.1 451.2h0M820.2 449.0h0M820.2 451.2h0M820.3 448.6h0M820.4 453.7h0M820.4 451.9h0M820.5 450.6h0M820.5 453.7h0M820.6 451.4h0M820.7 451.6h0M820.7 453.7h0M820.8 451.2h0M820.8 452.3h0M820.9 453.7h0M821.0 452.4h0M821.0 454.2h0M821.1 454.9h0M821.1 452.5h0M821.2 452.4h0M821.3 453.7h0M821.3 453.9h0M821.4 452.5h0M821.4 451.8h0M821.5 452.2h0M821.6 453.4h0M821.6 454.4h0M821.7 453.8h0M821.7 458.3h0M821.8 454.4h0M821.9 454.8h0M821.9 452.3h0M822.0 455.2h0M822.0 454.5h0M822.1 452.3h0M822.2 455.0h0M822.2 455.2h0M822.3 458.1h0M822.3 456.5h0M822.4 452.2h0M822.5 457.9h0M822.5 454.8h0M822.6 456.5h0M822.6 455.9h0M822.7 455.8h0M822.8 455.5h0M822.8 453.2h0M822.9 455.2h0M822.9 455.3h0M823.0 459.0h0M823.1 455.9h0M823.1 457.0h0M823.2 457.6h0M823.2 457.9h0M823.3 460.8h0M823.4 457.8h0M823.4 457.0h0M823.5 459.1h0M823.5 457.1h0M823.6 456.7h0M823.7 459.9h0M823.7 456.8h0M823.8 458.8h0M823.8 458.4h0M823.9 458.3h0M824.0 457.1h0M824.0 460.0h0M824.1 458.3h0M824.1 459.3h0M824.2 462.8h0M824.3 458.3h0M824.3 458.4h0M824.4 455.0h0M824.4 460.0h0M824.5 460.4h0M824.6 461.4h0M824.6 459.1h0M824.7 463.2h0M824.7 461.0h0M824.8 459.0h0M824.9 459.5h0M824.9 460.6h0M825.0 458.8h0M825.0 457.9h0M825.1 460.0h0M825.2 462.4h0M825.2 456.8h0M825.3 462.8h0M825.3 457.6h0M825.4 461.6h0M825.5 461.8h0M825.5 459.9h0M825.6 463.0h0M825.6 458.4h0M825.7 461.0h0M825.8 461.6h0M825.8 461.4h0M825.9 459.0h0M825.9 465.6h0M826.0 460.8h0M826.1 463.2h0M826.1 461.4h0M826.2 462.6h0M826.2 463.5h0M826.3 460.0h0M826.4 462.2h0M826.4 461.6h0M826.5 465.6h0M826.5 460.4h0M826.6 462.6h0M826.7 464.8h0M826.7 468.2h0M826.8 462.0h0M826.8 461.2h0M826.9 459.5h0M827.0 463.5h0M827.0 463.9h0M827.1 465.6h0M827.1 467.6h0M827.2 463.9h0M827.3 467.1h0M827.3 466.8h0M827.4 465.3h0M827.4 465.8h0M827.5 467.9h0M827.6 464.6h0M827.6 462.4h0M827.7 468.2h0M827.7 462.4h0M827.8 463.9h0M827.9 466.3h0M827.9 468.5h0M828.0 463.7h0M828.0 468.5h0M828.1 464.6h0M828.2 467.4h0M828.2 467.1h0M828.3 468.2h0M828.3 466.8h0M828.4 467.9h0M828.5 465.3h0M828.5 466.8h0M828.6 467.9h0M828.6 466.1h0M828.7 471.9h0M828.8 467.1h0M828.8 470.3h0M828.9 468.5h0M828.9 467.1h0M829.0 462.4h0M829.1 468.8h0M829.1 470.6h0M829.2 466.8h0M829.2 470.3h0M829.3 472.6h0M829.4 469.7h0M829.4 467.1h0M829.5 469.7h0M829.5 470.6h0M829.6 464.4h0M829.7 470.6h0M829.7 473.0h0M829.8 468.5h0M829.8 468.8h0M829.9 473.4h0M830.0 472.3h0M830.0 472.3h0M830.1 472.6h0M830.1 471.6h0M830.2 476.2h0M830.3 467.6h0M830.3 472.6h0M830.4 470.6h0M830.4 469.7h0M830.5 476.2h0M830.6 472.3h0M830.6 477.1h0M830.7 470.6h0M830.7 468.5h0M830.8 477.1h0M830.9 469.7h0M830.9 473.4h0M831.0 471.6h0M831.0 469.4h0M831.1 473.0h0M831.2 475.3h0M831.2 471.6h0M831.3 469.7h0M831.3 472.6h0M831.4 474.5h0M831.5 473.8h0M831.5 476.6h0M831.6 472.6h0M831.6 472.6h0M831.7 479.0h0M831.8 473.4h0M831.8 474.9h0M831.9 473.4h0M831.9 474.1h0M832.0 470.9h0M832.1 471.9h0M832.1 473.8h0M832.2 477.5h0M832.2 473.0h0M832.3 476.2h0M832.4 475.8h0M832.4 469.1h0M832.5 474.9h0M832.5 478.5h0M832.6 482.2h0M832.7 479.0h0M832.7 478.5h0M832.8 478.0h0M832.8 474.5h0M832.9 475.3h0M833.0 475.8h0M833.0 479.5h0M833.1 474.9h0M833.1 478.0h0M833.2 476.6h0M833.3 479.0h0M833.3 479.5h0M833.4 479.5h0M833.4 474.9h0M833.5 473.8h0M833.6 481.1h0M833.6 477.5h0M833.7 474.1h0M833.7 476.6h0M833.8 480.5h0M833.9 480.0h0M833.9 481.1h0M834.0 488.5h0M834.0 478.5h0M834.1 479.0h0M834.2 486.9h0M834.2 486.2h0M834.3 481.6h0M834.3 480.0h0M834.4 481.6h0M834.5 484.1h0M834.5 483.4h0M834.6 474.9h0M834.6 482.2h0M834.7 482.8h0M834.8 478.5h0M834.8 477.5h0M834.9 482.8h0M834.9 482.2h0M835.0 481.1h0M835.1 480.0h0M835.1 478.0h0M835.2 480.0h0M835.2 484.8h0M835.3 482.8h0M835.4 481.6h0M835.4 482.2h0M835.5 480.0h0M835.5 485.4h0M835.6 481.1h0M835.7 484.1h0M835.7 481.1h0M835.8 484.8h0M835.8 492.1h0M835.9 488.5h0M836.0 484.1h0M836.0 476.6h0M836.1 489.3h0M836.1 490.2h0M836.2 478.0h0M836.3 486.2h0M836.3 485.4h0M836.4 480.5h0M836.4 481.1h0M836.5 489.3h0M836.6 482.2h0M836.6 485.4h0M836.7 490.2h0M836.7 485.4h0M836.8 489.3h0M836.9 488.5h0M836.9 483.4h0M837.0 486.2h0M837.0 484.8h0M837.1 488.5h0M837.2 484.8h0M837.2 487.7h0M837.3 485.4h0M837.3 486.2h0M837.4 484.8h0M837.5 490.2h0M837.5 487.7h0M837.6 484.8h0M837.6 486.9h0M837.7 480.0h0M837.8 491.1h0M837.8 486.2h0M837.9 483.4h0M837.9 486.9h0M838.0 487.7h0M838.1 494.2h0M838.1 489.3h0M838.2 493.1h0M838.2 486.2h0M838.3 487.7h0M838.4 488.5h0M838.4 497.9h0M838.5 493.1h0M838.5 493.1h0M838.6 486.2h0M838.7 495.4h0M838.7 497.9h0M838.8 490.2h0M838.8 484.8h0M838.9 488.5h0M839.0 508.5h0M839.0 494.2h0M839.1 496.6h0M839.1 491.1h0M839.2 485.4h0M839.3 488.5h0M839.3 487.7h0M839.4 492.1h0M839.4 488.5h0M839.5 486.9h0M839.6 493.1h0M839.6 487.7h0M839.7 492.1h0M839.7 491.1h0M839.8 495.4h0M839.9 488.5h0M839.9 491.1h0M840.0 490.2h0M840.0 494.2h0M840.1 496.6h0M840.2 494.2h0M840.2 488.5h0M840.3 492.1h0M840.3 497.9h0M840.4 496.6h0M840.5 487.7h0M840.5 502.5h0M840.6 504.3h0M840.6 506.3h0M840.7 502.5h0M840.8 500.8h0M840.8 487.7h0M840.9 499.3h0M840.9 495.4h0M841.0 506.3h0M841.1 495.4h0M841.1 506.3h0M841.2 492.1h0M841.2 504.3h0M841.3 500.8h0M841.4 492.1h0M841.4 499.3h0M841.5 502.5h0M841.5 495.4h0M841.6 502.5h0M841.7 497.9h0M841.7 494.2h0M841.8 506.3h0M841.8 511.1h0M841.9 506.3h0M842.0 489.3h0M842.0 492.1h0M842.1 517.5h0M842.1 506.3h0M842.2 499.3h0M842.3 489.3h0M842.3 500.8h0M842.4 496.6h0M842.4 494.2h0M842.5 511.1h0M842.6 506.3h0M842.6 504.3h0M842.7 514.0h0M842.7 500.8h0M842.8 497.9h0M842.9 497.9h0M842.9 494.2h0M843.0 514.0h0M843.0 494.2h0M843.1 508.5h0M843.2 500.8h0M843.2 497.9h0M843.3 504.3h0M843.3 493.1h0M843.4 500.8h0M843.5 506.3h0M843.5 500.8h0M843.6 500.8h0M843.6 508.5h0M843.7 496.6h0M843.8 500.8h0M843.8 491.1h0M843.9 521.7h0M843.9 511.1h0M844.0 504.3h0M844.1 495.4h0M844.1 497.9h0M844.2 508.5h0M844.2 514.0h0M844.3 521.7h0M844.4 493.1h0M844.4 506.3h0M844.5 508.5h0M844.5 504.3h0M844.6 497.9h0M844.7 517.5h0M844.7 499.3h0M844.8 500.8h0M844.8 500.8h0M844.9 504.3h0M845.0 500.8h0M845.0 511.1h0M845.1 504.3h0M845.1 506.3h0M845.2 514.0h0M845.3 500.8h0M845.3 506.3h0M845.4 494.2h0M845.4 495.4h0M845.5 504.3h0M845.6 504.3h0M845.6 534.8h0M845.7 521.7h0M845.7 497.9h0M845.8 514.0h0M845.9 511.1h0M845.9 514.0h0M846.0 502.5h0M846.0 511.1h0M846.1 497.9h0M846.2 497.9h0M846.2 511.1h0M846.3 508.5h0M846.3 514.0h0M846.4 511.1h0M846.5 508.5h0M846.5 499.3h0M846.6 508.5h0M846.6 504.3h0M846.7 506.3h0M846.8 502.5h0M846.8 500.8h0M846.9 514.0h0M846.9 517.5h0M847.0 511.1h0M847.1 504.3h0M847.1 504.3h0M847.2 506.3h0M847.2 517.5h0M847.3 495.4h0M847.4 514.0h0M847.4 508.5h0M847.5 506.3h0M847.5 508.5h0M847.6 514.0h0M847.7 499.3h0M847.7 521.7h0M847.8 508.5h0M847.8 514.0h0M847.9 500.8h0M848.0 502.5h0M848.0 502.5h0M848.1 500.8h0M848.1 506.3h0M848.2 514.0h0M848.3 506.3h0M848.3 514.0h0M848.4 511.1h0M848.4 514.0h0M848.5 527.1h0M848.6 514.0h0M848.6 521.7h0M848.7 521.7h0M848.7 511.1h0M848.8 508.5h0M848.9 502.5h0M848.9 508.5h0M849.0 511.1h0M849.0 514.0h0M849.1 508.5h0M849.2 511.1h0M849.2 521.7h0M849.3 521.7h0M849.3 517.5h0M849.4 508.5h0M849.5 511.1h0M849.5 500.8h0M849.6 514.0h0M849.6 548.0h0M849.7 508.5h0M849.8 511.1h0M849.8 511.1h0M849.9 508.5h0M849.9 500.8h0M850.0 521.7h0M850.1 517.5h0M850.1 508.5h0M850.2 506.3h0M850.2 511.1h0M850.3 511.1h0M850.4 499.3h0M850.4 521.7h0M850.5 511.1h0M850.5 521.7h0M850.6 514.0h0M850.7 521.7h0M850.7 521.7h0M850.8 548.0h0M850.8 521.7h0M850.9 521.7h0M851.0 517.5h0M851.0 511.1h0M851.1 534.8h0M851.1 504.3h0M851.2 511.1h0M851.3 517.5h0M851.3 504.3h0M851.4 506.3h0M851.4 517.5h0M851.5 514.0h0M851.6 527.1h0M851.6 534.8h0M851.7 521.7h0M851.7 527.1h0M851.8 527.1h0M851.9 527.1h0M851.9 534.8h0M852.0 548.0h0M852.0 506.3h0M852.1 514.0h0M852.2 548.0h0M852.2 508.5h0M852.3 527.1h0M852.3 527.1h0M852.4 514.0h0M852.5 521.7h0M852.5 548.0h0M852.6 514.0h0M852.7 548.0h0M852.8 514.0h0M852.8 517.5h0M852.9 548.0h0M852.9 527.1h0M853.0 534.8h0M853.1 521.7h0M853.1 527.1h0M853.2 548.0h0M853.3 527.1h0M853.4 511.1h0M853.4 514.0h0M853.5 527.1h0M853.5 517.5h0M853.6 514.0h0M853.7 517.5h0M853.7 514.0h0M853.8 517.5h0M853.8 534.8h0M853.9 521.7h0M854.0 517.5h0M854.0 534.8h0M854.1 534.8h0M854.1 521.7h0M854.2 548.0h0M854.3 534.8h0M854.3 527.1h0M854.4 534.8h0M854.4 517.5h0M854.5 514.0h0M854.6 534.8h0M854.6 514.0h0M854.7 517.5h0M854.7 527.1h0M854.8 517.5h0M854.9 548.0h0M854.9 534.8h0M855.0 534.8h0M855.0 548.0h0M855.1 534.8h0M855.2 527.1h0M855.2 517.5h0M855.3 517.5h0M855.4 521.7h0M855.5 521.7h0M855.5 527.1h0M855.6 527.1h0M855.6 521.7h0M855.7 548.0h0M855.8 527.1h0M855.8 548.0h0M855.9 527.1h0M855.9 514.0h0M856.0 534.8h0M856.1 548.0h0M856.1 548.0h0M856.2 548.0h0M856.2 534.8h0M856.3 534.8h0M856.4 548.0h0M856.5 548.0h0M856.5 534.8h0M856.6 521.7h0M856.7 514.0h0M856.7 527.1h0M856.8 521.7h0M856.8 527.1h0M856.9 534.8h0M857.0 534.8h0M857.0 534.8h0M857.1 534.8h0M857.1 548.0h0M857.2 514.0h0M857.3 527.1h0M857.3 521.7h0M857.4 517.5h0M857.4 527.1h0M857.5 548.0h0M857.6 548.0h0M857.6 548.0h0M857.7 527.1h0M857.7 527.1h0M857.8 534.8h0M857.9 534.8h0M857.9 548.0h0M858.0 548.0h0M858.0 548.0h0M858.1 527.1h0M858.2 548.0h0M858.2 527.1h0M858.3 534.8h0M858.3 534.8h0M858.5 534.8h0M858.5 534.8h0M858.6 548.0h0M858.6 548.0h0M858.7 548.0h0M858.8 548.0h0M858.8 548.0h0M858.9 521.7h0M859.1 527.1h0M859.1 521.7h0M859.2 527.1h0M859.2 548.0h0M859.3 527.1h0M859.4 548.0h0M859.4 534.8h0M859.5 527.1h0M859.5 527.1h0M859.6 548.0h0M859.7 534.8h0M859.7 527.1h0M859.8 517.5h0M859.8 521.7h0M860.0 548.0h0M860.1 534.8h0M860.1 548.0h0M860.2 517.5h0M860.3 548.0h0M860.4 517.5h0M860.4 521.7h0M860.5 534.8h0M860.6 534.8h0M860.6 548.0h0M860.7 534.8h0M860.7 521.7h0M860.8 534.8h0M860.9 534.8h0M860.9 534.8h0M861.0 548.0h0M861.0 534.8h0M861.2 527.1h0M861.3 527.1h0M861.3 521.7h0M861.4 527.1h0M861.5 527.1h0M861.5 534.8h0M861.6 534.8h0M861.7 534.8h0M861.8 534.8h0M861.8 548.0h0M861.9 548.0h0M861.9 514.0h0M862.0 527.1h0M862.2 534.8h0M862.2 534.8h0M862.3 534.8h0M862.4 534.8h0M862.4 548.0h0M862.5 534.8h0M862.7 534.8h0M862.8 534.8h0M862.8 548.0h0M862.9 548.0h0M863.0 548.0h0M863.1 527.1h0M863.1 548.0h0M863.3 548.0h0M863.5 534.8h0M863.6 534.8h0M863.7 548.0h0M863.8 527.1h0M863.9 548.0h0M863.9 548.0h0M864.0 548.0h0M864.1 548.0h0M864.2 534.8h0M864.2 548.0h0M864.3 534.8h0M864.5 548.0h0M864.6 548.0h0M864.6 534.8h0M864.7 548.0h0M864.9 548.0h0M865.0 548.0h0M865.4 548.0h0M865.5 534.8h0M865.6 548.0h0M866.0 548.0h0M866.3 548.0h0M866.4 548.0h0M866.5 548.0h0M866.6 527.1h0M866.6 548.0h0M867.0 548.0h0M867.1 548.0h0M867.2 548.0h0M867.2 548.0h0M867.4 548.0h0M867.9 534.8h0M867.9 548.0h0M868.0 548.0h0M866.9 500.4h0" stroke="#0072bd" stroke-width="3.0" stroke-linecap="round" fill="none"/>
<path d="M731.9 548.0h0M732.6 548.0h0M734.2 548.0h0M734.5 548.0h0M734.8 548.0h0M735.2 548.0h0M735.4 548.0h0M735.8 534.8h0M736.1 548.0h0M736.3 548.0h0M736.4 548.0h0M736.5 548.0h0M736.7 548.0h0M736.8 548.0h0M736.9 548.0h0M737.0 548.0h0M737.3 548.0h0M737.8 548.0h0M738.0 548.0h0M738.1 548.0h0M738.1 548.0h0M738.2 548.0h0M738.4 548.0h0M738.4 548.0h0M738.6 548.0h0M738.8 548.0h0M739.0 548.0h0M739.1 548.0h0M739.1 548.0h0M739.3 534.8h0M739.4 548.0h0M739.6 548.0h0M739.7 548.0h0M739.9 534.8h0M740.1 548.0h0M740.2 548.0h0M740.3 548.0h0M740.4 548.0h0M740.5 548.0h0M740.7 548.0h0M740.8 548.0h0M740.9 548.0h0M741.0 548.0h0M741.1 548.0h0M741.1 534.8h0M741.3 548.0h0M741.4 548.0h0M741.4 548.0h0M741.8 548.0h0M741.8 548.0h0M742.0 548.0h0M742.0 534.8h0M742.1 548.0h0M742.1 548.0h0M742.2 534.8h0M742.3 534.8h0M742.3 534.8h0M742.4 548.0h0M742.5 548.0h0M742.6 527.1h0M742.7 548.0h0M742.7 548.0h0M742.9 548.0h0M743.0 548.0h0M743.2 548.0h0M743.2 548.0h0M743.3 534.8h0M743.5 548.0h0M743.5 534.8h0M743.6 548.0h0M743.8 534.8h0M743.9 548.0h0M743.9 548.0h0M744.0 527.1h0M744.1 534.8h0M744.2 548.0h0M744.3 534.8h0M744.4 527.1h0M744.4 548.0h0M744.5 548.0h0M744.6 534.8h0M744.7 548.0h0M744.7 548.0h0M744.8 548.0h0M745.0 548.0h0M745.1 534.8h0M745.2 548.0h0M745.3 527.1h0M745.4 548.0h0M745.4 548.0h0M745.5 548.0h0M745.6 534.8h0M745.7 548.0h0M745.7 527.1h0M745.8 548.0h0M745.9 548.0h0M746.0 534.8h0M746.1 534.8h0M746.2 534.8h0M746.2 548.0h0M746.3 534.8h0M746.3 527.1h0M746.4 548.0h0M746.5 534.8h0M746.5 521.7h0M746.6 548.0h0M746.7 527.1h0M746.8 534.8h0M746.8 548.0h0M746.9 527.1h0M747.0 527.1h0M747.1 527.1h0M747.1 534.8h0M747.2 534.8h0M747.2 534.8h0M747.3 534.8h0M747.4 527.1h0M747.4 517.5h0M747.5 527.1h0M747.5 527.1h0M747.6 548.0h0M747.7 534.8h0M747.7 527.1h0M747.8 527.1h0M747.8 548.0h0M748.0 548.0h0M748.0 521.7h0M748.1 548.0h0M748.2 527.1h0M748.4 527.1h0M748.5 548.0h0M748.6 534.8h0M748.6 534.8h0M748.7 527.1h0M748.8 527.1h0M748.9 534.8h0M749.0 527.1h0M749.0 534.8h0M749.1 521.7h0M749.2 527.1h0M749.2 548.0h0M749.3 534.8h0M749.3 548.0h0M749.4 527.1h0M749.5 534.8h0M749.5 514.0h0M749.6 527.1h0M749.7 548.0h0M749.8 534.8h0M749.8 548.0h0M749.9 517.5h0M749.9 534.8h0M750.0 548.0h0M750.1 521.7h0M750.1 527.1h0M750.2 527.1h0M750.3 534.8h0M750.4 521.7h0M750.4 548.0h0M750.5 527.1h0M750.5 534.8h0M750.6 521.7h0M750.7 514.0h0M750.7 527.1h0M750.8 517.5h0M750.9 517.5h0M751.0 514.0h0M751.0 521.7h0M751.1 514.0h0M751.1 527.1h0M751.2 517.5h0M751.3 511.1h0M751.3 534.8h0M751.4 548.0h0M751.4 527.1h0M751.5 534.8h0M751.6 527.1h0M751.6 514.0h0M751.7 534.8h0M751.7 548.0h0M751.8 517.5h0M751.9 548.0h0M751.9 517.5h0M752.0 548.0h0M752.0 521.7h0M752.1 511.1h0M752.2 527.1h0M752.2 521.7h0M752.3 502.5h0M752.3 548.0h0M752.4 514.0h0M752.5 511.1h0M752.5 521.7h0M752.6 514.0h0M752.6 521.7h0M752.7 517.5h0M752.8 511.1h0M752.8 517.5h0M752.9 508.5h0M752.9 527.1h0M753.0 517.5h0M753.1 527.1h0M753.1 517.5h0M753.2 506.3h0M753.2 506.3h0M753.3 521.7h0M753.4 527.1h0M753.4 508.5h0M753.5 514.0h0M753.5 517.5h0M753.6 521.7h0M753.7 508.5h0M753.7 508.5h0M753.8 517.5h0M753.8 511.1h0M753.9 508.5h0M754.0 502.5h0M754.0 499.3h0M754.1 506.3h0M754.1 488.5h0M754.2 500.8h0M754.3 500.8h0M754.3 495.4h0M754.4 494.2h0M754.4 486.2h0M754.5 491.1h0M754.6 493.1h0M754.6 481.6h0M754.7 485.4h0M754.7 482.2h0M754.8 481.1h0M754.9 477.1h0M754.9 479.0h0M755.0 472.3h0M755.0 471.3h0M755.1 467.6h0M755.2 470.3h0M755.2 465.1h0M755.3 466.6h0M755.3 460.2h0M755.4 457.3h0M755.5 455.9h0M755.5 453.4h0M755.6 454.4h0M755.6 454.4h0M755.7 449.0h0M755.8 447.2h0M755.8 442.4h0M755.9 442.1h0M755.9 438.1h0M756.0 435.9h0M756.1 432.5h0M756.1 430.0h0M756.2 427.8h0M756.2 425.3h0M756.3 423.3h0M756.4 424.7h0M756.4 422.5h0M756.5 421.9h0M756.5 421.2h0M756.6 419.5h0M756.7 417.5h0M756.7 416.7h0M756.8 416.9h0M756.8 416.7h0M756.9 414.8h0M757.0 414.4h0M757.0 413.5h0M757.1 412.2h0M757.1 412.0h0M757.2 410.9h0M757.3 409.8h0M757.3 409.0h0M757.4 407.7h0M757.4 406.9h0M757.5 405.7h0M757.6 405.3h0M757.6 404.1h0M757.7 403.6h0M757.7 403.0h0M757.8 401.2h0M757.9 400.3h0M757.9 399.3h0M758.0 398.7h0M758.0 398.0h0M758.1 397.4h0M758.2 396.9h0M758.2 396.3h0M758.3 394.6h0M758.3 393.5h0M758.4 392.3h0M758.5 391.9h0M758.5 390.3h0M758.6 389.7h0M758.6 389.6h0M758.7 388.3h0M758.8 387.4h0M758.8 386.5h0M758.9 385.5h0M758.9 384.7h0M759.0 383.9h0M759.1 382.9h0M759.1 382.0h0M759.2 381.1h0M759.2 380.2h0M759.3 379.3h0M759.4 378.5h0M759.4 377.6h0M759.5 376.7h0M759.5 375.7h0M759.6 374.8h0M759.7 374.1h0M759.7 373.0h0M759.8 372.2h0M759.8 371.2h0M759.9 370.3h0M760.0 369.5h0M760.0 368.8h0M760.1 368.4h0M760.1 368.0h0M760.2 367.6h0M760.3 367.2h0M760.3 366.9h0M760.4 366.5h0M760.4 366.1h0M760.5 365.7h0M760.6 365.3h0M760.6 364.9h0M760.7 364.6h0M760.7 364.2h0M760.8 363.8h0M760.9 363.4h0M760.9 363.0h0M761.0 362.7h0M761.0 362.3h0M761.1 362.2h0M761.2 362.1h0M761.2 361.9h0M761.3 361.6h0M761.3 361.5h0M761.4 361.4h0M761.5 361.2h0M761.5 361.0h0M761.6 360.8h0M761.6 360.7h0M761.7 360.5h0M761.8 360.3h0M761.8 360.2h0M761.9 359.9h0M761.9 359.8h0M762.0 359.6h0M762.1 359.4h0M762.1 359.2h0M762.2 359.0h0M762.2 358.9h0M762.3 358.9h0M762.4 358.8h0M762.4 358.8h0M762.5 358.7h0M762.5 358.6h0M762.6 358.6h0M762.7 358.5h0M762.7 358.4h0M762.8 358.4h0M762.8 358.3h0M762.9 358.3h0M763.0 358.1h0M763.0 358.1h0M763.1 358.0h0M763.1 357.9h0M763.2 357.9h0M763.3 357.9h0M763.3 358.0h0M763.4 358.0h0M763.4 358.2h0M763.5 358.1h0M763.6 358.3h0M763.6 358.4h0M763.7 358.4h0M763.7 358.4h0M763.8 358.4h0M763.9 358.6h0M763.9 358.6h0M764.0 358.6h0M764.0 358.7h0M764.1 358.8h0M764.2 358.9h0M764.2 359.0h0M764.3 359.0h0M764.3 359.1h0M764.4 359.3h0M764.5 359.5h0M764.5 359.6h0M764.6 359.8h0M764.6 360.0h0M764.7 360.1h0M764.8 360.3h0M764.8 360.5h0M764.9 360.7h0M764.9 360.9h0M765.0 361.1h0M765.1 361.2h0M765.1 361.4h0M765.2 361.5h0M765.2 361.8h0M765.3 361.9h0M765.4 362.1h0M765.4 362.3h0M765.5 362.4h0M765.5 362.8h0M765.6 363.1h0M765.7 363.4h0M765.7 363.8h0M765.8 364.2h0M765.8 364.5h0M765.9 364.9h0M766.0 365.2h0M766.0 365.5h0M766.1 365.9h0M766.1 366.2h0M766.2 366.6h0M766.3 366.9h0M766.3 367.2h0M766.4 367.6h0M766.4 367.9h0M766.5 368.4h0M766.6 368.6h0M766.6 369.3h0M766.7 370.1h0M766.7 370.9h0M766.8 371.8h0M766.9 372.7h0M766.9 373.7h0M767.0 374.6h0M767.0 375.4h0M767.1 376.4h0M767.2 377.2h0M767.2 378.2h0M767.3 379.0h0M767.3 379.9h0M767.4 380.9h0M767.5 381.7h0M767.5 382.5h0M767.6 383.5h0M767.6 384.3h0M767.7 385.3h0M767.8 386.2h0M767.8 386.9h0M767.9 387.9h0M767.9 388.9h0M768.0 389.4h0M768.1 390.7h0M768.1 391.3h0M768.2 392.6h0M768.2 393.3h0M768.3 394.6h0M768.4 395.1h0M768.4 395.9h0M768.5 396.5h0M768.5 398.0h0M768.6 398.7h0M768.7 400.9h0M768.7 402.1h0M768.8 402.9h0M768.8 404.0h0M768.9 405.7h0M769.0 406.2h0M769.0 407.5h0M769.1 409.2h0M769.1 410.2h0M769.2 411.5h0M769.3 411.8h0M769.3 413.9h0M769.4 414.8h0M769.4 415.4h0M769.5 416.9h0M769.6 417.2h0M769.6 419.5h0M769.7 421.8h0M769.7 421.6h0M769.8 423.2h0M769.9 424.1h0M769.9 424.6h0M770.0 425.9h0M770.0 428.5h0M770.1 431.8h0M770.2 430.9h0M770.2 431.4h0M770.3 432.9h0M770.3 433.7h0M770.4 435.3h0M770.5 435.8h0M770.5 439.0h0M770.6 438.5h0M770.6 439.8h0M770.7 442.2h0M770.8 444.0h0M770.8 443.4h0M770.9 449.4h0M770.9 447.4h0M771.0 450.6h0M771.1 449.2h0M771.1 451.4h0M771.2 455.0h0M771.2 456.2h0M771.3 459.0h0M771.4 457.3h0M771.4 461.2h0M771.5 461.0h0M771.5 463.0h0M771.6 466.1h0M771.7 461.4h0M771.7 466.1h0M771.8 471.3h0M771.8 470.6h0M771.9 472.3h0M772.0 476.2h0M772.0 480.5h0M772.1 483.4h0M772.1 482.8h0M772.2 484.8h0M772.3 480.5h0M772.3 495.4h0M772.4 480.0h0M772.4 486.9h0M772.5 491.1h0M772.6 495.4h0M772.6 486.2h0M772.7 496.6h0M772.7 494.2h0M772.8 492.1h0M772.9 497.9h0M772.9 506.3h0M773.0 496.6h0M773.0 517.5h0M773.1 491.1h0M773.2 493.1h0M773.2 517.5h0M773.3 506.3h0M773.3 508.5h0M773.4 504.3h0M773.5 506.3h0M773.5 496.6h0M773.6 499.3h0M773.6 508.5h0M773.7 506.3h0M773.8 517.5h0M773.8 504.3h0M773.9 508.5h0M773.9 493.1h0M774.0 514.0h0M774.1 497.9h0M774.1 500.8h0M774.2 504.3h0M774.2 499.3h0M774.3 511.1h0M774.4 517.5h0M774.4 491.1h0M774.5 504.3h0M774.5 508.5h0M774.6 499.3h0M774.7 506.3h0M774.7 495.4h0M774.8 506.3h0M774.8 500.8h0M774.9 500.8h0M775.0 497.9h0M775.0 508.5h0M775.1 521.7h0M775.1 504.3h0M775.2 521.7h0M775.3 499.3h0M775.3 521.7h0M775.4 499.3h0M775.4 499.3h0M775.5 514.0h0M775.6 500.8h0M775.6 504.3h0M775.7 504.3h0M775.7 511.1h0M775.8 506.3h0M775.9 502.5h0M775.9 502.5h0M776.0 502.5h0M776.0 514.0h0M776.1 502.5h0M776.2 517.5h0M776.2 511.1h0M776.3 506.3h0M776.3 506.3h0M776.4 502.5h0M776.5 496.6h0M776.5 511.1h0M776.6 506.3h0M776.6 514.0h0M776.7 494.2h0M776.8 504.3h0M776.8 500.8h0M776.9 511.1h0M776.9 502.5h0M777.0 511.1h0M777.1 508.5h0M777.1 504.3h0M777.2 504.3h0M777.2 508.5h0M777.3 508.5h0M777.4 521.7h0M777.4 508.5h0M777.5 502.5h0M777.5 511.1h0M777.6 517.5h0M777.7 502.5h0M777.7 511.1h0M777.8 527.1h0M777.8 504.3h0M777.9 511.1h0M778.0 514.0h0M778.0 514.0h0M778.1 521.7h0M778.1 517.5h0M778.2 500.8h0M778.3 514.0h0M778.3 511.1h0M778.4 508.5h0M778.4 517.5h0M778.5 514.0h0M778.6 511.1h0M778.6 514.0h0M778.7 521.7h0M778.7 502.5h0M778.8 517.5h0M778.9 521.7h0M778.9 514.0h0M779.0 517.5h0M779.0 548.0h0M779.1 517.5h0M779.2 514.0h0M779.2 527.1h0M779.3 521.7h0M779.3 517.5h0M779.4 506.3h0M779.5 521.7h0M779.5 517.5h0M779.6 500.8h0M779.6 517.5h0M779.7 517.5h0M779.8 521.7h0M779.8 534.8h0M779.9 534.8h0M779.9 514.0h0M780.0 521.7h0M780.1 511.1h0M780.1 527.1h0M780.2 508.5h0M780.2 527.1h0M780.3 527.1h0M780.4 506.3h0M780.4 511.1h0M780.5 521.7h0M780.5 521.7h0M780.6 517.5h0M780.7 504.3h0M780.7 521.7h0M780.8 508.5h0M780.8 514.0h0M780.9 534.8h0M781.0 517.5h0M781.0 514.0h0M781.1 511.1h0M781.1 527.1h0M781.2 517.5h0M781.3 517.5h0M781.3 521.7h0M781.4 500.8h0M781.4 514.0h0M781.5 517.5h0M781.6 521.7h0M781.6 527.1h0M781.7 521.7h0M781.7 527.1h0M781.8 508.5h0M781.9 517.5h0M781.9 527.1h0M782.0 527.1h0M782.0 517.5h0M782.1 517.5h0M782.2 521.7h0M782.2 527.1h0M782.3 521.7h0M782.3 534.8h0M782.4 517.5h0M782.5 517.5h0M782.5 521.7h0M782.6 527.1h0M782.6 517.5h0M782.7 521.7h0M782.8 514.0h0M782.8 548.0h0M782.9 521.7h0M782.9 521.7h0M783.0 521.7h0M783.1 534.8h0M783.1 534.8h0M783.2 548.0h0M783.2 548.0h0M783.3 548.0h0M783.4 534.8h0M783.5 517.5h0M783.5 517.5h0M783.6 527.1h0M783.7 506.3h0M783.7 548.0h0M783.8 534.8h0M783.8 517.5h0M783.9 514.0h0M784.0 534.8h0M784.0 534.8h0M784.1 527.1h0M784.3 514.0h0M784.3 517.5h0M784.4 521.7h0M784.4 514.0h0M784.5 527.1h0M784.6 548.0h0M784.6 534.8h0M784.7 527.1h0M784.7 521.7h0M784.8 517.5h0M784.9 521.7h0M784.9 514.0h0M785.0 521.7h0M785.0 517.5h0M785.1 517.5h0M785.2 534.8h0M785.2 534.8h0M785.3 517.5h0M785.3 521.7h0M785.4 521.7h0M785.5 517.5h0M785.5 527.1h0M785.6 534.8h0M785.6 534.8h0M785.7 527.1h0M785.8 534.8h0M785.8 511.1h0M785.9 527.1h0M785.9 517.5h0M786.0 548.0h0M786.1 508.5h0M786.1 521.7h0M786.2 521.7h0M786.4 521.7h0M786.4 527.1h0M786.5 517.5h0M786.5 527.1h0M786.6 548.0h0M786.7 527.1h0M786.7 548.0h0M786.8 511.1h0M786.8 508.5h0M786.9 534.8h0M787.0 548.0h0M787.0 527.1h0M787.1 534.8h0M787.1 527.1h0M787.3 521.7h0M787.3 521.7h0M787.4 534.8h0M787.4 548.0h0M787.5 521.7h0M787.6 527.1h0M787.6 521.7h0M787.7 511.1h0M787.8 527.1h0M787.9 548.0h0M787.9 517.5h0M788.0 527.1h0M788.0 534.8h0M788.1 534.8h0M788.2 517.5h0M788.3 527.1h0M788.3 527.1h0M788.5 527.1h0M788.5 548.0h0M788.6 548.0h0M788.6 534.8h0M788.7 527.1h0M788.8 534.8h0M788.8 527.1h0M788.9 548.0h0M788.9 527.1h0M789.0 548.0h0M789.1 527.1h0M789.2 534.8h0M789.2 548.0h0M789.3 534.8h0M789.4 527.1h0M789.4 534.8h0M789.5 527.1h0M789.5 534.8h0M789.6 548.0h0M789.7 517.5h0M789.7 521.7h0M789.8 517.5h0M789.8 534.8h0M789.9 548.0h0M790.0 527.1h0M790.0 521.7h0M790.1 527.1h0M790.2 548.0h0M790.3 527.1h0M790.3 534.8h0M790.4 534.8h0M790.6 521.7h0M790.7 548.0h0M790.9 548.0h0M790.9 548.0h0M791.0 521.7h0M791.0 521.7h0M791.1 534.8h0M791.2 527.1h0M791.2 527.1h0M791.3 534.8h0M791.3 534.8h0M791.4 527.1h0M791.5 548.0h0M791.5 548.0h0M791.6 548.0h0M791.6 534.8h0M791.7 534.8h0M791.8 521.7h0M791.8 548.0h0M791.9 534.8h0M792.0 548.0h0M792.1 548.0h0M792.1 548.0h0M792.2 534.8h0M792.2 548.0h0M792.3 534.8h0M792.4 527.1h0M792.4 517.5h0M792.5 517.5h0M792.5 534.8h0M792.6 548.0h0M792.7 534.8h0M792.7 534.8h0M792.8 534.8h0M792.9 534.8h0M793.0 527.1h0M793.0 534.8h0M793.1 534.8h0M793.1 548.0h0M793.2 548.0h0M793.4 548.0h0M793.5 548.0h0M793.6 534.8h0M793.7 521.7h0M793.8 534.8h0M793.9 534.8h0M793.9 548.0h0M794.0 534.8h0M794.0 548.0h0M794.1 527.1h0M794.2 548.0h0M794.3 527.1h0M794.5 548.0h0M794.6 548.0h0M794.6 548.0h0M794.8 534.8h0M794.8 548.0h0M794.9 527.1h0M794.9 534.8h0M795.0 548.0h0M795.1 548.0h0M795.1 548.0h0M795.2 548.0h0M795.4 548.0h0M795.4 548.0h0M795.5 548.0h0M795.7 534.8h0M795.8 548.0h0M795.9 548.0h0M796.1 534.8h0M796.3 548.0h0M796.4 548.0h0M796.5 534.8h0M796.6 534.8h0M796.7 548.0h0M796.9 548.0h0M796.9 548.0h0M797.0 548.0h0M797.0 534.8h0M797.2 548.0h0M797.2 548.0h0M797.3 534.8h0M797.4 527.1h0M797.5 534.8h0M797.6 548.0h0M797.8 548.0h0M797.9 548.0h0M797.9 527.1h0M798.0 548.0h0M798.2 548.0h0M798.3 534.8h0M798.4 548.0h0M798.5 548.0h0M798.5 548.0h0M798.6 534.8h0M798.7 548.0h0M798.8 548.0h0M798.8 527.1h0M798.9 548.0h0M799.0 534.8h0M799.1 548.0h0M799.2 548.0h0M799.3 548.0h0M799.4 548.0h0M799.4 534.8h0M799.6 548.0h0M799.6 548.0h0M799.7 527.1h0M799.8 534.8h0M799.9 534.8h0M800.0 534.8h0M800.2 534.8h0M800.2 548.0h0M800.3 548.0h0M800.4 548.0h0M800.5 548.0h0M800.6 534.8h0M800.7 527.1h0M800.8 534.8h0M800.9 548.0h0M800.9 534.8h0M801.2 534.8h0M801.4 548.0h0M801.5 548.0h0M801.5 548.0h0M801.8 534.8h0M801.8 548.0h0M802.0 534.8h0M802.2 534.8h0M802.6 548.0h0M802.6 548.0h0M803.2 534.8h0M803.3 548.0h0M803.4 548.0h0M803.5 548.0h0M803.6 534.8h0M803.8 548.0h0M804.1 548.0h0M804.2 548.0h0M804.5 548.0h0M804.7 548.0h0M804.8 548.0h0M804.9 548.0h0M805.1 548.0h0M805.4 548.0h0M805.4 548.0h0M805.6 548.0h0M805.8 548.0h0M805.9 548.0h0M806.0 548.0h0M806.1 548.0h0M806.2 548.0h0M806.5 534.8h0M806.9 548.0h0M807.0 548.0h0M807.1 548.0h0M807.2 548.0h0M807.7 548.0h0M807.8 548.0h0M807.9 548.0h0M808.0 548.0h0M808.1 548.0h0M808.3 548.0h0M808.5 548.0h0M808.7 548.0h0M808.9 548.0h0M810.1 548.0h0M810.3 548.0h0M811.2 548.0h0M811.6 548.0h0M811.7 548.0h0M811.8 548.0h0M812.6 548.0h0M812.8 548.0h0M813.4 548.0h0M813.9 548.0h0M814.4 548.0h0M815.2 548.0h0M815.9 548.0h0M816.2 548.0h0M816.3 548.0h0M816.4 548.0h0M816.5 548.0h0M817.0 548.0h0M817.2 548.0h0M817.5 548.0h0M818.3 534.8h0M819.4 548.0h0M820.7 548.0h0M821.4 534.8h0M821.6 548.0h0M822.2 548.0h0M822.9 548.0h0M825.0 548.0h0M828.5 548.0h0M829.2 548.0h0M830.5 548.0h0M834.2 548.0h0" stroke="#edb120" stroke-width="2.4" stroke-linecap="round" fill="none"/>
<path d="M657.42 548.0v-3M657.42 329.5v3M709.83 548.0v-3M709.83 329.5v3M762.25 548.0v-3M762.25 329.5v3M814.67 548.0v-3M814.67 329.5v3M867.08 548.0v-3M867.08 329.5v3M605.0 548.00h3.8M919.5 548.00h-3.8M605.0 504.30h3.8M919.5 504.30h-3.8M605.0 460.60h3.8M919.5 460.60h-3.8M605.0 416.90h3.8M919.5 416.90h-3.8M605.0 373.20h3.8M919.5 373.20h-3.8M605.0 329.50h3.8M919.5 329.50h-3.8M605.0 534.84h2.6M919.5 534.84h-2.6M605.0 527.15h2.6M919.5 527.15h-2.6M605.0 521.69h2.6M919.5 521.69h-2.6M605.0 517.46h2.6M919.5 517.46h-2.6M605.0 513.99h2.6M919.5 513.99h-2.6M605.0 511.07h2.6M919.5 511.07h-2.6M605.0 508.53h2.6M919.5 508.53h-2.6M605.0 506.30h2.6M919.5 506.30h-2.6M605.0 491.14h2.6M919.5 491.14h-2.6M605.0 483.45h2.6M919.5 483.45h-2.6M605.0 477.99h2.6M919.5 477.99h-2.6M605.0 473.76h2.6M919.5 473.76h-2.6M605.0 470.29h2.6M919.5 470.29h-2.6M605.0 467.37h2.6M919.5 467.37h-2.6M605.0 464.83h2.6M919.5 464.83h-2.6M605.0 462.60h2.6M919.5 462.60h-2.6M605.0 447.44h2.6M919.5 447.44h-2.6M605.0 439.75h2.6M919.5 439.75h-2.6M605.0 434.29h2.6M919.5 434.29h-2.6M605.0 430.06h2.6M919.5 430.06h-2.6M605.0 426.59h2.6M919.5 426.59h-2.6M605.0 423.67h2.6M919.5 423.67h-2.6M605.0 421.13h2.6M919.5 421.13h-2.6M605.0 418.90h2.6M919.5 418.90h-2.6M605.0 403.74h2.6M919.5 403.74h-2.6M605.0 396.05h2.6M919.5 396.05h-2.6M605.0 390.59h2.6M919.5 390.59h-2.6M605.0 386.36h2.6M919.5 386.36h-2.6M605.0 382.89h2.6M919.5 382.89h-2.6M605.0 379.97h2.6M919.5 379.97h-2.6M605.0 377.43h2.6M919.5 377.43h-2.6M605.0 375.20h2.6M919.5 375.20h-2.6M605.0 360.04h2.6M919.5 360.04h-2.6M605.0 352.35h2.6M919.5 352.35h-2.6M605.0 346.89h2.6M919.5 346.89h-2.6M605.0 342.66h2.6M919.5 342.66h-2.6M605.0 339.19h2.6M919.5 339.19h-2.6M605.0 336.27h2.6M919.5 336.27h-2.6M605.0 333.73h2.6M919.5 333.73h-2.6M605.0 331.50h2.6M919.5 331.50h-2.6" stroke="#262626" stroke-width="0.9" fill="none"/>
<rect x="605.0" y="329.5" width="314.5" height="218.5" fill="none" stroke="#2b2b2b" stroke-width="1.3"/>
<g font-family="'Liberation Sans', Arial, Helvetica, sans-serif" font-size="9" fill="#262626" clip-path="url(#clipR921)"><text x="605.0" y="560.8" text-anchor="middle" font-size="9.5">0.85</text><text x="657.4" y="560.8" text-anchor="middle" font-size="9.5">0.9</text><text x="709.8" y="560.8" text-anchor="middle" font-size="9.5">0.95</text><text x="762.2" y="560.8" text-anchor="middle" font-size="9.5">1</text><text x="814.7" y="560.8" text-anchor="middle" font-size="9.5">1.05</text><text x="867.1" y="560.8" text-anchor="middle" font-size="9.5">1.1</text><text x="919.5" y="560.8" text-anchor="middle" font-size="9.5">1.15</text><text x="597.2" y="552.9" text-anchor="end" font-size="9.6">10</text><text x="597.5" y="548.6" font-size="7.6">0</text><text x="597.2" y="509.2" text-anchor="end" font-size="9.6">10</text><text x="597.5" y="504.9" font-size="7.6">1</text><text x="597.2" y="465.5" text-anchor="end" font-size="9.6">10</text><text x="597.5" y="461.2" font-size="7.6">2</text><text x="597.2" y="421.8" text-anchor="end" font-size="9.6">10</text><text x="597.5" y="417.5" font-size="7.6">3</text><text x="597.2" y="378.1" text-anchor="end" font-size="9.6">10</text><text x="597.5" y="373.8" font-size="7.6">4</text><text x="597.2" y="334.4" text-anchor="end" font-size="9.6">10</text><text x="597.5" y="330.1" font-size="7.6">5</text></g>
<text x="0" y="0" transform="translate(583.5 438.8) rotate(-90)" text-anchor="middle" font-family="'Liberation Sans', Arial, Helvetica, sans-serif" font-size="10" fill="#262626" textLength="49.8" lengthAdjust="spacingAndGlyphs">Frequency</text>
<text x="762.2" y="574.2" text-anchor="middle" font-family="'Liberation Sans', Arial, Helvetica, sans-serif" font-size="10" fill="#262626" textLength="107.9" lengthAdjust="spacingAndGlyphs">Relative pixel response</text>
<rect x="832" y="335.4" width="82.2" height="23.5" fill="#fff" stroke="#262626" stroke-width="1"/>
<path d="M839.6 341.7h0" stroke="#0072bd" stroke-width="2.6" stroke-linecap="round" fill="none"/>
<path d="M839.6 353.0h0" stroke="#edb120" stroke-width="2.6" stroke-linecap="round" fill="none"/>
<text x="846.9" y="344.7" font-family="'Liberation Sans', Arial, Helvetica, sans-serif" font-size="8.6" fill="#000" textLength="65" lengthAdjust="spacingAndGlyphs">Before correction</text>
<text x="846.9" y="356" font-family="'Liberation Sans', Arial, Helvetica, sans-serif" font-size="8.6" fill="#000" textLength="58.5" lengthAdjust="spacingAndGlyphs">After correction</text>
</g>
</svg></body></html>
